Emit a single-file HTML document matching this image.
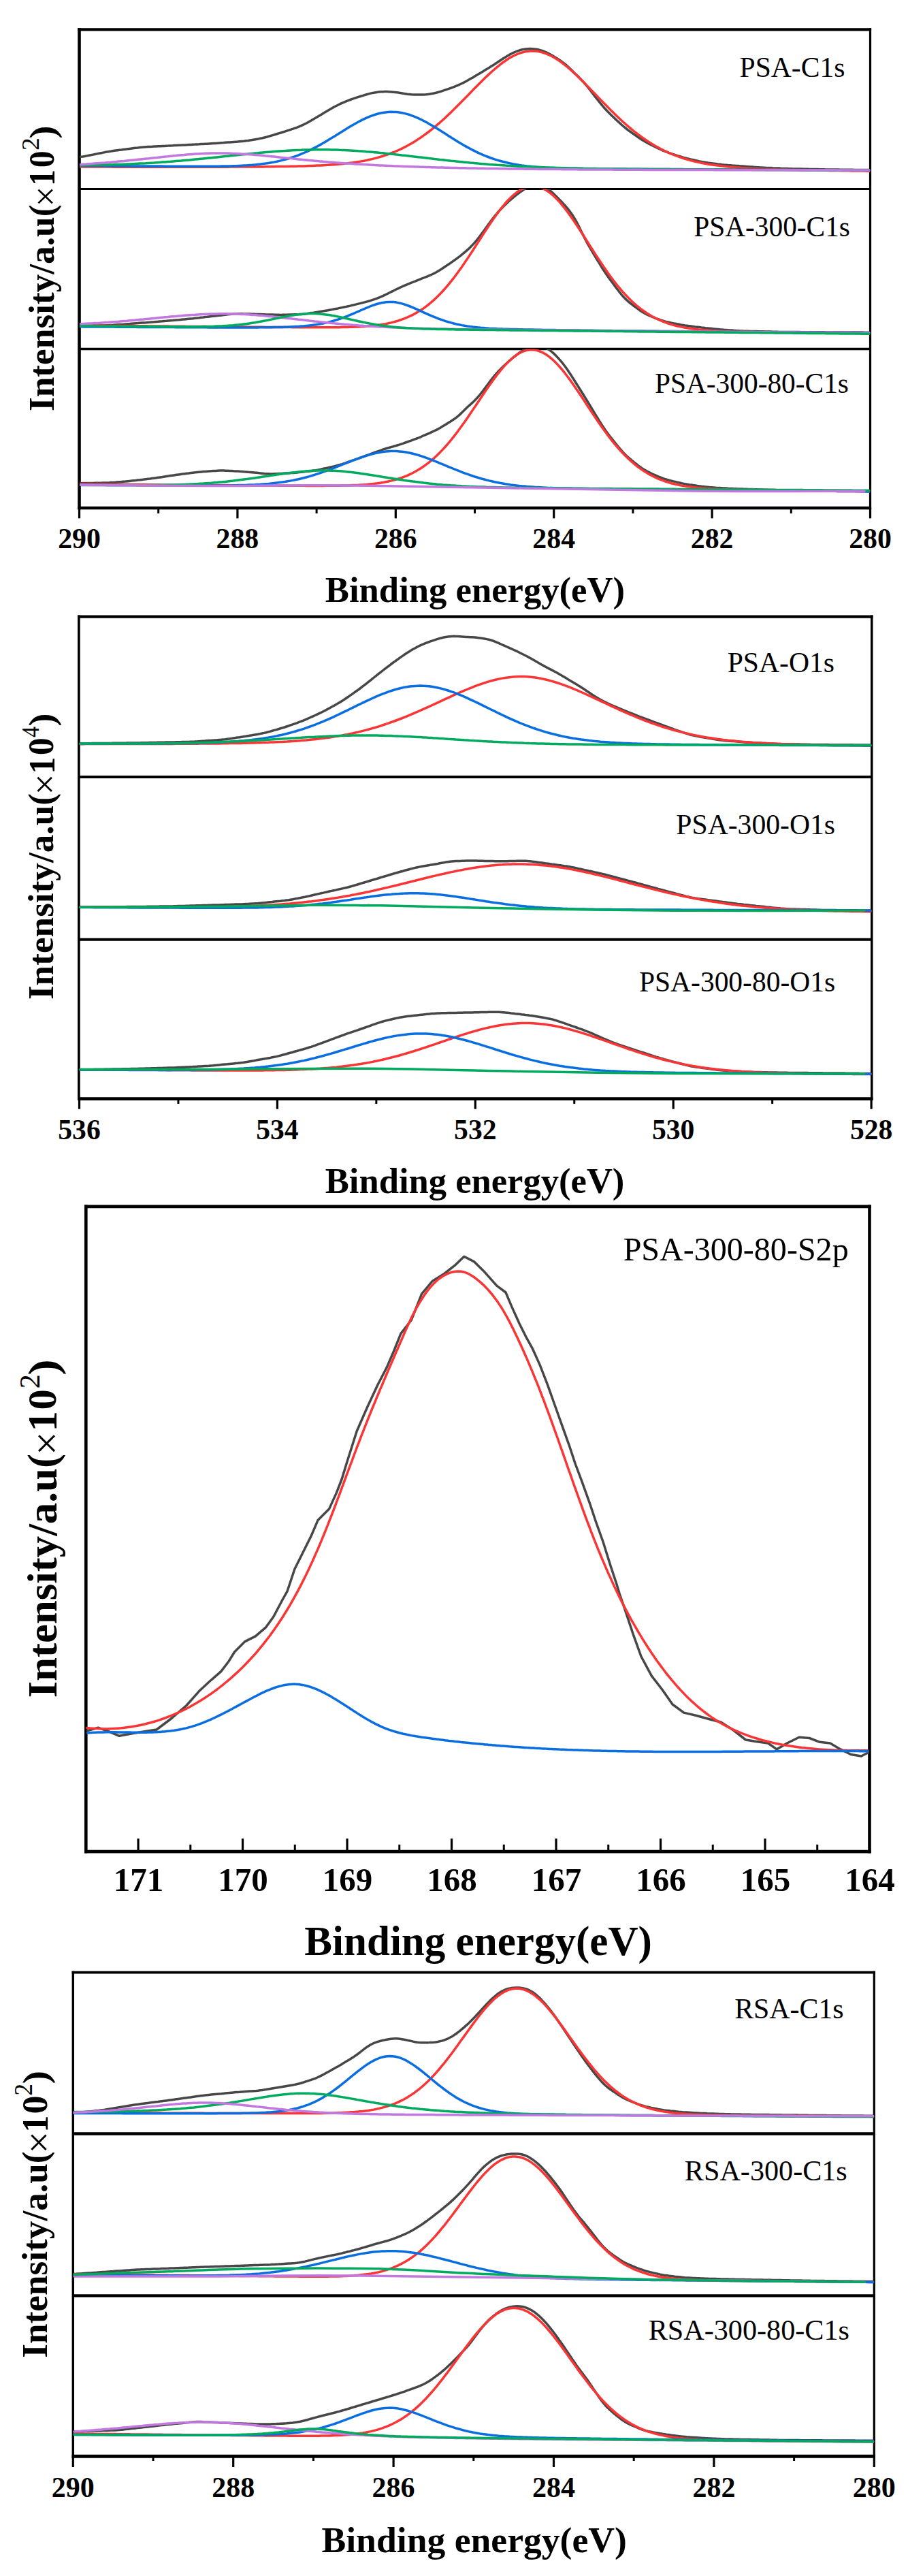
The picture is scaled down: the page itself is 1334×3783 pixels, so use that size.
<!DOCTYPE html><html><head><meta charset="utf-8"><style>html,body{margin:0;padding:0;background:#fff}svg{display:block}</style></head><body><svg width="1334" height="3783" viewBox="0 0 1334 3783"><defs><clipPath id="c1"><rect x="116.50" y="43.35" width="1162.00" height="234.25"/></clipPath><clipPath id="c2"><rect x="116.50" y="277.60" width="1162.00" height="234.85"/></clipPath><clipPath id="c3"><rect x="116.50" y="512.45" width="1162.00" height="233.55"/></clipPath><clipPath id="c4"><rect x="115.85" y="905.55" width="1164.90" height="235.50"/></clipPath><clipPath id="c5"><rect x="115.85" y="1141.05" width="1164.90" height="238.60"/></clipPath><clipPath id="c6"><rect x="115.85" y="1379.65" width="1164.90" height="234.05"/></clipPath><clipPath id="c7"><rect x="126.30" y="1771.90" width="1151.20" height="947.15"/></clipPath><clipPath id="c8"><rect x="107.30" y="2896.60" width="1177.00" height="236.90"/></clipPath><clipPath id="c9"><rect x="107.30" y="3133.50" width="1177.00" height="237.95"/></clipPath><clipPath id="c10"><rect x="107.30" y="3371.45" width="1177.00" height="235.80"/></clipPath></defs><rect width="100%" height="100%" fill="#fff"/><line x1="116.50" y1="277.60" x2="1278.50" y2="277.60" stroke="#000" stroke-width="3.00"/>
<line x1="116.50" y1="512.45" x2="1278.50" y2="512.45" stroke="#000" stroke-width="3.40"/>
<line x1="114.20" y1="43.35" x2="1280.10" y2="43.35" stroke="#000" stroke-width="4.10"/>
<line x1="114.20" y1="746.00" x2="1280.10" y2="746.00" stroke="#000" stroke-width="4.40"/>
<line x1="116.50" y1="41.30" x2="116.50" y2="748.20" stroke="#000" stroke-width="4.60"/>
<line x1="1278.50" y1="41.30" x2="1278.50" y2="748.20" stroke="#000" stroke-width="3.20"/>
<line x1="1278.50" y1="746.00" x2="1278.50" y2="761.30" stroke="#000" stroke-width="3.20"/>
<line x1="1162.30" y1="746.00" x2="1162.30" y2="754.00" stroke="#000" stroke-width="3.00"/>
<line x1="1046.10" y1="746.00" x2="1046.10" y2="761.30" stroke="#000" stroke-width="3.20"/>
<line x1="929.90" y1="746.00" x2="929.90" y2="754.00" stroke="#000" stroke-width="3.00"/>
<line x1="813.70" y1="746.00" x2="813.70" y2="761.30" stroke="#000" stroke-width="3.20"/>
<line x1="697.50" y1="746.00" x2="697.50" y2="754.00" stroke="#000" stroke-width="3.00"/>
<line x1="581.30" y1="746.00" x2="581.30" y2="761.30" stroke="#000" stroke-width="3.20"/>
<line x1="465.10" y1="746.00" x2="465.10" y2="754.00" stroke="#000" stroke-width="3.00"/>
<line x1="348.90" y1="746.00" x2="348.90" y2="761.30" stroke="#000" stroke-width="3.20"/>
<line x1="232.70" y1="746.00" x2="232.70" y2="754.00" stroke="#000" stroke-width="3.00"/>
<line x1="116.50" y1="746.00" x2="116.50" y2="761.30" stroke="#000" stroke-width="3.20"/>
<text x="1278.50" y="805.00" font-family="Liberation Serif" font-weight="bold" font-size="41.80" text-anchor="middle">280</text>
<text x="1046.10" y="805.00" font-family="Liberation Serif" font-weight="bold" font-size="41.80" text-anchor="middle">282</text>
<text x="813.70" y="805.00" font-family="Liberation Serif" font-weight="bold" font-size="41.80" text-anchor="middle">284</text>
<text x="581.30" y="805.00" font-family="Liberation Serif" font-weight="bold" font-size="41.80" text-anchor="middle">286</text>
<text x="348.90" y="805.00" font-family="Liberation Serif" font-weight="bold" font-size="41.80" text-anchor="middle">288</text>
<text x="116.50" y="805.00" font-family="Liberation Serif" font-weight="bold" font-size="41.80" text-anchor="middle">290</text>
<text x="477.87" y="884.20" font-family="Liberation Serif" font-weight="bold" font-size="52.65">Binding energy(eV)</text>
<text transform="translate(79.08 604.00) rotate(-90) scale(1.0286 1)" x="0" y="0" font-family="Liberation Serif" font-weight="bold" font-size="51.82">Intensity/a.u(</text>
<text transform="translate(85.23 303.55) rotate(-90) scale(0.9561 1)" x="0" y="0" font-family="Liberation Serif" font-size="55.61">×</text>
<text transform="translate(80.00 272.95) rotate(-90) scale(0.8894 1)" x="0" y="0" font-family="Liberation Serif" font-weight="bold" font-size="54.09">1</text>
<text transform="translate(78.95 246.29) rotate(-90) scale(0.9437 1)" x="0" y="0" font-family="Liberation Serif" font-weight="bold" font-size="52.50">0</text>
<text transform="translate(57.35 221.10) rotate(-90) scale(1.0801 1)" x="0" y="0" font-family="Liberation Serif" font-size="34.78">2</text>
<text transform="translate(80.03 203.42) rotate(-90) scale(1.1068 1)" x="0" y="0" font-family="Liberation Serif" font-weight="bold" font-size="51.78">)</text>
<text x="1086.57" y="112.70" font-family="Liberation Serif" font-size="41.58">PSA-C1s</text>
<text x="1019.27" y="346.50" font-family="Liberation Serif" font-size="41.33">PSA-300-C1s</text>
<text x="961.97" y="576.50" font-family="Liberation Serif" font-size="41.37">PSA-300-80-C1s</text>
<line x1="115.85" y1="1141.05" x2="1280.75" y2="1141.05" stroke="#000" stroke-width="4.00"/>
<line x1="115.85" y1="1379.65" x2="1280.75" y2="1379.65" stroke="#000" stroke-width="4.00"/>
<line x1="114.00" y1="905.55" x2="1282.50" y2="905.55" stroke="#000" stroke-width="4.30"/>
<line x1="114.00" y1="1613.70" x2="1282.50" y2="1613.70" stroke="#000" stroke-width="4.80"/>
<line x1="115.85" y1="903.40" x2="115.85" y2="1616.10" stroke="#000" stroke-width="3.70"/>
<line x1="1280.75" y1="903.40" x2="1280.75" y2="1616.10" stroke="#000" stroke-width="3.50"/>
<line x1="1280.10" y1="1613.70" x2="1280.10" y2="1628.70" stroke="#000" stroke-width="3.20"/>
<line x1="1134.65" y1="1613.70" x2="1134.65" y2="1621.00" stroke="#000" stroke-width="3.00"/>
<line x1="989.20" y1="1613.70" x2="989.20" y2="1628.70" stroke="#000" stroke-width="3.20"/>
<line x1="843.75" y1="1613.70" x2="843.75" y2="1621.00" stroke="#000" stroke-width="3.00"/>
<line x1="698.30" y1="1613.70" x2="698.30" y2="1628.70" stroke="#000" stroke-width="3.20"/>
<line x1="552.85" y1="1613.70" x2="552.85" y2="1621.00" stroke="#000" stroke-width="3.00"/>
<line x1="407.40" y1="1613.70" x2="407.40" y2="1628.70" stroke="#000" stroke-width="3.20"/>
<line x1="261.95" y1="1613.70" x2="261.95" y2="1621.00" stroke="#000" stroke-width="3.00"/>
<line x1="116.50" y1="1613.70" x2="116.50" y2="1628.70" stroke="#000" stroke-width="3.20"/>
<text x="1280.10" y="1672.80" font-family="Liberation Serif" font-weight="bold" font-size="41.60" text-anchor="middle">528</text>
<text x="989.20" y="1672.80" font-family="Liberation Serif" font-weight="bold" font-size="41.60" text-anchor="middle">530</text>
<text x="698.30" y="1672.80" font-family="Liberation Serif" font-weight="bold" font-size="41.60" text-anchor="middle">532</text>
<text x="407.40" y="1672.80" font-family="Liberation Serif" font-weight="bold" font-size="41.60" text-anchor="middle">534</text>
<text x="116.50" y="1672.80" font-family="Liberation Serif" font-weight="bold" font-size="41.60" text-anchor="middle">536</text>
<text x="477.77" y="1752.40" font-family="Liberation Serif" font-weight="bold" font-size="52.59">Binding energy(eV)</text>
<text transform="translate(78.47 1468.10) rotate(-90) scale(1.0124 1)" x="0" y="0" font-family="Liberation Serif" font-weight="bold" font-size="52.58">Intensity/a.u(</text>
<text transform="translate(84.23 1167.15) rotate(-90) scale(0.9781 1)" x="0" y="0" font-family="Liberation Serif" font-size="55.61">×</text>
<text transform="translate(79.50 1136.58) rotate(-90) scale(0.9194 1)" x="0" y="0" font-family="Liberation Serif" font-weight="bold" font-size="54.09">1</text>
<text transform="translate(78.45 1109.35) rotate(-90) scale(0.9870 1)" x="0" y="0" font-family="Liberation Serif" font-weight="bold" font-size="52.50">0</text>
<text transform="translate(56.84 1082.63) rotate(-90) scale(0.8732 1)" x="0" y="0" font-family="Liberation Serif" font-size="36.06">4</text>
<text transform="translate(79.41 1066.42) rotate(-90) scale(1.0951 1)" x="0" y="0" font-family="Liberation Serif" font-weight="bold" font-size="52.33">)</text>
<text x="1068.67" y="987.30" font-family="Liberation Serif" font-size="41.64">PSA-O1s</text>
<text x="993.37" y="1225.30" font-family="Liberation Serif" font-size="41.64">PSA-300-O1s</text>
<text x="938.97" y="1455.70" font-family="Liberation Serif" font-size="41.49">PSA-300-80-O1s</text>
<line x1="124.00" y1="1771.90" x2="1279.80" y2="1771.90" stroke="#000" stroke-width="4.60"/>
<line x1="124.00" y1="2719.05" x2="1279.80" y2="2719.05" stroke="#000" stroke-width="4.70"/>
<line x1="126.30" y1="1769.60" x2="126.30" y2="2721.40" stroke="#000" stroke-width="4.60"/>
<line x1="1277.50" y1="1769.60" x2="1277.50" y2="2721.40" stroke="#000" stroke-width="4.60"/>
<line x1="203.05" y1="2719.05" x2="203.05" y2="2700.00" stroke="#000" stroke-width="3.20"/>
<line x1="279.79" y1="2719.05" x2="279.79" y2="2708.80" stroke="#000" stroke-width="3.00"/>
<line x1="356.54" y1="2719.05" x2="356.54" y2="2700.00" stroke="#000" stroke-width="3.20"/>
<line x1="433.28" y1="2719.05" x2="433.28" y2="2708.80" stroke="#000" stroke-width="3.00"/>
<line x1="510.03" y1="2719.05" x2="510.03" y2="2700.00" stroke="#000" stroke-width="3.20"/>
<line x1="586.77" y1="2719.05" x2="586.77" y2="2708.80" stroke="#000" stroke-width="3.00"/>
<line x1="663.51" y1="2719.05" x2="663.51" y2="2700.00" stroke="#000" stroke-width="3.20"/>
<line x1="740.26" y1="2719.05" x2="740.26" y2="2708.80" stroke="#000" stroke-width="3.00"/>
<line x1="817.00" y1="2719.05" x2="817.00" y2="2700.00" stroke="#000" stroke-width="3.20"/>
<line x1="893.75" y1="2719.05" x2="893.75" y2="2708.80" stroke="#000" stroke-width="3.00"/>
<line x1="970.50" y1="2719.05" x2="970.50" y2="2700.00" stroke="#000" stroke-width="3.20"/>
<line x1="1047.24" y1="2719.05" x2="1047.24" y2="2708.80" stroke="#000" stroke-width="3.00"/>
<line x1="1123.99" y1="2719.05" x2="1123.99" y2="2700.00" stroke="#000" stroke-width="3.20"/>
<line x1="1200.73" y1="2719.05" x2="1200.73" y2="2708.80" stroke="#000" stroke-width="3.00"/>
<text x="1277.98" y="2776.90" font-family="Liberation Serif" font-weight="bold" font-size="49.00" text-anchor="middle">164</text>
<text x="1124.49" y="2776.90" font-family="Liberation Serif" font-weight="bold" font-size="49.00" text-anchor="middle">165</text>
<text x="971.00" y="2776.90" font-family="Liberation Serif" font-weight="bold" font-size="49.00" text-anchor="middle">166</text>
<text x="817.50" y="2776.90" font-family="Liberation Serif" font-weight="bold" font-size="49.00" text-anchor="middle">167</text>
<text x="664.01" y="2776.90" font-family="Liberation Serif" font-weight="bold" font-size="49.00" text-anchor="middle">168</text>
<text x="510.53" y="2776.90" font-family="Liberation Serif" font-weight="bold" font-size="49.00" text-anchor="middle">169</text>
<text x="357.04" y="2776.90" font-family="Liberation Serif" font-weight="bold" font-size="49.00" text-anchor="middle">170</text>
<text x="203.55" y="2776.90" font-family="Liberation Serif" font-weight="bold" font-size="49.00" text-anchor="middle">171</text>
<text x="447.29" y="2871.20" font-family="Liberation Serif" font-weight="bold" font-size="61.07">Binding energy(eV)</text>
<text transform="translate(83.38 2493.59) rotate(-90) scale(1.0235 1)" x="0" y="0" font-family="Liberation Serif" font-weight="bold" font-size="61.52">Intensity/a.u(</text>
<text transform="translate(89.02 2137.02) rotate(-90) scale(0.9960 1)" x="0" y="0" font-family="Liberation Serif" font-size="61.71">×</text>
<text transform="translate(83.40 2102.22) rotate(-90) scale(0.9798 1)" x="0" y="0" font-family="Liberation Serif" font-weight="bold" font-size="61.52">1</text>
<text transform="translate(82.22 2070.53) rotate(-90) scale(1.0329 1)" x="0" y="0" font-family="Liberation Serif" font-weight="bold" font-size="58.97">0</text>
<text transform="translate(58.29 2039.20) rotate(-90) scale(1.0228 1)" x="0" y="0" font-family="Liberation Serif" font-size="41.49">2</text>
<text transform="translate(84.08 2019.82) rotate(-90) scale(1.1687 1)" x="0" y="0" font-family="Liberation Serif" font-weight="bold" font-size="60.56">)</text>
<text x="915.64" y="1850.80" font-family="Liberation Serif" font-size="48.05">PSA-300-80-S2p</text>
<line x1="107.30" y1="3133.50" x2="1284.30" y2="3133.50" stroke="#000" stroke-width="4.40"/>
<line x1="107.30" y1="3371.45" x2="1284.30" y2="3371.45" stroke="#000" stroke-width="4.20"/>
<line x1="105.60" y1="2896.60" x2="1285.90" y2="2896.60" stroke="#000" stroke-width="3.60"/>
<line x1="105.60" y1="3607.25" x2="1285.90" y2="3607.25" stroke="#000" stroke-width="4.80"/>
<line x1="107.30" y1="2894.80" x2="107.30" y2="3609.65" stroke="#000" stroke-width="3.40"/>
<line x1="1284.30" y1="2894.80" x2="1284.30" y2="3609.65" stroke="#000" stroke-width="3.20"/>
<line x1="1284.30" y1="3607.25" x2="1284.30" y2="3623.00" stroke="#000" stroke-width="3.20"/>
<line x1="1166.60" y1="3607.25" x2="1166.60" y2="3614.00" stroke="#000" stroke-width="3.00"/>
<line x1="1048.90" y1="3607.25" x2="1048.90" y2="3623.00" stroke="#000" stroke-width="3.20"/>
<line x1="931.20" y1="3607.25" x2="931.20" y2="3614.00" stroke="#000" stroke-width="3.00"/>
<line x1="813.50" y1="3607.25" x2="813.50" y2="3623.00" stroke="#000" stroke-width="3.20"/>
<line x1="695.80" y1="3607.25" x2="695.80" y2="3614.00" stroke="#000" stroke-width="3.00"/>
<line x1="578.10" y1="3607.25" x2="578.10" y2="3623.00" stroke="#000" stroke-width="3.20"/>
<line x1="460.40" y1="3607.25" x2="460.40" y2="3614.00" stroke="#000" stroke-width="3.00"/>
<line x1="342.70" y1="3607.25" x2="342.70" y2="3623.00" stroke="#000" stroke-width="3.20"/>
<line x1="225.00" y1="3607.25" x2="225.00" y2="3614.00" stroke="#000" stroke-width="3.00"/>
<line x1="107.30" y1="3607.25" x2="107.30" y2="3623.00" stroke="#000" stroke-width="3.20"/>
<text x="1284.30" y="3667.20" font-family="Liberation Serif" font-weight="bold" font-size="42.00" text-anchor="middle">280</text>
<text x="1048.90" y="3667.20" font-family="Liberation Serif" font-weight="bold" font-size="42.00" text-anchor="middle">282</text>
<text x="813.50" y="3667.20" font-family="Liberation Serif" font-weight="bold" font-size="42.00" text-anchor="middle">284</text>
<text x="578.10" y="3667.20" font-family="Liberation Serif" font-weight="bold" font-size="42.00" text-anchor="middle">286</text>
<text x="342.70" y="3667.20" font-family="Liberation Serif" font-weight="bold" font-size="42.00" text-anchor="middle">288</text>
<text x="107.30" y="3667.20" font-family="Liberation Serif" font-weight="bold" font-size="42.00" text-anchor="middle">290</text>
<text x="472.46" y="3748.20" font-family="Liberation Serif" font-weight="bold" font-size="53.63">Binding energy(eV)</text>
<text transform="translate(69.07 3462.70) rotate(-90) scale(1.0127 1)" x="0" y="0" font-family="Liberation Serif" font-weight="bold" font-size="52.58">Intensity/a.u(</text>
<text transform="translate(75.55 3162.42) rotate(-90) scale(0.9958 1)" x="0" y="0" font-family="Liberation Serif" font-size="58.05">×</text>
<text transform="translate(70.00 3131.56) rotate(-90) scale(0.9017 1)" x="0" y="0" font-family="Liberation Serif" font-weight="bold" font-size="54.85">1</text>
<text transform="translate(68.94 3104.42) rotate(-90) scale(1.0118 1)" x="0" y="0" font-family="Liberation Serif" font-weight="bold" font-size="53.24">0</text>
<text transform="translate(46.83 3077.50) rotate(-90) scale(0.9489 1)" x="0" y="0" font-family="Liberation Serif" font-size="37.01">2</text>
<text transform="translate(69.79 3060.47) rotate(-90) scale(1.1126 1)" x="0" y="0" font-family="Liberation Serif" font-weight="bold" font-size="52.89">)</text>
<text x="1079.16" y="2964.00" font-family="Liberation Serif" font-size="41.85">RSA-C1s</text>
<text x="1005.86" y="3201.90" font-family="Liberation Serif" font-size="42.16">RSA-300-C1s</text>
<text x="952.76" y="3436.00" font-family="Liberation Serif" font-size="42.16">RSA-300-80-C1s</text>
<g clip-path="url(#c1)">
<path d="M118.5 230.3 L121.5 230.0 L124.5 229.5 L127.5 228.9 L130.5 228.3 L133.5 227.7 L136.5 227.1 L139.5 226.5 L142.5 225.9 L145.5 225.3 L148.5 224.7 L151.5 224.1 L154.5 223.5 L157.5 222.9 L160.5 222.4 L163.5 222.0 L166.5 221.5 L169.5 221.1 L172.5 220.7 L175.5 220.3 L178.5 220.0 L181.5 219.6 L184.5 219.2 L187.5 218.8 L190.5 218.4 L193.5 218.0 L196.5 217.6 L199.5 217.2 L202.5 216.9 L205.5 216.5 L208.5 216.2 L211.5 216.0 L214.5 215.8 L217.5 215.6 L220.5 215.4 L223.5 215.3 L226.5 215.1 L229.5 215.0 L232.5 214.8 L235.5 214.7 L238.5 214.5 L241.5 214.4 L244.5 214.2 L247.5 214.1 L250.5 213.9 L253.5 213.8 L256.5 213.6 L259.5 213.5 L262.5 213.3 L265.5 213.2 L268.5 213.0 L271.5 212.9 L274.5 212.7 L277.5 212.5 L280.5 212.4 L283.5 212.2 L286.5 212.1 L289.5 211.9 L292.5 211.8 L295.5 211.6 L298.5 211.5 L301.5 211.3 L304.5 211.2 L307.5 211.0 L310.5 210.8 L313.5 210.6 L316.5 210.4 L319.5 210.2 L322.5 210.0 L325.5 209.8 L328.5 209.6 L331.5 209.3 L334.5 209.1 L337.5 208.9 L340.5 208.7 L343.5 208.5 L346.5 208.3 L349.5 208.1 L352.5 207.8 L355.5 207.5 L358.5 207.2 L361.5 206.8 L364.5 206.4 L367.5 205.9 L370.5 205.4 L373.5 204.9 L376.5 204.4 L379.5 203.9 L382.5 203.3 L385.5 202.7 L388.5 202.0 L391.5 201.3 L394.5 200.4 L397.5 199.5 L400.5 198.6 L403.5 197.7 L406.5 196.8 L409.5 195.9 L412.5 195.0 L415.5 194.0 L418.5 193.1 L421.5 192.1 L424.5 191.1 L427.5 190.2 L430.5 189.2 L433.5 188.1 L436.5 187.1 L439.5 185.9 L442.5 184.6 L445.5 183.2 L448.5 181.7 L451.5 180.2 L454.5 178.5 L457.5 176.8 L460.5 175.0 L463.5 173.3 L466.5 171.5 L469.5 169.7 L472.5 167.9 L475.5 166.1 L478.5 164.3 L481.5 162.5 L484.5 160.8 L487.5 159.0 L490.5 157.3 L493.5 155.7 L496.5 154.2 L499.5 152.7 L502.5 151.4 L505.5 150.1 L508.5 148.8 L511.5 147.6 L514.5 146.5 L517.5 145.4 L520.5 144.4 L523.5 143.4 L526.5 142.4 L529.5 141.5 L532.5 140.6 L535.5 139.6 L538.5 138.7 L541.5 137.9 L544.5 137.1 L547.5 136.4 L550.5 135.9 L553.5 135.4 L556.5 135.1 L559.5 134.8 L562.5 134.7 L565.5 134.6 L568.5 134.6 L571.5 134.7 L574.5 134.9 L577.5 135.2 L580.5 135.5 L583.5 135.8 L586.5 136.3 L589.5 136.8 L592.5 137.3 L595.5 137.7 L598.5 138.2 L601.5 138.5 L604.5 138.8 L607.5 138.9 L610.5 139.1 L613.5 139.1 L616.5 139.1 L619.5 139.0 L622.5 138.9 L625.5 138.7 L628.5 138.4 L631.5 138.0 L634.5 137.5 L637.5 137.0 L640.5 136.3 L643.5 135.5 L646.5 134.6 L649.5 133.7 L652.5 132.7 L655.5 131.7 L658.5 130.7 L661.5 129.6 L664.5 128.5 L667.5 127.3 L670.5 126.1 L673.5 124.9 L676.5 123.5 L679.5 122.1 L682.5 120.6 L685.5 119.0 L688.5 117.3 L691.5 115.6 L694.5 113.9 L697.5 112.1 L700.5 110.3 L703.5 108.5 L706.5 106.7 L709.5 104.9 L712.5 103.1 L715.5 101.3 L718.5 99.5 L721.5 97.6 L724.5 95.7 L727.5 93.8 L730.5 91.8 L733.5 89.8 L736.5 87.8 L739.5 85.8 L742.5 83.9 L745.5 82.1 L748.5 80.4 L751.5 78.8 L754.5 77.3 L757.5 76.0 L760.5 74.8 L763.5 73.8 L766.5 73.0 L769.5 72.4 L772.5 72.0 L775.5 71.7 L778.5 71.6 L781.5 71.7 L784.5 71.9 L787.5 72.3 L790.5 72.8 L793.5 73.6 L796.5 74.5 L799.5 75.6 L802.5 76.9 L805.5 78.3 L808.5 79.9 L811.5 81.6 L814.5 83.4 L817.5 85.2 L820.5 87.2 L823.5 89.3 L826.5 91.4 L829.5 93.7 L832.5 96.2 L835.5 98.9 L838.5 101.8 L841.5 104.7 L844.5 107.7 L847.5 110.6 L850.5 113.6 L853.5 116.7 L856.5 119.8 L859.5 123.2 L862.5 126.7 L865.5 130.4 L868.5 134.3 L871.5 138.2 L874.5 142.1 L877.5 145.9 L880.5 149.7 L883.5 153.4 L886.5 157.0 L889.5 160.3 L892.5 163.5 L895.5 166.5 L898.5 169.4 L901.5 172.3 L904.5 175.2 L907.5 178.0 L910.5 180.8 L913.5 183.5 L916.5 186.0 L919.5 188.5 L922.5 190.8 L925.5 193.0 L928.5 195.2 L931.5 197.3 L934.5 199.4 L937.5 201.5 L940.5 203.5 L943.5 205.4 L946.5 207.3 L949.5 209.0 L952.5 210.6 L955.5 212.2 L958.5 213.7 L961.5 215.2 L964.5 216.7 L967.5 218.1 L970.5 219.5 L973.5 220.9 L976.5 222.1 L979.5 223.2 L982.5 224.3 L985.5 225.3 L988.5 226.3 L991.5 227.3 L994.5 228.3 L997.5 229.3 L1000.5 230.2 L1003.5 231.1 L1006.5 231.9 L1009.5 232.7 L1012.5 233.4 L1015.5 234.1 L1018.5 234.8 L1021.5 235.5 L1024.5 236.2 L1027.5 236.9 L1030.5 237.5 L1033.5 238.1 L1036.5 238.5 L1039.5 239.0 L1042.5 239.4 L1045.5 239.8 L1048.5 240.2 L1051.5 240.6 L1054.5 241.0 L1057.5 241.3 L1060.5 241.7 L1063.5 242.0 L1066.5 242.2 L1069.5 242.5 L1072.5 242.7 L1075.5 243.0 L1078.5 243.2 L1081.5 243.4 L1084.5 243.6 L1087.5 243.9 L1090.5 244.1 L1093.5 244.3 L1096.5 244.5 L1099.5 244.7 L1102.5 244.9 L1105.5 245.1 L1108.5 245.4 L1111.5 245.6 L1114.5 245.7 L1117.5 245.9 L1120.5 246.1 L1123.5 246.2 L1126.5 246.4 L1129.5 246.5 L1132.5 246.6 L1135.5 246.8 L1138.5 246.9 L1141.5 247.0 L1144.5 247.1 L1147.5 247.3 L1150.5 247.4 L1153.5 247.5 L1156.5 247.6 L1159.5 247.7 L1162.5 247.8 L1165.5 247.9 L1168.5 248.0 L1171.5 248.0 L1174.5 248.1 L1177.5 248.1 L1180.5 248.2 L1183.5 248.3 L1186.5 248.3 L1189.5 248.4 L1192.5 248.5 L1195.5 248.5 L1198.5 248.6 L1201.5 248.6 L1204.5 248.7 L1207.5 248.7 L1210.5 248.8 L1213.5 248.9 L1216.5 248.9 L1219.5 249.0 L1222.5 249.0 L1225.5 249.1 L1228.5 249.1 L1231.5 249.1 L1234.5 249.2 L1237.5 249.2 L1240.5 249.2 L1243.5 249.2 L1246.5 249.3 L1249.5 249.3 L1252.5 249.3 L1255.5 249.4 L1258.5 249.4 L1261.5 249.4 L1264.5 249.5 L1267.5 249.5 L1270.5 249.5 L1273.5 249.6 L1276.5 249.6 L1277.0 249.6" fill="none" stroke="#474747" stroke-width="3.50" stroke-linejoin="round" stroke-linecap="round"/>
<path d="M118.5 245.0 L122.5 245.0 L126.5 245.0 L130.5 245.1 L134.5 245.1 L138.5 245.1 L142.5 245.1 L146.5 245.1 L150.5 245.1 L154.5 245.1 L158.5 245.1 L162.5 245.1 L166.5 245.2 L170.5 245.2 L174.5 245.2 L178.5 245.2 L182.5 245.2 L186.5 245.2 L190.5 245.2 L194.5 245.2 L198.5 245.2 L202.5 245.2 L206.5 245.2 L210.5 245.2 L214.5 245.2 L218.5 245.2 L222.5 245.2 L226.5 245.3 L230.5 245.3 L234.5 245.3 L238.5 245.3 L242.5 245.3 L246.5 245.3 L250.5 245.3 L254.5 245.3 L258.5 245.3 L262.5 245.3 L266.5 245.3 L270.5 245.3 L274.5 245.3 L278.5 245.3 L282.5 245.3 L286.5 245.3 L290.5 245.3 L294.5 245.2 L298.5 245.2 L302.5 245.2 L306.5 245.2 L310.5 245.2 L314.5 245.2 L318.5 245.2 L322.5 245.2 L326.5 245.2 L330.5 245.2 L334.5 245.2 L338.5 245.1 L342.5 245.1 L346.5 245.1 L350.5 245.1 L354.5 245.1 L358.5 245.1 L362.5 245.0 L366.5 245.0 L370.5 245.0 L374.5 245.0 L378.5 244.9 L382.5 244.9 L386.5 244.9 L390.5 244.8 L394.5 244.8 L398.5 244.7 L402.5 244.7 L406.5 244.6 L410.5 244.6 L414.5 244.5 L418.5 244.5 L422.5 244.4 L426.5 244.3 L430.5 244.3 L434.5 244.2 L438.5 244.1 L442.5 244.0 L446.5 243.9 L450.5 243.7 L454.5 243.6 L458.5 243.5 L462.5 243.3 L466.5 243.1 L470.5 243.0 L474.5 242.7 L478.5 242.5 L482.5 242.3 L486.5 242.0 L490.5 241.7 L494.5 241.4 L498.5 241.0 L502.5 240.7 L506.5 240.3 L510.5 239.8 L514.5 239.3 L518.5 238.8 L522.5 238.2 L526.5 237.6 L530.5 236.9 L534.5 236.2 L538.5 235.4 L542.5 234.5 L546.5 233.6 L550.5 232.6 L554.5 231.6 L558.5 230.4 L562.5 229.2 L566.5 227.9 L570.5 226.5 L574.5 225.0 L578.5 223.5 L582.5 221.8 L586.5 220.0 L590.5 218.1 L594.5 216.1 L598.5 214.0 L602.5 211.8 L606.5 209.4 L610.5 207.0 L614.5 204.4 L618.5 201.7 L622.5 198.9 L626.5 196.0 L630.5 193.0 L634.5 189.9 L638.5 186.6 L642.5 183.2 L646.5 179.8 L650.5 176.2 L654.5 172.6 L658.5 168.8 L662.5 165.0 L666.5 161.1 L670.5 157.1 L674.5 153.1 L678.5 149.1 L682.5 145.0 L686.5 140.9 L690.5 136.8 L694.5 132.6 L698.5 128.6 L702.5 124.5 L706.5 120.5 L710.5 116.5 L714.5 112.6 L718.5 108.9 L722.5 105.2 L726.5 101.7 L730.5 98.3 L734.5 95.1 L738.5 92.0 L742.5 89.2 L746.5 86.5 L750.5 84.1 L754.5 82.0 L758.5 80.1 L762.5 78.5 L766.5 77.2 L770.5 76.1 L774.5 75.4 L778.5 75.0 L782.5 74.9 L786.5 75.1 L790.5 75.6 L794.5 76.4 L798.5 77.5 L802.5 78.9 L806.5 80.6 L810.5 82.5 L814.5 84.8 L818.5 87.2 L822.5 89.9 L826.5 92.8 L830.5 96.0 L834.5 99.2 L838.5 102.7 L842.5 106.3 L846.5 110.0 L850.5 113.9 L854.5 117.8 L858.5 121.8 L862.5 125.9 L866.5 130.0 L870.5 134.1 L874.5 138.3 L878.5 142.5 L882.5 146.6 L886.5 150.8 L890.5 154.8 L894.5 158.9 L898.5 162.9 L902.5 166.8 L906.5 170.7 L910.5 174.5 L914.5 178.2 L918.5 181.8 L922.5 185.3 L926.5 188.7 L930.5 192.0 L934.5 195.2 L938.5 198.2 L942.5 201.2 L946.5 204.0 L950.5 206.7 L954.5 209.3 L958.5 211.8 L962.5 214.2 L966.5 216.4 L970.5 218.6 L974.5 220.6 L978.5 222.5 L982.5 224.4 L986.5 226.1 L990.5 227.7 L994.5 229.2 L998.5 230.7 L1002.5 232.0 L1006.5 233.3 L1010.5 234.4 L1014.5 235.5 L1018.5 236.6 L1022.5 237.5 L1026.5 238.4 L1030.5 239.3 L1034.5 240.0 L1038.5 240.8 L1042.5 241.4 L1046.5 242.0 L1050.5 242.6 L1054.5 243.1 L1058.5 243.6 L1062.5 244.1 L1066.5 244.5 L1070.5 244.9 L1074.5 245.3 L1078.5 245.6 L1082.5 245.9 L1086.5 246.2 L1090.5 246.5 L1094.5 246.7 L1098.5 247.0 L1102.5 247.2 L1106.5 247.4 L1110.5 247.6 L1114.5 247.8 L1118.5 247.9 L1122.5 248.1 L1126.5 248.2 L1130.5 248.4 L1134.5 248.5 L1138.5 248.6 L1142.5 248.8 L1146.5 248.9 L1150.5 249.0 L1154.5 249.1 L1158.5 249.2 L1162.5 249.3 L1166.5 249.4 L1170.5 249.5 L1174.5 249.6 L1178.5 249.7 L1182.5 249.7 L1186.5 249.8 L1190.5 249.9 L1194.5 250.0 L1198.5 250.0 L1202.5 250.1 L1206.5 250.2 L1210.5 250.3 L1214.5 250.3 L1218.5 250.4 L1222.5 250.4 L1226.5 250.5 L1230.5 250.6 L1234.5 250.6 L1238.5 250.7 L1242.5 250.8 L1246.5 250.8 L1250.5 250.9 L1254.5 250.9 L1258.5 251.0 L1262.5 251.0 L1266.5 251.1 L1270.5 251.1 L1274.5 251.2 L1277.0 251.2" fill="none" stroke="#fa3535" stroke-width="3.50" stroke-linejoin="round" stroke-linecap="round"/>
<path d="M118.5 243.4 L122.5 243.5 L126.5 243.5 L130.5 243.5 L134.5 243.5 L138.5 243.6 L142.5 243.6 L146.5 243.6 L150.5 243.6 L154.5 243.7 L158.5 243.7 L162.5 243.7 L166.5 243.7 L170.5 243.7 L174.5 243.8 L178.5 243.8 L182.5 243.8 L186.5 243.8 L190.5 243.9 L194.5 243.9 L198.5 243.9 L202.5 243.9 L206.5 244.0 L210.5 244.0 L214.5 244.0 L218.5 244.0 L222.5 244.1 L226.5 244.1 L230.5 244.1 L234.5 244.1 L238.5 244.1 L242.5 244.2 L246.5 244.2 L250.5 244.2 L254.5 244.2 L258.5 244.2 L262.5 244.3 L266.5 244.3 L270.5 244.3 L274.5 244.3 L278.5 244.3 L282.5 244.3 L286.5 244.3 L290.5 244.3 L294.5 244.3 L298.5 244.3 L302.5 244.3 L306.5 244.3 L310.5 244.3 L314.5 244.3 L318.5 244.2 L322.5 244.2 L326.5 244.1 L330.5 244.1 L334.5 244.0 L338.5 243.9 L342.5 243.8 L346.5 243.7 L350.5 243.5 L354.5 243.3 L358.5 243.1 L362.5 242.9 L366.5 242.6 L370.5 242.3 L374.5 241.9 L378.5 241.5 L382.5 241.1 L386.5 240.6 L390.5 240.1 L394.5 239.5 L398.5 238.8 L402.5 238.1 L406.5 237.3 L410.5 236.4 L414.5 235.4 L418.5 234.4 L422.5 233.2 L426.5 232.0 L430.5 230.7 L434.5 229.3 L438.5 227.8 L442.5 226.2 L446.5 224.5 L450.5 222.8 L454.5 220.9 L458.5 218.9 L462.5 216.9 L466.5 214.8 L470.5 212.6 L474.5 210.3 L478.5 208.0 L482.5 205.6 L486.5 203.1 L490.5 200.7 L494.5 198.2 L498.5 195.7 L502.5 193.2 L506.5 190.7 L510.5 188.2 L514.5 185.8 L518.5 183.5 L522.5 181.2 L526.5 179.0 L530.5 176.9 L534.5 174.9 L538.5 173.1 L542.5 171.4 L546.5 169.9 L550.5 168.5 L554.5 167.3 L558.5 166.3 L562.5 165.5 L566.5 164.9 L570.5 164.5 L574.5 164.3 L578.5 164.4 L582.5 164.6 L586.5 165.0 L590.5 165.7 L594.5 166.6 L598.5 167.6 L602.5 168.8 L606.5 170.3 L610.5 171.8 L614.5 173.6 L618.5 175.5 L622.5 177.5 L626.5 179.6 L630.5 181.9 L634.5 184.2 L638.5 186.6 L642.5 189.1 L646.5 191.6 L650.5 194.1 L654.5 196.6 L658.5 199.2 L662.5 201.7 L666.5 204.2 L670.5 206.7 L674.5 209.2 L678.5 211.5 L682.5 213.9 L686.5 216.1 L690.5 218.3 L694.5 220.4 L698.5 222.4 L702.5 224.3 L706.5 226.1 L710.5 227.8 L714.5 229.5 L718.5 231.0 L722.5 232.5 L726.5 233.8 L730.5 235.1 L734.5 236.2 L738.5 237.3 L742.5 238.3 L746.5 239.3 L750.5 240.1 L754.5 240.9 L758.5 241.6 L762.5 242.3 L766.5 242.9 L770.5 243.4 L774.5 243.9 L778.5 244.3 L782.5 244.7 L786.5 245.1 L790.5 245.4 L794.5 245.7 L798.5 245.9 L802.5 246.2 L806.5 246.4 L810.5 246.5 L814.5 246.7 L818.5 246.8 L822.5 247.0 L826.5 247.1 L830.5 247.2 L834.5 247.3 L838.5 247.4 L842.5 247.4 L846.5 247.5 L850.5 247.6 L854.5 247.6 L858.5 247.7 L862.5 247.7 L866.5 247.8 L870.5 247.8 L874.5 247.8 L878.5 247.9 L882.5 247.9 L886.5 247.9 L890.5 248.0 L894.5 248.0 L898.5 248.0 L902.5 248.0 L906.5 248.1 L910.5 248.1 L914.5 248.1 L918.5 248.1 L922.5 248.2 L926.5 248.2 L930.5 248.2 L934.5 248.2 L938.5 248.3 L942.5 248.3 L946.5 248.3 L950.5 248.3 L954.5 248.4 L958.5 248.4 L962.5 248.4 L966.5 248.4 L970.5 248.5 L974.5 248.5 L978.5 248.5 L982.5 248.5 L986.5 248.5 L990.5 248.6 L994.5 248.6 L998.5 248.6 L1002.5 248.6 L1006.5 248.7 L1010.5 248.7 L1014.5 248.7 L1018.5 248.7 L1022.5 248.8 L1026.5 248.8 L1030.5 248.8 L1034.5 248.8 L1038.5 248.9 L1042.5 248.9 L1046.5 248.9 L1050.5 248.9 L1054.5 248.9 L1058.5 249.0 L1062.5 249.0 L1066.5 249.0 L1070.5 249.0 L1074.5 249.1 L1078.5 249.1 L1082.5 249.1 L1086.5 249.1 L1090.5 249.2 L1094.5 249.2 L1098.5 249.2 L1102.5 249.2 L1106.5 249.3 L1110.5 249.3 L1114.5 249.3 L1118.5 249.3 L1122.5 249.3 L1126.5 249.4 L1130.5 249.4 L1134.5 249.4 L1138.5 249.4 L1142.5 249.5 L1146.5 249.5 L1150.5 249.5 L1154.5 249.5 L1158.5 249.6 L1162.5 249.6 L1166.5 249.6 L1170.5 249.6 L1174.5 249.7 L1178.5 249.7 L1182.5 249.7 L1186.5 249.7 L1190.5 249.7 L1194.5 249.8 L1198.5 249.8 L1202.5 249.8 L1206.5 249.8 L1210.5 249.9 L1214.5 249.9 L1218.5 249.9 L1222.5 249.9 L1226.5 250.0 L1230.5 250.0 L1234.5 250.0 L1238.5 250.0 L1242.5 250.1 L1246.5 250.1 L1250.5 250.1 L1254.5 250.1 L1258.5 250.2 L1262.5 250.2 L1266.5 250.2 L1270.5 250.2 L1274.5 250.2 L1277.0 250.3" fill="none" stroke="#0a6ee0" stroke-width="3.50" stroke-linejoin="round" stroke-linecap="round"/>
<path d="M118.5 242.8 L122.5 242.8 L126.5 242.7 L130.5 242.6 L134.5 242.6 L138.5 242.5 L142.5 242.4 L146.5 242.3 L150.5 242.2 L154.5 242.1 L158.5 242.0 L162.5 241.9 L166.5 241.8 L170.5 241.6 L174.5 241.5 L178.5 241.4 L182.5 241.2 L186.5 241.0 L190.5 240.9 L194.5 240.7 L198.5 240.5 L202.5 240.3 L206.5 240.1 L210.5 239.9 L214.5 239.7 L218.5 239.4 L222.5 239.2 L226.5 239.0 L230.5 238.7 L234.5 238.4 L238.5 238.1 L242.5 237.9 L246.5 237.6 L250.5 237.3 L254.5 236.9 L258.5 236.6 L262.5 236.3 L266.5 236.0 L270.5 235.6 L274.5 235.2 L278.5 234.9 L282.5 234.5 L286.5 234.1 L290.5 233.7 L294.5 233.3 L298.5 232.9 L302.5 232.5 L306.5 232.1 L310.5 231.7 L314.5 231.3 L318.5 230.9 L322.5 230.5 L326.5 230.0 L330.5 229.6 L334.5 229.2 L338.5 228.8 L342.5 228.3 L346.5 227.9 L350.5 227.5 L354.5 227.1 L358.5 226.7 L362.5 226.2 L366.5 225.8 L370.5 225.4 L374.5 225.0 L378.5 224.7 L382.5 224.3 L386.5 223.9 L390.5 223.6 L394.5 223.2 L398.5 222.9 L402.5 222.6 L406.5 222.3 L410.5 222.0 L414.5 221.7 L418.5 221.5 L422.5 221.2 L426.5 221.0 L430.5 220.8 L434.5 220.6 L438.5 220.4 L442.5 220.3 L446.5 220.1 L450.5 220.0 L454.5 219.9 L458.5 219.9 L462.5 219.8 L466.5 219.8 L470.5 219.8 L474.5 219.8 L478.5 219.8 L482.5 219.8 L486.5 219.9 L490.5 220.0 L494.5 220.1 L498.5 220.3 L502.5 220.4 L506.5 220.6 L510.5 220.8 L514.5 221.0 L518.5 221.2 L522.5 221.5 L526.5 221.8 L530.5 222.0 L534.5 222.3 L538.5 222.7 L542.5 223.0 L546.5 223.3 L550.5 223.7 L554.5 224.1 L558.5 224.5 L562.5 224.8 L566.5 225.3 L570.5 225.7 L574.5 226.1 L578.5 226.5 L582.5 227.0 L586.5 227.4 L590.5 227.9 L594.5 228.3 L598.5 228.8 L602.5 229.3 L606.5 229.7 L610.5 230.2 L614.5 230.7 L618.5 231.1 L622.5 231.6 L626.5 232.1 L630.5 232.6 L634.5 233.0 L638.5 233.5 L642.5 233.9 L646.5 234.4 L650.5 234.8 L654.5 235.3 L658.5 235.7 L662.5 236.2 L666.5 236.6 L670.5 237.0 L674.5 237.4 L678.5 237.8 L682.5 238.2 L686.5 238.6 L690.5 239.0 L694.5 239.3 L698.5 239.7 L702.5 240.1 L706.5 240.4 L710.5 240.7 L714.5 241.0 L718.5 241.4 L722.5 241.7 L726.5 242.0 L730.5 242.3 L734.5 242.5 L738.5 242.8 L742.5 243.1 L746.5 243.3 L750.5 243.5 L754.5 243.8 L758.5 244.0 L762.5 244.2 L766.5 244.4 L770.5 244.6 L774.5 244.8 L778.5 245.0 L782.5 245.2 L786.5 245.3 L790.5 245.5 L794.5 245.6 L798.5 245.8 L802.5 245.9 L806.5 246.1 L810.5 246.2 L814.5 246.3 L818.5 246.4 L822.5 246.5 L826.5 246.7 L830.5 246.8 L834.5 246.9 L838.5 246.9 L842.5 247.0 L846.5 247.1 L850.5 247.2 L854.5 247.3 L858.5 247.4 L862.5 247.4 L866.5 247.5 L870.5 247.6 L874.5 247.6 L878.5 247.7 L882.5 247.7 L886.5 247.8 L890.5 247.8 L894.5 247.9 L898.5 247.9 L902.5 248.0 L906.5 248.0 L910.5 248.1 L914.5 248.1 L918.5 248.1 L922.5 248.2 L926.5 248.2 L930.5 248.3 L934.5 248.3 L938.5 248.3 L942.5 248.4 L946.5 248.4 L950.5 248.4 L954.5 248.4 L958.5 248.5 L962.5 248.5 L966.5 248.5 L970.5 248.6 L974.5 248.6 L978.5 248.6 L982.5 248.6 L986.5 248.7 L990.5 248.7 L994.5 248.7 L998.5 248.7 L1002.5 248.8 L1006.5 248.8 L1010.5 248.8 L1014.5 248.8 L1018.5 248.9 L1022.5 248.9 L1026.5 248.9 L1030.5 248.9 L1034.5 249.0 L1038.5 249.0 L1042.5 249.0 L1046.5 249.0 L1050.5 249.1 L1054.5 249.1 L1058.5 249.1 L1062.5 249.1 L1066.5 249.1 L1070.5 249.2 L1074.5 249.2 L1078.5 249.2 L1082.5 249.2 L1086.5 249.3 L1090.5 249.3 L1094.5 249.3 L1098.5 249.3 L1102.5 249.3 L1106.5 249.4 L1110.5 249.4 L1114.5 249.4 L1118.5 249.4 L1122.5 249.5 L1126.5 249.5 L1130.5 249.5 L1134.5 249.5 L1138.5 249.6 L1142.5 249.6 L1146.5 249.6 L1150.5 249.6 L1154.5 249.6 L1158.5 249.7 L1162.5 249.7 L1166.5 249.7 L1170.5 249.7 L1174.5 249.8 L1178.5 249.8 L1182.5 249.8 L1186.5 249.8 L1190.5 249.8 L1194.5 249.9 L1198.5 249.9 L1202.5 249.9 L1206.5 249.9 L1210.5 250.0 L1214.5 250.0 L1218.5 250.0 L1222.5 250.0 L1226.5 250.0 L1230.5 250.1 L1234.5 250.1 L1238.5 250.1 L1242.5 250.1 L1246.5 250.2 L1250.5 250.2 L1254.5 250.2 L1258.5 250.2 L1262.5 250.2 L1266.5 250.3 L1270.5 250.3 L1274.5 250.3 L1277.0 250.3" fill="none" stroke="#00aa5e" stroke-width="3.50" stroke-linejoin="round" stroke-linecap="round"/>
<path d="M118.5 241.5 L122.5 241.2 L126.5 241.0 L130.5 240.7 L134.5 240.4 L138.5 240.1 L142.5 239.8 L146.5 239.5 L150.5 239.2 L154.5 238.9 L158.5 238.5 L162.5 238.2 L166.5 237.8 L170.5 237.5 L174.5 237.1 L178.5 236.7 L182.5 236.4 L186.5 236.0 L190.5 235.6 L194.5 235.2 L198.5 234.8 L202.5 234.3 L206.5 233.9 L210.5 233.5 L214.5 233.1 L218.5 232.7 L222.5 232.2 L226.5 231.8 L230.5 231.4 L234.5 230.9 L238.5 230.5 L242.5 230.1 L246.5 229.7 L250.5 229.2 L254.5 228.8 L258.5 228.5 L262.5 228.1 L266.5 227.7 L270.5 227.4 L274.5 227.0 L278.5 226.7 L282.5 226.4 L286.5 226.1 L290.5 225.9 L294.5 225.7 L298.5 225.5 L302.5 225.3 L306.5 225.2 L310.5 225.1 L314.5 225.0 L318.5 225.0 L322.5 224.9 L326.5 225.0 L330.5 225.0 L334.5 225.1 L338.5 225.2 L342.5 225.4 L346.5 225.5 L350.5 225.7 L354.5 226.0 L358.5 226.2 L362.5 226.5 L366.5 226.8 L370.5 227.1 L374.5 227.4 L378.5 227.8 L382.5 228.1 L386.5 228.5 L390.5 228.9 L394.5 229.3 L398.5 229.7 L402.5 230.1 L406.5 230.5 L410.5 231.0 L414.5 231.4 L418.5 231.8 L422.5 232.2 L426.5 232.6 L430.5 233.1 L434.5 233.5 L438.5 233.9 L442.5 234.3 L446.5 234.7 L450.5 235.1 L454.5 235.5 L458.5 235.8 L462.5 236.2 L466.5 236.6 L470.5 236.9 L474.5 237.3 L478.5 237.6 L482.5 238.0 L486.5 238.3 L490.5 238.6 L494.5 238.9 L498.5 239.2 L502.5 239.5 L506.5 239.8 L510.5 240.1 L514.5 240.3 L518.5 240.6 L522.5 240.9 L526.5 241.1 L530.5 241.3 L534.5 241.6 L538.5 241.8 L542.5 242.0 L546.5 242.2 L550.5 242.5 L554.5 242.7 L558.5 242.9 L562.5 243.1 L566.5 243.2 L570.5 243.4 L574.5 243.6 L578.5 243.8 L582.5 243.9 L586.5 244.1 L590.5 244.2 L594.5 244.4 L598.5 244.5 L602.5 244.7 L606.5 244.8 L610.5 245.0 L614.5 245.1 L618.5 245.2 L622.5 245.3 L626.5 245.5 L630.5 245.6 L634.5 245.7 L638.5 245.8 L642.5 245.9 L646.5 246.0 L650.5 246.1 L654.5 246.2 L658.5 246.3 L662.5 246.4 L666.5 246.5 L670.5 246.6 L674.5 246.7 L678.5 246.7 L682.5 246.8 L686.5 246.9 L690.5 247.0 L694.5 247.1 L698.5 247.1 L702.5 247.2 L706.5 247.3 L710.5 247.3 L714.5 247.4 L718.5 247.5 L722.5 247.5 L726.5 247.6 L730.5 247.6 L734.5 247.7 L738.5 247.8 L742.5 247.8 L746.5 247.9 L750.5 247.9 L754.5 248.0 L758.5 248.0 L762.5 248.1 L766.5 248.1 L770.5 248.2 L774.5 248.2 L778.5 248.2 L782.5 248.3 L786.5 248.3 L790.5 248.4 L794.5 248.4 L798.5 248.4 L802.5 248.5 L806.5 248.5 L810.5 248.5 L814.5 248.6 L818.5 248.6 L822.5 248.6 L826.5 248.7 L830.5 248.7 L834.5 248.7 L838.5 248.8 L842.5 248.8 L846.5 248.8 L850.5 248.9 L854.5 248.9 L858.5 248.9 L862.5 248.9 L866.5 249.0 L870.5 249.0 L874.5 249.0 L878.5 249.0 L882.5 249.1 L886.5 249.1 L890.5 249.1 L894.5 249.1 L898.5 249.1 L902.5 249.2 L906.5 249.2 L910.5 249.2 L914.5 249.2 L918.5 249.2 L922.5 249.3 L926.5 249.3 L930.5 249.3 L934.5 249.3 L938.5 249.3 L942.5 249.3 L946.5 249.4 L950.5 249.4 L954.5 249.4 L958.5 249.4 L962.5 249.4 L966.5 249.4 L970.5 249.4 L974.5 249.5 L978.5 249.5 L982.5 249.5 L986.5 249.5 L990.5 249.5 L994.5 249.5 L998.5 249.5 L1002.5 249.5 L1006.5 249.5 L1010.5 249.6 L1014.5 249.6 L1018.5 249.6 L1022.5 249.6 L1026.5 249.6 L1030.5 249.6 L1034.5 249.6 L1038.5 249.6 L1042.5 249.6 L1046.5 249.6 L1050.5 249.7 L1054.5 249.7 L1058.5 249.7 L1062.5 249.7 L1066.5 249.7 L1070.5 249.7 L1074.5 249.7 L1078.5 249.7 L1082.5 249.7 L1086.5 249.7 L1090.5 249.7 L1094.5 249.7 L1098.5 249.7 L1102.5 249.7 L1106.5 249.7 L1110.5 249.8 L1114.5 249.8 L1118.5 249.8 L1122.5 249.8 L1126.5 249.8 L1130.5 249.8 L1134.5 249.8 L1138.5 249.8 L1142.5 249.8 L1146.5 249.8 L1150.5 249.8 L1154.5 249.8 L1158.5 249.8 L1162.5 249.8 L1166.5 249.8 L1170.5 249.8 L1174.5 249.8 L1178.5 249.8 L1182.5 249.8 L1186.5 249.8 L1190.5 249.8 L1194.5 249.8 L1198.5 249.8 L1202.5 249.8 L1206.5 249.8 L1210.5 249.8 L1214.5 249.8 L1218.5 249.8 L1222.5 249.8 L1226.5 249.8 L1230.5 249.9 L1234.5 249.9 L1238.5 249.9 L1242.5 249.9 L1246.5 249.9 L1250.5 249.9 L1254.5 249.9 L1258.5 249.9 L1262.5 249.9 L1266.5 249.9 L1270.5 249.9 L1274.5 249.9 L1277.0 249.9" fill="none" stroke="#c278e0" stroke-width="3.50" stroke-linejoin="round" stroke-linecap="round"/>
</g>
<g clip-path="url(#c2)">
<path d="M118.5 478.2 L121.5 478.2 L124.5 478.1 L127.5 478.1 L130.5 478.1 L133.5 478.1 L136.5 478.0 L139.5 478.0 L142.5 478.0 L145.5 477.9 L148.5 477.9 L151.5 477.9 L154.5 477.8 L157.5 477.7 L160.5 477.6 L163.5 477.4 L166.5 477.3 L169.5 477.0 L172.5 476.8 L175.5 476.6 L178.5 476.4 L181.5 476.2 L184.5 475.9 L187.5 475.7 L190.5 475.5 L193.5 475.2 L196.5 475.0 L199.5 474.8 L202.5 474.6 L205.5 474.3 L208.5 474.1 L211.5 473.9 L214.5 473.7 L217.5 473.4 L220.5 473.2 L223.5 473.0 L226.5 472.8 L229.5 472.5 L232.5 472.3 L235.5 472.0 L238.5 471.8 L241.5 471.5 L244.5 471.3 L247.5 471.0 L250.5 470.7 L253.5 470.5 L256.5 470.2 L259.5 469.9 L262.5 469.7 L265.5 469.4 L268.5 469.1 L271.5 468.9 L274.5 468.6 L277.5 468.3 L280.5 468.0 L283.5 467.7 L286.5 467.3 L289.5 467.0 L292.5 466.7 L295.5 466.3 L298.5 466.0 L301.5 465.6 L304.5 465.3 L307.5 464.9 L310.5 464.6 L313.5 464.2 L316.5 463.9 L319.5 463.6 L322.5 463.2 L325.5 462.9 L328.5 462.5 L331.5 462.2 L334.5 461.8 L337.5 461.5 L340.5 461.2 L343.5 461.0 L346.5 460.8 L349.5 460.8 L352.5 460.8 L355.5 460.8 L358.5 460.9 L361.5 461.0 L364.5 461.1 L367.5 461.1 L370.5 461.2 L373.5 461.3 L376.5 461.4 L379.5 461.5 L382.5 461.6 L385.5 461.7 L388.5 461.8 L391.5 461.9 L394.5 462.0 L397.5 462.1 L400.5 462.1 L403.5 462.2 L406.5 462.3 L409.5 462.3 L412.5 462.4 L415.5 462.3 L418.5 462.3 L421.5 462.2 L424.5 462.1 L427.5 462.0 L430.5 461.9 L433.5 461.8 L436.5 461.7 L439.5 461.6 L442.5 461.4 L445.5 461.2 L448.5 460.9 L451.5 460.5 L454.5 460.1 L457.5 459.6 L460.5 459.2 L463.5 458.7 L466.5 458.3 L469.5 457.8 L472.5 457.3 L475.5 456.8 L478.5 456.3 L481.5 455.8 L484.5 455.2 L487.5 454.6 L490.5 454.0 L493.5 453.4 L496.5 452.9 L499.5 452.3 L502.5 451.6 L505.5 451.0 L508.5 450.4 L511.5 449.7 L514.5 449.1 L517.5 448.3 L520.5 447.6 L523.5 446.9 L526.5 446.1 L529.5 445.4 L532.5 444.6 L535.5 443.9 L538.5 443.1 L541.5 442.3 L544.5 441.4 L547.5 440.4 L550.5 439.4 L553.5 438.3 L556.5 437.1 L559.5 435.9 L562.5 434.6 L565.5 433.2 L568.5 431.7 L571.5 430.2 L574.5 428.7 L577.5 427.3 L580.5 425.8 L583.5 424.3 L586.5 422.9 L589.5 421.5 L592.5 420.2 L595.5 418.9 L598.5 417.6 L601.5 416.4 L604.5 415.2 L607.5 414.0 L610.5 412.8 L613.5 411.6 L616.5 410.4 L619.5 409.2 L622.5 408.0 L625.5 406.8 L628.5 405.6 L631.5 404.3 L634.5 403.0 L637.5 401.6 L640.5 400.0 L643.5 398.2 L646.5 396.4 L649.5 394.5 L652.5 392.5 L655.5 390.5 L658.5 388.5 L661.5 386.5 L664.5 384.4 L667.5 382.3 L670.5 380.1 L673.5 377.9 L676.5 375.6 L679.5 373.2 L682.5 370.7 L685.5 368.1 L688.5 365.4 L691.5 362.5 L694.5 359.4 L697.5 356.2 L700.5 352.6 L703.5 348.9 L706.5 344.9 L709.5 340.8 L712.5 336.7 L715.5 332.5 L718.5 328.3 L721.5 324.3 L724.5 320.3 L727.5 316.6 L730.5 313.0 L733.5 309.6 L736.5 306.4 L739.5 303.3 L742.5 300.4 L745.5 297.5 L748.5 294.8 L751.5 292.2 L754.5 289.7 L757.5 287.2 L760.5 284.9 L763.5 282.6 L766.5 280.5 L769.5 278.4 L772.5 276.5 L775.5 274.6 L778.5 273.0 L781.5 271.6 L784.5 270.7 L787.5 270.4 L790.5 270.7 L793.5 271.5 L796.5 272.7 L799.5 274.1 L802.5 275.7 L805.5 277.8 L808.5 280.2 L811.5 282.8 L814.5 285.7 L817.5 288.7 L820.5 291.7 L823.5 294.8 L826.5 297.9 L829.5 301.1 L832.5 304.6 L835.5 308.2 L838.5 312.2 L841.5 316.6 L844.5 321.4 L847.5 326.8 L850.5 332.6 L853.5 338.7 L856.5 344.8 L859.5 350.7 L862.5 356.3 L865.5 361.7 L868.5 366.8 L871.5 371.9 L874.5 376.9 L877.5 381.8 L880.5 386.7 L883.5 391.6 L886.5 396.3 L889.5 400.8 L892.5 405.2 L895.5 409.4 L898.5 413.5 L901.5 417.5 L904.5 421.6 L907.5 425.5 L910.5 429.4 L913.5 433.1 L916.5 436.5 L919.5 439.6 L922.5 442.3 L925.5 444.8 L928.5 447.2 L931.5 449.5 L934.5 451.7 L937.5 453.9 L940.5 456.0 L943.5 458.0 L946.5 459.8 L949.5 461.4 L952.5 462.8 L955.5 464.1 L958.5 465.4 L961.5 466.6 L964.5 467.8 L967.5 468.9 L970.5 470.0 L973.5 471.0 L976.5 471.9 L979.5 472.7 L982.5 473.3 L985.5 474.0 L988.5 474.6 L991.5 475.2 L994.5 475.8 L997.5 476.3 L1000.5 476.9 L1003.5 477.4 L1006.5 477.9 L1009.5 478.3 L1012.5 478.7 L1015.5 479.1 L1018.5 479.5 L1021.5 479.9 L1024.5 480.2 L1027.5 480.6 L1030.5 481.0 L1033.5 481.3 L1036.5 481.7 L1039.5 482.0 L1042.5 482.3 L1045.5 482.6 L1048.5 482.9 L1051.5 483.2 L1054.5 483.5 L1057.5 483.8 L1060.5 484.0 L1063.5 484.3 L1066.5 484.5 L1069.5 484.7 L1072.5 484.9 L1075.5 485.1 L1078.5 485.4 L1081.5 485.6 L1084.5 485.7 L1087.5 485.9 L1090.5 486.0 L1093.5 486.2 L1096.5 486.3 L1099.5 486.3 L1102.5 486.4 L1105.5 486.5 L1108.5 486.5 L1111.5 486.6 L1114.5 486.7 L1117.5 486.8 L1120.5 486.8 L1123.5 486.9 L1126.5 487.0 L1129.5 487.0 L1132.5 487.1 L1135.5 487.2 L1138.5 487.2 L1141.5 487.3 L1144.5 487.4 L1147.5 487.4 L1150.5 487.5 L1153.5 487.5 L1156.5 487.5 L1159.5 487.5 L1162.5 487.6 L1165.5 487.6 L1168.5 487.6 L1171.5 487.6 L1174.5 487.6 L1177.5 487.7 L1180.5 487.7 L1183.5 487.7 L1186.5 487.7 L1189.5 487.7 L1192.5 487.7 L1195.5 487.8 L1198.5 487.8 L1201.5 487.8 L1204.5 487.8 L1207.5 487.8 L1210.5 487.8 L1213.5 487.9 L1216.5 487.9 L1219.5 487.9 L1222.5 487.9 L1225.5 487.9 L1228.5 487.9 L1231.5 487.9 L1234.5 488.0 L1237.5 488.0 L1240.5 488.0 L1243.5 488.0 L1246.5 488.0 L1249.5 488.0 L1252.5 488.1 L1255.5 488.1 L1258.5 488.1 L1261.5 488.1 L1264.5 488.1 L1267.5 488.1 L1270.5 488.2 L1273.5 488.2 L1276.5 488.2 L1277.0 488.2" fill="none" stroke="#474747" stroke-width="3.50" stroke-linejoin="round" stroke-linecap="round"/>
<path d="M118.5 477.9 L122.5 477.9 L126.5 478.0 L130.5 478.0 L134.5 478.1 L138.5 478.1 L142.5 478.1 L146.5 478.2 L150.5 478.2 L154.5 478.2 L158.5 478.3 L162.5 478.3 L166.5 478.4 L170.5 478.4 L174.5 478.4 L178.5 478.5 L182.5 478.5 L186.5 478.5 L190.5 478.6 L194.5 478.6 L198.5 478.7 L202.5 478.7 L206.5 478.7 L210.5 478.8 L214.5 478.8 L218.5 478.9 L222.5 478.9 L226.5 478.9 L230.5 479.0 L234.5 479.0 L238.5 479.0 L242.5 479.1 L246.5 479.1 L250.5 479.2 L254.5 479.2 L258.5 479.2 L262.5 479.3 L266.5 479.3 L270.5 479.3 L274.5 479.4 L278.5 479.4 L282.5 479.4 L286.5 479.5 L290.5 479.5 L294.5 479.6 L298.5 479.6 L302.5 479.6 L306.5 479.7 L310.5 479.7 L314.5 479.7 L318.5 479.8 L322.5 479.8 L326.5 479.8 L330.5 479.9 L334.5 479.9 L338.5 479.9 L342.5 480.0 L346.5 480.0 L350.5 480.0 L354.5 480.1 L358.5 480.1 L362.5 480.1 L366.5 480.2 L370.5 480.2 L374.5 480.2 L378.5 480.3 L382.5 480.3 L386.5 480.3 L390.5 480.4 L394.5 480.4 L398.5 480.4 L402.5 480.5 L406.5 480.5 L410.5 480.5 L414.5 480.6 L418.5 480.6 L422.5 480.6 L426.5 480.6 L430.5 480.7 L434.5 480.7 L438.5 480.7 L442.5 480.7 L446.5 480.8 L450.5 480.8 L454.5 480.8 L458.5 480.8 L462.5 480.8 L466.5 480.8 L470.5 480.8 L474.5 480.8 L478.5 480.8 L482.5 480.8 L486.5 480.8 L490.5 480.8 L494.5 480.7 L498.5 480.7 L502.5 480.6 L506.5 480.5 L510.5 480.4 L514.5 480.3 L518.5 480.2 L522.5 480.0 L526.5 479.9 L530.5 479.6 L534.5 479.4 L538.5 479.1 L542.5 478.8 L546.5 478.4 L550.5 478.0 L554.5 477.5 L558.5 476.9 L562.5 476.3 L566.5 475.6 L570.5 474.8 L574.5 473.9 L578.5 472.9 L582.5 471.8 L586.5 470.5 L590.5 469.2 L594.5 467.7 L598.5 466.0 L602.5 464.2 L606.5 462.3 L610.5 460.1 L614.5 457.8 L618.5 455.3 L622.5 452.6 L626.5 449.6 L630.5 446.5 L634.5 443.1 L638.5 439.6 L642.5 435.8 L646.5 431.7 L650.5 427.5 L654.5 423.0 L658.5 418.3 L662.5 413.4 L666.5 408.3 L670.5 403.0 L674.5 397.5 L678.5 391.9 L682.5 386.1 L686.5 380.1 L690.5 374.1 L694.5 368.0 L698.5 361.8 L702.5 355.6 L706.5 349.3 L710.5 343.1 L714.5 337.0 L718.5 330.9 L722.5 325.0 L726.5 319.2 L730.5 313.7 L734.5 308.3 L738.5 303.3 L742.5 298.5 L746.5 294.0 L750.5 290.0 L754.5 286.3 L758.5 283.0 L762.5 280.2 L766.5 277.8 L770.5 275.9 L774.5 274.6 L778.5 273.7 L782.5 273.4 L786.5 273.5 L790.5 274.2 L794.5 275.5 L798.5 277.2 L802.5 279.4 L806.5 282.1 L810.5 285.2 L814.5 288.8 L818.5 292.8 L822.5 297.1 L826.5 301.9 L830.5 306.9 L834.5 312.2 L838.5 317.7 L842.5 323.5 L846.5 329.4 L850.5 335.5 L854.5 341.7 L858.5 347.9 L862.5 354.2 L866.5 360.6 L870.5 366.8 L874.5 373.1 L878.5 379.3 L882.5 385.3 L886.5 391.3 L890.5 397.1 L894.5 402.7 L898.5 408.2 L902.5 413.5 L906.5 418.6 L910.5 423.4 L914.5 428.1 L918.5 432.5 L922.5 436.7 L926.5 440.7 L930.5 444.5 L934.5 448.0 L938.5 451.3 L942.5 454.5 L946.5 457.3 L950.5 460.0 L954.5 462.5 L958.5 464.9 L962.5 467.0 L966.5 468.9 L970.5 470.7 L974.5 472.4 L978.5 473.9 L982.5 475.3 L986.5 476.5 L990.5 477.6 L994.5 478.7 L998.5 479.6 L1002.5 480.4 L1006.5 481.2 L1010.5 481.8 L1014.5 482.4 L1018.5 483.0 L1022.5 483.5 L1026.5 483.9 L1030.5 484.3 L1034.5 484.6 L1038.5 485.0 L1042.5 485.2 L1046.5 485.5 L1050.5 485.7 L1054.5 485.9 L1058.5 486.1 L1062.5 486.3 L1066.5 486.4 L1070.5 486.5 L1074.5 486.7 L1078.5 486.8 L1082.5 486.9 L1086.5 487.0 L1090.5 487.1 L1094.5 487.2 L1098.5 487.2 L1102.5 487.3 L1106.5 487.4 L1110.5 487.5 L1114.5 487.5 L1118.5 487.6 L1122.5 487.6 L1126.5 487.7 L1130.5 487.8 L1134.5 487.8 L1138.5 487.9 L1142.5 487.9 L1146.5 488.0 L1150.5 488.0 L1154.5 488.1 L1158.5 488.1 L1162.5 488.2 L1166.5 488.2 L1170.5 488.3 L1174.5 488.4 L1178.5 488.4 L1182.5 488.5 L1186.5 488.5 L1190.5 488.5 L1194.5 488.6 L1198.5 488.6 L1202.5 488.7 L1206.5 488.7 L1210.5 488.8 L1214.5 488.8 L1218.5 488.9 L1222.5 488.9 L1226.5 489.0 L1230.5 489.0 L1234.5 489.1 L1238.5 489.1 L1242.5 489.2 L1246.5 489.2 L1250.5 489.3 L1254.5 489.3 L1258.5 489.4 L1262.5 489.4 L1266.5 489.4 L1270.5 489.5 L1274.5 489.5 L1277.0 489.6" fill="none" stroke="#fa3535" stroke-width="3.50" stroke-linejoin="round" stroke-linecap="round"/>
<path d="M118.5 479.8 L122.5 479.9 L126.5 479.9 L130.5 479.9 L134.5 479.9 L138.5 480.0 L142.5 480.0 L146.5 480.0 L150.5 480.0 L154.5 480.1 L158.5 480.1 L162.5 480.1 L166.5 480.1 L170.5 480.2 L174.5 480.2 L178.5 480.2 L182.5 480.2 L186.5 480.3 L190.5 480.3 L194.5 480.3 L198.5 480.3 L202.5 480.4 L206.5 480.4 L210.5 480.4 L214.5 480.4 L218.5 480.5 L222.5 480.5 L226.5 480.5 L230.5 480.5 L234.5 480.5 L238.5 480.6 L242.5 480.6 L246.5 480.6 L250.5 480.6 L254.5 480.6 L258.5 480.7 L262.5 480.7 L266.5 480.7 L270.5 480.7 L274.5 480.7 L278.5 480.8 L282.5 480.8 L286.5 480.8 L290.5 480.8 L294.5 480.8 L298.5 480.8 L302.5 480.8 L306.5 480.9 L310.5 480.9 L314.5 480.9 L318.5 480.9 L322.5 480.9 L326.5 480.9 L330.5 480.9 L334.5 480.9 L338.5 480.9 L342.5 480.9 L346.5 480.9 L350.5 480.9 L354.5 480.9 L358.5 480.9 L362.5 480.9 L366.5 480.9 L370.5 480.9 L374.5 480.9 L378.5 480.9 L382.5 480.8 L386.5 480.8 L390.5 480.8 L394.5 480.7 L398.5 480.7 L402.5 480.6 L406.5 480.6 L410.5 480.5 L414.5 480.4 L418.5 480.3 L422.5 480.2 L426.5 480.0 L430.5 479.8 L434.5 479.6 L438.5 479.4 L442.5 479.1 L446.5 478.8 L450.5 478.4 L454.5 478.0 L458.5 477.6 L462.5 477.0 L466.5 476.4 L470.5 475.7 L474.5 475.0 L478.5 474.1 L482.5 473.2 L486.5 472.1 L490.5 471.0 L494.5 469.8 L498.5 468.5 L502.5 467.1 L506.5 465.6 L510.5 464.1 L514.5 462.4 L518.5 460.8 L522.5 459.0 L526.5 457.3 L530.5 455.5 L534.5 453.8 L538.5 452.1 L542.5 450.5 L546.5 448.9 L550.5 447.5 L554.5 446.3 L558.5 445.2 L562.5 444.4 L566.5 443.8 L570.5 443.5 L574.5 443.4 L578.5 443.6 L582.5 444.1 L586.5 444.9 L590.5 445.9 L594.5 447.1 L598.5 448.5 L602.5 450.0 L606.5 451.6 L610.5 453.4 L614.5 455.1 L618.5 457.0 L622.5 458.8 L626.5 460.6 L630.5 462.3 L634.5 464.1 L638.5 465.7 L642.5 467.3 L646.5 468.8 L650.5 470.2 L654.5 471.6 L658.5 472.8 L662.5 473.9 L666.5 475.0 L670.5 476.0 L674.5 476.8 L678.5 477.6 L682.5 478.3 L686.5 479.0 L690.5 479.6 L694.5 480.1 L698.5 480.5 L702.5 480.9 L706.5 481.3 L710.5 481.6 L714.5 481.9 L718.5 482.2 L722.5 482.4 L726.5 482.6 L730.5 482.8 L734.5 482.9 L738.5 483.1 L742.5 483.2 L746.5 483.3 L750.5 483.4 L754.5 483.5 L758.5 483.6 L762.5 483.7 L766.5 483.8 L770.5 483.9 L774.5 484.0 L778.5 484.1 L782.5 484.1 L786.5 484.2 L790.5 484.3 L794.5 484.3 L798.5 484.4 L802.5 484.5 L806.5 484.5 L810.5 484.6 L814.5 484.6 L818.5 484.7 L822.5 484.8 L826.5 484.8 L830.5 484.9 L834.5 484.9 L838.5 485.0 L842.5 485.0 L846.5 485.1 L850.5 485.1 L854.5 485.2 L858.5 485.2 L862.5 485.3 L866.5 485.3 L870.5 485.3 L874.5 485.4 L878.5 485.4 L882.5 485.5 L886.5 485.5 L890.5 485.6 L894.5 485.6 L898.5 485.6 L902.5 485.7 L906.5 485.7 L910.5 485.8 L914.5 485.8 L918.5 485.9 L922.5 485.9 L926.5 485.9 L930.5 486.0 L934.5 486.0 L938.5 486.1 L942.5 486.1 L946.5 486.1 L950.5 486.2 L954.5 486.2 L958.5 486.2 L962.5 486.3 L966.5 486.3 L970.5 486.4 L974.5 486.4 L978.5 486.4 L982.5 486.5 L986.5 486.5 L990.5 486.5 L994.5 486.6 L998.5 486.6 L1002.5 486.6 L1006.5 486.7 L1010.5 486.7 L1014.5 486.8 L1018.5 486.8 L1022.5 486.8 L1026.5 486.9 L1030.5 486.9 L1034.5 486.9 L1038.5 487.0 L1042.5 487.0 L1046.5 487.0 L1050.5 487.1 L1054.5 487.1 L1058.5 487.1 L1062.5 487.2 L1066.5 487.2 L1070.5 487.2 L1074.5 487.3 L1078.5 487.3 L1082.5 487.3 L1086.5 487.4 L1090.5 487.4 L1094.5 487.4 L1098.5 487.5 L1102.5 487.5 L1106.5 487.5 L1110.5 487.6 L1114.5 487.6 L1118.5 487.6 L1122.5 487.7 L1126.5 487.7 L1130.5 487.7 L1134.5 487.8 L1138.5 487.8 L1142.5 487.8 L1146.5 487.9 L1150.5 487.9 L1154.5 487.9 L1158.5 488.0 L1162.5 488.0 L1166.5 488.0 L1170.5 488.1 L1174.5 488.1 L1178.5 488.1 L1182.5 488.2 L1186.5 488.2 L1190.5 488.2 L1194.5 488.3 L1198.5 488.3 L1202.5 488.3 L1206.5 488.4 L1210.5 488.4 L1214.5 488.4 L1218.5 488.5 L1222.5 488.5 L1226.5 488.5 L1230.5 488.6 L1234.5 488.6 L1238.5 488.6 L1242.5 488.7 L1246.5 488.7 L1250.5 488.7 L1254.5 488.8 L1258.5 488.8 L1262.5 488.8 L1266.5 488.9 L1270.5 488.9 L1274.5 488.9 L1277.0 488.9" fill="none" stroke="#0a6ee0" stroke-width="3.50" stroke-linejoin="round" stroke-linecap="round"/>
<path d="M118.5 475.7 L122.5 475.5 L126.5 475.3 L130.5 475.1 L134.5 474.9 L138.5 474.6 L142.5 474.4 L146.5 474.2 L150.5 473.9 L154.5 473.6 L158.5 473.4 L162.5 473.1 L166.5 472.8 L170.5 472.5 L174.5 472.2 L178.5 471.8 L182.5 471.5 L186.5 471.2 L190.5 470.8 L194.5 470.4 L198.5 470.1 L202.5 469.7 L206.5 469.3 L210.5 469.0 L214.5 468.6 L218.5 468.2 L222.5 467.8 L226.5 467.4 L230.5 467.0 L234.5 466.6 L238.5 466.2 L242.5 465.8 L246.5 465.5 L250.5 465.1 L254.5 464.7 L258.5 464.4 L262.5 464.0 L266.5 463.7 L270.5 463.3 L274.5 463.0 L278.5 462.7 L282.5 462.4 L286.5 462.2 L290.5 461.9 L294.5 461.7 L298.5 461.5 L302.5 461.3 L306.5 461.2 L310.5 461.0 L314.5 460.9 L318.5 460.9 L322.5 460.8 L326.5 460.8 L330.5 460.8 L334.5 460.8 L338.5 460.9 L342.5 461.0 L346.5 461.1 L350.5 461.2 L354.5 461.4 L358.5 461.6 L362.5 461.8 L366.5 462.1 L370.5 462.4 L374.5 462.6 L378.5 463.0 L382.5 463.3 L386.5 463.6 L390.5 464.0 L394.5 464.4 L398.5 464.8 L402.5 465.2 L406.5 465.6 L410.5 466.0 L414.5 466.5 L418.5 466.9 L422.5 467.4 L426.5 467.8 L430.5 468.3 L434.5 468.7 L438.5 469.2 L442.5 469.6 L446.5 470.1 L450.5 470.5 L454.5 471.0 L458.5 471.4 L462.5 471.9 L466.5 472.3 L470.5 472.8 L474.5 473.2 L478.5 473.6 L482.5 474.0 L486.5 474.4 L490.5 474.8 L494.5 475.2 L498.5 475.6 L502.5 475.9 L506.5 476.3 L510.5 476.6 L514.5 476.9 L518.5 477.3 L522.5 477.6 L526.5 477.9 L530.5 478.2 L534.5 478.5 L538.5 478.7 L542.5 479.0 L546.5 479.2 L550.5 479.5 L554.5 479.7 L558.5 479.9 L562.5 480.1 L566.5 480.3 L570.5 480.5 L574.5 480.7 L578.5 480.9 L582.5 481.1 L586.5 481.2 L590.5 481.4 L594.5 481.5 L598.5 481.7 L602.5 481.8 L606.5 481.9 L610.5 482.1 L614.5 482.2 L618.5 482.3 L622.5 482.4 L626.5 482.5 L630.5 482.6 L634.5 482.7 L638.5 482.8 L642.5 482.9 L646.5 482.9 L650.5 483.0 L654.5 483.1 L658.5 483.2 L662.5 483.2 L666.5 483.3 L670.5 483.4 L674.5 483.4 L678.5 483.5 L682.5 483.6 L686.5 483.6 L690.5 483.7 L694.5 483.7 L698.5 483.8 L702.5 483.8 L706.5 483.9 L710.5 483.9 L714.5 484.0 L718.5 484.0 L722.5 484.1 L726.5 484.1 L730.5 484.2 L734.5 484.2 L738.5 484.2 L742.5 484.3 L746.5 484.3 L750.5 484.4 L754.5 484.4 L758.5 484.5 L762.5 484.5 L766.5 484.5 L770.5 484.6 L774.5 484.6 L778.5 484.7 L782.5 484.7 L786.5 484.7 L790.5 484.8 L794.5 484.8 L798.5 484.9 L802.5 484.9 L806.5 484.9 L810.5 485.0 L814.5 485.0 L818.5 485.1 L822.5 485.1 L826.5 485.1 L830.5 485.2 L834.5 485.2 L838.5 485.2 L842.5 485.3 L846.5 485.3 L850.5 485.4 L854.5 485.4 L858.5 485.4 L862.5 485.5 L866.5 485.5 L870.5 485.5 L874.5 485.6 L878.5 485.6 L882.5 485.7 L886.5 485.7 L890.5 485.7 L894.5 485.8 L898.5 485.8 L902.5 485.8 L906.5 485.9 L910.5 485.9 L914.5 485.9 L918.5 486.0 L922.5 486.0 L926.5 486.0 L930.5 486.1 L934.5 486.1 L938.5 486.2 L942.5 486.2 L946.5 486.2 L950.5 486.3 L954.5 486.3 L958.5 486.3 L962.5 486.4 L966.5 486.4 L970.5 486.4 L974.5 486.5 L978.5 486.5 L982.5 486.5 L986.5 486.6 L990.5 486.6 L994.5 486.7 L998.5 486.7 L1002.5 486.7 L1006.5 486.8 L1010.5 486.8 L1014.5 486.8 L1018.5 486.9 L1022.5 486.9 L1026.5 486.9 L1030.5 487.0 L1034.5 487.0 L1038.5 487.0 L1042.5 487.1 L1046.5 487.1 L1050.5 487.1 L1054.5 487.2 L1058.5 487.2 L1062.5 487.3 L1066.5 487.3 L1070.5 487.3 L1074.5 487.4 L1078.5 487.4 L1082.5 487.4 L1086.5 487.5 L1090.5 487.5 L1094.5 487.5 L1098.5 487.6 L1102.5 487.6 L1106.5 487.6 L1110.5 487.7 L1114.5 487.7 L1118.5 487.7 L1122.5 487.8 L1126.5 487.8 L1130.5 487.8 L1134.5 487.9 L1138.5 487.9 L1142.5 487.9 L1146.5 488.0 L1150.5 488.0 L1154.5 488.0 L1158.5 488.1 L1162.5 488.1 L1166.5 488.1 L1170.5 488.2 L1174.5 488.2 L1178.5 488.3 L1182.5 488.3 L1186.5 488.3 L1190.5 488.4 L1194.5 488.4 L1198.5 488.4 L1202.5 488.5 L1206.5 488.5 L1210.5 488.5 L1214.5 488.6 L1218.5 488.6 L1222.5 488.6 L1226.5 488.7 L1230.5 488.7 L1234.5 488.7 L1238.5 488.8 L1242.5 488.8 L1246.5 488.8 L1250.5 488.9 L1254.5 488.9 L1258.5 488.9 L1262.5 489.0 L1266.5 489.0 L1270.5 489.0 L1274.5 489.1 L1277.0 489.1" fill="none" stroke="#c278e0" stroke-width="3.50" stroke-linejoin="round" stroke-linecap="round"/>
<path d="M118.5 478.7 L122.5 478.7 L126.5 478.7 L130.5 478.8 L134.5 478.8 L138.5 478.8 L142.5 478.9 L146.5 478.9 L150.5 479.0 L154.5 479.0 L158.5 479.0 L162.5 479.1 L166.5 479.1 L170.5 479.1 L174.5 479.2 L178.5 479.2 L182.5 479.2 L186.5 479.3 L190.5 479.3 L194.5 479.3 L198.5 479.4 L202.5 479.4 L206.5 479.4 L210.5 479.5 L214.5 479.5 L218.5 479.5 L222.5 479.5 L226.5 479.6 L230.5 479.6 L234.5 479.6 L238.5 479.7 L242.5 479.7 L246.5 479.7 L250.5 479.7 L254.5 479.7 L258.5 479.8 L262.5 479.8 L266.5 479.8 L270.5 479.8 L274.5 479.8 L278.5 479.8 L282.5 479.8 L286.5 479.7 L290.5 479.7 L294.5 479.7 L298.5 479.6 L302.5 479.6 L306.5 479.5 L310.5 479.4 L314.5 479.3 L318.5 479.1 L322.5 478.9 L326.5 478.8 L330.5 478.5 L334.5 478.3 L338.5 478.0 L342.5 477.7 L346.5 477.3 L350.5 476.9 L354.5 476.5 L358.5 476.0 L362.5 475.5 L366.5 474.9 L370.5 474.3 L374.5 473.7 L378.5 473.0 L382.5 472.3 L386.5 471.5 L390.5 470.8 L394.5 470.0 L398.5 469.1 L402.5 468.3 L406.5 467.5 L410.5 466.7 L414.5 465.8 L418.5 465.1 L422.5 464.3 L426.5 463.6 L430.5 462.9 L434.5 462.3 L438.5 461.8 L442.5 461.4 L446.5 461.0 L450.5 460.7 L454.5 460.6 L458.5 460.5 L462.5 460.6 L466.5 460.8 L470.5 461.1 L474.5 461.4 L478.5 461.9 L482.5 462.5 L486.5 463.1 L490.5 463.8 L494.5 464.6 L498.5 465.4 L502.5 466.3 L506.5 467.2 L510.5 468.0 L514.5 469.0 L518.5 469.9 L522.5 470.8 L526.5 471.7 L530.5 472.5 L534.5 473.4 L538.5 474.2 L542.5 475.0 L546.5 475.7 L550.5 476.4 L554.5 477.1 L558.5 477.7 L562.5 478.3 L566.5 478.8 L570.5 479.3 L574.5 479.8 L578.5 480.2 L582.5 480.6 L586.5 480.9 L590.5 481.2 L594.5 481.5 L598.5 481.8 L602.5 482.0 L606.5 482.2 L610.5 482.4 L614.5 482.6 L618.5 482.7 L622.5 482.9 L626.5 483.0 L630.5 483.1 L634.5 483.2 L638.5 483.3 L642.5 483.4 L646.5 483.5 L650.5 483.6 L654.5 483.6 L658.5 483.7 L662.5 483.8 L666.5 483.8 L670.5 483.9 L674.5 484.0 L678.5 484.0 L682.5 484.1 L686.5 484.1 L690.5 484.2 L694.5 484.2 L698.5 484.3 L702.5 484.3 L706.5 484.4 L710.5 484.4 L714.5 484.5 L718.5 484.5 L722.5 484.6 L726.5 484.6 L730.5 484.7 L734.5 484.7 L738.5 484.7 L742.5 484.8 L746.5 484.8 L750.5 484.9 L754.5 484.9 L758.5 485.0 L762.5 485.0 L766.5 485.1 L770.5 485.1 L774.5 485.1 L778.5 485.2 L782.5 485.2 L786.5 485.3 L790.5 485.3 L794.5 485.4 L798.5 485.4 L802.5 485.5 L806.5 485.5 L810.5 485.5 L814.5 485.6 L818.5 485.6 L822.5 485.7 L826.5 485.7 L830.5 485.7 L834.5 485.8 L838.5 485.8 L842.5 485.9 L846.5 485.9 L850.5 486.0 L854.5 486.0 L858.5 486.0 L862.5 486.1 L866.5 486.1 L870.5 486.2 L874.5 486.2 L878.5 486.3 L882.5 486.3 L886.5 486.3 L890.5 486.4 L894.5 486.4 L898.5 486.5 L902.5 486.5 L906.5 486.5 L910.5 486.6 L914.5 486.6 L918.5 486.7 L922.5 486.7 L926.5 486.7 L930.5 486.8 L934.5 486.8 L938.5 486.9 L942.5 486.9 L946.5 487.0 L950.5 487.0 L954.5 487.0 L958.5 487.1 L962.5 487.1 L966.5 487.2 L970.5 487.2 L974.5 487.2 L978.5 487.3 L982.5 487.3 L986.5 487.4 L990.5 487.4 L994.5 487.4 L998.5 487.5 L1002.5 487.5 L1006.5 487.6 L1010.5 487.6 L1014.5 487.6 L1018.5 487.7 L1022.5 487.7 L1026.5 487.8 L1030.5 487.8 L1034.5 487.8 L1038.5 487.9 L1042.5 487.9 L1046.5 488.0 L1050.5 488.0 L1054.5 488.0 L1058.5 488.1 L1062.5 488.1 L1066.5 488.2 L1070.5 488.2 L1074.5 488.2 L1078.5 488.3 L1082.5 488.3 L1086.5 488.4 L1090.5 488.4 L1094.5 488.4 L1098.5 488.5 L1102.5 488.5 L1106.5 488.6 L1110.5 488.6 L1114.5 488.6 L1118.5 488.7 L1122.5 488.7 L1126.5 488.8 L1130.5 488.8 L1134.5 488.8 L1138.5 488.9 L1142.5 488.9 L1146.5 489.0 L1150.5 489.0 L1154.5 489.1 L1158.5 489.1 L1162.5 489.1 L1166.5 489.2 L1170.5 489.2 L1174.5 489.3 L1178.5 489.3 L1182.5 489.3 L1186.5 489.4 L1190.5 489.4 L1194.5 489.5 L1198.5 489.5 L1202.5 489.5 L1206.5 489.6 L1210.5 489.6 L1214.5 489.7 L1218.5 489.7 L1222.5 489.7 L1226.5 489.8 L1230.5 489.8 L1234.5 489.9 L1238.5 489.9 L1242.5 489.9 L1246.5 490.0 L1250.5 490.0 L1254.5 490.1 L1258.5 490.1 L1262.5 490.1 L1266.5 490.2 L1270.5 490.2 L1274.5 490.3 L1277.0 490.3" fill="none" stroke="#00aa5e" stroke-width="3.50" stroke-linejoin="round" stroke-linecap="round"/>
</g>
<g clip-path="url(#c3)">
<path d="M118.5 709.7 L121.5 709.6 L124.5 709.6 L127.5 709.5 L130.5 709.5 L133.5 709.4 L136.5 709.4 L139.5 709.3 L142.5 709.3 L145.5 709.2 L148.5 709.2 L151.5 709.1 L154.5 709.0 L157.5 708.9 L160.5 708.8 L163.5 708.6 L166.5 708.4 L169.5 708.2 L172.5 707.9 L175.5 707.7 L178.5 707.5 L181.5 707.2 L184.5 707.0 L187.5 706.7 L190.5 706.4 L193.5 706.1 L196.5 705.8 L199.5 705.5 L202.5 705.1 L205.5 704.8 L208.5 704.4 L211.5 704.1 L214.5 703.7 L217.5 703.3 L220.5 703.0 L223.5 702.6 L226.5 702.2 L229.5 701.8 L232.5 701.3 L235.5 700.9 L238.5 700.5 L241.5 700.0 L244.5 699.5 L247.5 699.1 L250.5 698.6 L253.5 698.2 L256.5 697.8 L259.5 697.3 L262.5 696.9 L265.5 696.5 L268.5 696.1 L271.5 695.7 L274.5 695.3 L277.5 695.0 L280.5 694.6 L283.5 694.2 L286.5 693.8 L289.5 693.5 L292.5 693.2 L295.5 692.9 L298.5 692.6 L301.5 692.4 L304.5 692.2 L307.5 692.0 L310.5 691.8 L313.5 691.6 L316.5 691.4 L319.5 691.2 L322.5 691.1 L325.5 691.1 L328.5 691.1 L331.5 691.2 L334.5 691.3 L337.5 691.5 L340.5 691.6 L343.5 691.8 L346.5 691.9 L349.5 692.1 L352.5 692.3 L355.5 692.4 L358.5 692.7 L361.5 692.9 L364.5 693.2 L367.5 693.4 L370.5 693.7 L373.5 694.0 L376.5 694.3 L379.5 694.6 L382.5 694.9 L385.5 695.2 L388.5 695.5 L391.5 695.7 L394.5 695.8 L397.5 695.9 L400.5 695.9 L403.5 695.8 L406.5 695.7 L409.5 695.6 L412.5 695.5 L415.5 695.3 L418.5 695.1 L421.5 695.0 L424.5 694.8 L427.5 694.6 L430.5 694.4 L433.5 694.2 L436.5 693.9 L439.5 693.6 L442.5 693.3 L445.5 692.9 L448.5 692.6 L451.5 692.2 L454.5 691.9 L457.5 691.5 L460.5 691.1 L463.5 690.7 L466.5 690.2 L469.5 689.6 L472.5 689.0 L475.5 688.3 L478.5 687.6 L481.5 687.0 L484.5 686.3 L487.5 685.6 L490.5 684.9 L493.5 684.1 L496.5 683.3 L499.5 682.5 L502.5 681.6 L505.5 680.6 L508.5 679.6 L511.5 678.5 L514.5 677.5 L517.5 676.4 L520.5 675.4 L523.5 674.3 L526.5 673.3 L529.5 672.2 L532.5 671.1 L535.5 670.0 L538.5 668.9 L541.5 667.8 L544.5 666.7 L547.5 665.6 L550.5 664.5 L553.5 663.4 L556.5 662.3 L559.5 661.3 L562.5 660.2 L565.5 659.2 L568.5 658.3 L571.5 657.5 L574.5 656.6 L577.5 655.8 L580.5 654.9 L583.5 654.0 L586.5 653.1 L589.5 652.1 L592.5 651.1 L595.5 650.0 L598.5 649.0 L601.5 647.9 L604.5 646.8 L607.5 645.7 L610.5 644.6 L613.5 643.5 L616.5 642.3 L619.5 641.0 L622.5 639.7 L625.5 638.4 L628.5 637.1 L631.5 635.8 L634.5 634.4 L637.5 633.0 L640.5 631.6 L643.5 630.1 L646.5 628.4 L649.5 626.6 L652.5 624.8 L655.5 622.9 L658.5 621.0 L661.5 619.2 L664.5 617.2 L667.5 615.3 L670.5 613.1 L673.5 610.7 L676.5 607.9 L679.5 605.0 L682.5 602.0 L685.5 599.1 L688.5 596.3 L691.5 593.6 L694.5 590.9 L697.5 588.0 L700.5 584.9 L703.5 581.5 L706.5 577.9 L709.5 574.1 L712.5 570.1 L715.5 566.1 L718.5 562.0 L721.5 558.0 L724.5 554.2 L727.5 550.6 L730.5 547.2 L733.5 544.0 L736.5 541.0 L739.5 538.1 L742.5 535.2 L745.5 532.5 L748.5 529.8 L751.5 527.2 L754.5 524.7 L757.5 522.3 L760.5 519.9 L763.5 517.8 L766.5 515.7 L769.5 513.9 L772.5 512.2 L775.5 510.6 L778.5 509.2 L781.5 508.0 L784.5 507.2 L787.5 506.9 L790.5 507.1 L793.5 507.7 L796.5 508.5 L799.5 509.6 L802.5 511.0 L805.5 512.8 L808.5 514.9 L811.5 517.3 L814.5 520.1 L817.5 523.1 L820.5 526.3 L823.5 529.7 L826.5 533.3 L829.5 537.2 L832.5 541.3 L835.5 545.7 L838.5 550.3 L841.5 554.9 L844.5 559.7 L847.5 564.5 L850.5 569.2 L853.5 574.0 L856.5 578.8 L859.5 583.7 L862.5 588.5 L865.5 593.4 L868.5 598.4 L871.5 603.3 L874.5 608.3 L877.5 613.2 L880.5 618.1 L883.5 622.9 L886.5 627.5 L889.5 631.9 L892.5 636.1 L895.5 640.1 L898.5 643.9 L901.5 647.7 L904.5 651.4 L907.5 655.1 L910.5 658.7 L913.5 662.2 L916.5 665.5 L919.5 668.5 L922.5 671.3 L925.5 673.9 L928.5 676.3 L931.5 678.8 L934.5 681.1 L937.5 683.5 L940.5 685.8 L943.5 687.9 L946.5 689.8 L949.5 691.6 L952.5 693.1 L955.5 694.6 L958.5 696.0 L961.5 697.3 L964.5 698.7 L967.5 700.0 L970.5 701.2 L973.5 702.4 L976.5 703.4 L979.5 704.3 L982.5 705.1 L985.5 705.9 L988.5 706.7 L991.5 707.4 L994.5 708.1 L997.5 708.8 L1000.5 709.5 L1003.5 710.1 L1006.5 710.7 L1009.5 711.2 L1012.5 711.7 L1015.5 712.1 L1018.5 712.6 L1021.5 713.0 L1024.5 713.5 L1027.5 713.9 L1030.5 714.3 L1033.5 714.6 L1036.5 714.9 L1039.5 715.2 L1042.5 715.5 L1045.5 715.7 L1048.5 715.9 L1051.5 716.2 L1054.5 716.4 L1057.5 716.6 L1060.5 716.8 L1063.5 717.0 L1066.5 717.1 L1069.5 717.3 L1072.5 717.4 L1075.5 717.5 L1078.5 717.7 L1081.5 717.8 L1084.5 717.9 L1087.5 718.0 L1090.5 718.1 L1093.5 718.2 L1096.5 718.3 L1099.5 718.4 L1102.5 718.5 L1105.5 718.6 L1108.5 718.7 L1111.5 718.8 L1114.5 718.9 L1117.5 719.0 L1120.5 719.1 L1123.5 719.2 L1126.5 719.3 L1129.5 719.4 L1132.5 719.5 L1135.5 719.5 L1138.5 719.6 L1141.5 719.7 L1144.5 719.8 L1147.5 719.9 L1150.5 720.0 L1153.5 720.0 L1156.5 720.0 L1159.5 720.1 L1162.5 720.1 L1165.5 720.1 L1168.5 720.1 L1171.5 720.2 L1174.5 720.2 L1177.5 720.2 L1180.5 720.2 L1183.5 720.3 L1186.5 720.3 L1189.5 720.3 L1192.5 720.3 L1195.5 720.4 L1198.5 720.4 L1201.5 720.4 L1204.5 720.4 L1207.5 720.5 L1210.5 720.5 L1213.5 720.5 L1216.5 720.5 L1219.5 720.5 L1222.5 720.6 L1225.5 720.6 L1228.5 720.6 L1231.5 720.6 L1234.5 720.7 L1237.5 720.7 L1240.5 720.7 L1243.5 720.7 L1246.5 720.8 L1249.5 720.8 L1252.5 720.8 L1255.5 720.8 L1258.5 720.9 L1261.5 720.9 L1264.5 720.9 L1267.5 720.9 L1270.5 720.9 L1273.5 721.0 L1276.5 721.0 L1277.0 721.0" fill="none" stroke="#474747" stroke-width="3.50" stroke-linejoin="round" stroke-linecap="round"/>
<path d="M118.5 710.8 L122.5 710.8 L126.5 710.9 L130.5 710.9 L134.5 710.9 L138.5 711.0 L142.5 711.0 L146.5 711.0 L150.5 711.1 L154.5 711.1 L158.5 711.2 L162.5 711.2 L166.5 711.2 L170.5 711.3 L174.5 711.3 L178.5 711.3 L182.5 711.4 L186.5 711.4 L190.5 711.4 L194.5 711.5 L198.5 711.5 L202.5 711.5 L206.5 711.6 L210.5 711.6 L214.5 711.6 L218.5 711.7 L222.5 711.7 L226.5 711.8 L230.5 711.8 L234.5 711.8 L238.5 711.9 L242.5 711.9 L246.5 711.9 L250.5 712.0 L254.5 712.0 L258.5 712.0 L262.5 712.1 L266.5 712.1 L270.5 712.1 L274.5 712.2 L278.5 712.2 L282.5 712.2 L286.5 712.3 L290.5 712.3 L294.5 712.3 L298.5 712.4 L302.5 712.4 L306.5 712.4 L310.5 712.5 L314.5 712.5 L318.5 712.5 L322.5 712.5 L326.5 712.6 L330.5 712.6 L334.5 712.6 L338.5 712.7 L342.5 712.7 L346.5 712.7 L350.5 712.8 L354.5 712.8 L358.5 712.8 L362.5 712.8 L366.5 712.9 L370.5 712.9 L374.5 712.9 L378.5 713.0 L382.5 713.0 L386.5 713.0 L390.5 713.0 L394.5 713.1 L398.5 713.1 L402.5 713.1 L406.5 713.1 L410.5 713.2 L414.5 713.2 L418.5 713.2 L422.5 713.2 L426.5 713.3 L430.5 713.3 L434.5 713.3 L438.5 713.3 L442.5 713.3 L446.5 713.3 L450.5 713.4 L454.5 713.4 L458.5 713.4 L462.5 713.4 L466.5 713.4 L470.5 713.4 L474.5 713.4 L478.5 713.3 L482.5 713.3 L486.5 713.3 L490.5 713.3 L494.5 713.2 L498.5 713.2 L502.5 713.1 L506.5 713.0 L510.5 712.9 L514.5 712.8 L518.5 712.6 L522.5 712.5 L526.5 712.3 L530.5 712.0 L534.5 711.8 L538.5 711.5 L542.5 711.1 L546.5 710.7 L550.5 710.3 L554.5 709.8 L558.5 709.2 L562.5 708.6 L566.5 707.8 L570.5 707.0 L574.5 706.1 L578.5 705.1 L582.5 704.0 L586.5 702.8 L590.5 701.4 L594.5 699.9 L598.5 698.3 L602.5 696.4 L606.5 694.5 L610.5 692.3 L614.5 690.0 L618.5 687.5 L622.5 684.8 L626.5 681.9 L630.5 678.8 L634.5 675.5 L638.5 672.0 L642.5 668.2 L646.5 664.3 L650.5 660.1 L654.5 655.7 L658.5 651.1 L662.5 646.3 L666.5 641.3 L670.5 636.2 L674.5 630.8 L678.5 625.3 L682.5 619.7 L686.5 613.9 L690.5 608.1 L694.5 602.1 L698.5 596.2 L702.5 590.2 L706.5 584.2 L710.5 578.2 L714.5 572.3 L718.5 566.5 L722.5 560.9 L726.5 555.4 L730.5 550.1 L734.5 545.1 L738.5 540.3 L742.5 535.8 L746.5 531.7 L750.5 527.9 L754.5 524.5 L758.5 521.6 L762.5 519.0 L766.5 517.0 L770.5 515.4 L774.5 514.3 L778.5 513.7 L782.5 513.7 L786.5 514.1 L790.5 515.0 L794.5 516.5 L798.5 518.4 L802.5 520.8 L806.5 523.6 L810.5 526.9 L814.5 530.5 L818.5 534.6 L822.5 539.0 L826.5 543.7 L830.5 548.7 L834.5 554.0 L838.5 559.4 L842.5 565.1 L846.5 570.9 L850.5 576.8 L854.5 582.8 L858.5 588.9 L862.5 595.0 L866.5 601.0 L870.5 607.1 L874.5 613.0 L878.5 618.9 L882.5 624.7 L886.5 630.3 L890.5 635.8 L894.5 641.2 L898.5 646.3 L902.5 651.3 L906.5 656.0 L910.5 660.6 L914.5 665.0 L918.5 669.1 L922.5 673.0 L926.5 676.7 L930.5 680.2 L934.5 683.5 L938.5 686.6 L942.5 689.4 L946.5 692.1 L950.5 694.6 L954.5 696.9 L958.5 699.0 L962.5 701.0 L966.5 702.8 L970.5 704.4 L974.5 705.9 L978.5 707.3 L982.5 708.5 L986.5 709.7 L990.5 710.7 L994.5 711.6 L998.5 712.5 L1002.5 713.2 L1006.5 713.9 L1010.5 714.5 L1014.5 715.1 L1018.5 715.6 L1022.5 716.0 L1026.5 716.4 L1030.5 716.8 L1034.5 717.1 L1038.5 717.4 L1042.5 717.6 L1046.5 717.9 L1050.5 718.1 L1054.5 718.3 L1058.5 718.4 L1062.5 718.6 L1066.5 718.7 L1070.5 718.9 L1074.5 719.0 L1078.5 719.1 L1082.5 719.2 L1086.5 719.3 L1090.5 719.4 L1094.5 719.5 L1098.5 719.5 L1102.5 719.6 L1106.5 719.7 L1110.5 719.8 L1114.5 719.8 L1118.5 719.9 L1122.5 720.0 L1126.5 720.0 L1130.5 720.1 L1134.5 720.1 L1138.5 720.2 L1142.5 720.2 L1146.5 720.3 L1150.5 720.4 L1154.5 720.4 L1158.5 720.5 L1162.5 720.5 L1166.5 720.6 L1170.5 720.6 L1174.5 720.7 L1178.5 720.7 L1182.5 720.8 L1186.5 720.8 L1190.5 720.9 L1194.5 720.9 L1198.5 721.0 L1202.5 721.0 L1206.5 721.1 L1210.5 721.1 L1214.5 721.2 L1218.5 721.2 L1222.5 721.3 L1226.5 721.3 L1230.5 721.4 L1234.5 721.4 L1238.5 721.4 L1242.5 721.5 L1246.5 721.5 L1250.5 721.6 L1254.5 721.6 L1258.5 721.7 L1262.5 721.7 L1266.5 721.8 L1270.5 721.8 L1274.5 721.9 L1277.0 721.9" fill="none" stroke="#fa3535" stroke-width="3.50" stroke-linejoin="round" stroke-linecap="round"/>
<path d="M118.5 712.1 L122.5 712.1 L126.5 712.2 L130.5 712.2 L134.5 712.2 L138.5 712.2 L142.5 712.3 L146.5 712.3 L150.5 712.3 L154.5 712.3 L158.5 712.4 L162.5 712.4 L166.5 712.4 L170.5 712.5 L174.5 712.5 L178.5 712.5 L182.5 712.5 L186.5 712.6 L190.5 712.6 L194.5 712.6 L198.5 712.6 L202.5 712.7 L206.5 712.7 L210.5 712.7 L214.5 712.7 L218.5 712.7 L222.5 712.8 L226.5 712.8 L230.5 712.8 L234.5 712.8 L238.5 712.9 L242.5 712.9 L246.5 712.9 L250.5 712.9 L254.5 712.9 L258.5 713.0 L262.5 713.0 L266.5 713.0 L270.5 713.0 L274.5 713.0 L278.5 713.0 L282.5 713.0 L286.5 713.1 L290.5 713.1 L294.5 713.1 L298.5 713.1 L302.5 713.1 L306.5 713.1 L310.5 713.1 L314.5 713.1 L318.5 713.0 L322.5 713.0 L326.5 713.0 L330.5 712.9 L334.5 712.9 L338.5 712.9 L342.5 712.8 L346.5 712.7 L350.5 712.6 L354.5 712.5 L358.5 712.4 L362.5 712.3 L366.5 712.1 L370.5 712.0 L374.5 711.8 L378.5 711.5 L382.5 711.3 L386.5 711.0 L390.5 710.7 L394.5 710.4 L398.5 710.0 L402.5 709.6 L406.5 709.1 L410.5 708.6 L414.5 708.1 L418.5 707.5 L422.5 706.8 L426.5 706.1 L430.5 705.4 L434.5 704.5 L438.5 703.7 L442.5 702.7 L446.5 701.7 L450.5 700.7 L454.5 699.6 L458.5 698.4 L462.5 697.2 L466.5 695.9 L470.5 694.6 L474.5 693.2 L478.5 691.8 L482.5 690.3 L486.5 688.8 L490.5 687.3 L494.5 685.7 L498.5 684.1 L502.5 682.5 L506.5 680.9 L510.5 679.3 L514.5 677.8 L518.5 676.2 L522.5 674.7 L526.5 673.2 L530.5 671.8 L534.5 670.4 L538.5 669.1 L542.5 668.0 L546.5 666.9 L550.5 665.9 L554.5 665.0 L558.5 664.2 L562.5 663.6 L566.5 663.1 L570.5 662.8 L574.5 662.6 L578.5 662.5 L582.5 662.6 L586.5 662.9 L590.5 663.3 L594.5 663.8 L598.5 664.5 L602.5 665.3 L606.5 666.2 L610.5 667.3 L614.5 668.4 L618.5 669.7 L622.5 671.0 L626.5 672.4 L630.5 673.9 L634.5 675.5 L638.5 677.0 L642.5 678.7 L646.5 680.3 L650.5 681.9 L654.5 683.6 L658.5 685.3 L662.5 686.9 L666.5 688.5 L670.5 690.2 L674.5 691.7 L678.5 693.3 L682.5 694.8 L686.5 696.2 L690.5 697.6 L694.5 699.0 L698.5 700.3 L702.5 701.5 L706.5 702.7 L710.5 703.8 L714.5 704.9 L718.5 705.9 L722.5 706.8 L726.5 707.7 L730.5 708.5 L734.5 709.3 L738.5 710.0 L742.5 710.7 L746.5 711.3 L750.5 711.9 L754.5 712.4 L758.5 712.9 L762.5 713.4 L766.5 713.8 L770.5 714.1 L774.5 714.5 L778.5 714.8 L782.5 715.1 L786.5 715.4 L790.5 715.6 L794.5 715.8 L798.5 716.0 L802.5 716.2 L806.5 716.4 L810.5 716.5 L814.5 716.7 L818.5 716.8 L822.5 716.9 L826.5 717.0 L830.5 717.1 L834.5 717.2 L838.5 717.3 L842.5 717.4 L846.5 717.5 L850.5 717.5 L854.5 717.6 L858.5 717.7 L862.5 717.7 L866.5 717.8 L870.5 717.8 L874.5 717.9 L878.5 718.0 L882.5 718.0 L886.5 718.1 L890.5 718.1 L894.5 718.2 L898.5 718.2 L902.5 718.3 L906.5 718.3 L910.5 718.3 L914.5 718.4 L918.5 718.4 L922.5 718.5 L926.5 718.5 L930.5 718.6 L934.5 718.6 L938.5 718.7 L942.5 718.7 L946.5 718.7 L950.5 718.8 L954.5 718.8 L958.5 718.9 L962.5 718.9 L966.5 718.9 L970.5 719.0 L974.5 719.0 L978.5 719.1 L982.5 719.1 L986.5 719.1 L990.5 719.2 L994.5 719.2 L998.5 719.3 L1002.5 719.3 L1006.5 719.3 L1010.5 719.4 L1014.5 719.4 L1018.5 719.5 L1022.5 719.5 L1026.5 719.5 L1030.5 719.6 L1034.5 719.6 L1038.5 719.6 L1042.5 719.7 L1046.5 719.7 L1050.5 719.8 L1054.5 719.8 L1058.5 719.8 L1062.5 719.9 L1066.5 719.9 L1070.5 719.9 L1074.5 720.0 L1078.5 720.0 L1082.5 720.0 L1086.5 720.1 L1090.5 720.1 L1094.5 720.2 L1098.5 720.2 L1102.5 720.2 L1106.5 720.3 L1110.5 720.3 L1114.5 720.3 L1118.5 720.4 L1122.5 720.4 L1126.5 720.4 L1130.5 720.5 L1134.5 720.5 L1138.5 720.6 L1142.5 720.6 L1146.5 720.6 L1150.5 720.7 L1154.5 720.7 L1158.5 720.7 L1162.5 720.8 L1166.5 720.8 L1170.5 720.8 L1174.5 720.9 L1178.5 720.9 L1182.5 720.9 L1186.5 721.0 L1190.5 721.0 L1194.5 721.0 L1198.5 721.1 L1202.5 721.1 L1206.5 721.1 L1210.5 721.2 L1214.5 721.2 L1218.5 721.3 L1222.5 721.3 L1226.5 721.3 L1230.5 721.4 L1234.5 721.4 L1238.5 721.4 L1242.5 721.5 L1246.5 721.5 L1250.5 721.5 L1254.5 721.6 L1258.5 721.6 L1262.5 721.6 L1266.5 721.7 L1270.5 721.7 L1274.5 721.7 L1277.0 721.8" fill="none" stroke="#0a6ee0" stroke-width="3.50" stroke-linejoin="round" stroke-linecap="round"/>
<path d="M118.5 712.5 L122.5 712.5 L126.5 712.5 L130.5 712.5 L134.5 712.5 L138.5 712.5 L142.5 712.6 L146.5 712.6 L150.5 712.6 L154.5 712.6 L158.5 712.6 L162.5 712.6 L166.5 712.6 L170.5 712.6 L174.5 712.6 L178.5 712.6 L182.5 712.6 L186.5 712.6 L190.5 712.6 L194.5 712.6 L198.5 712.6 L202.5 712.6 L206.5 712.6 L210.5 712.5 L214.5 712.5 L218.5 712.5 L222.5 712.4 L226.5 712.4 L230.5 712.3 L234.5 712.3 L238.5 712.2 L242.5 712.2 L246.5 712.1 L250.5 712.0 L254.5 711.9 L258.5 711.8 L262.5 711.7 L266.5 711.5 L270.5 711.4 L274.5 711.2 L278.5 711.1 L282.5 710.9 L286.5 710.7 L290.5 710.5 L294.5 710.2 L298.5 710.0 L302.5 709.7 L306.5 709.4 L310.5 709.2 L314.5 708.8 L318.5 708.5 L322.5 708.1 L326.5 707.8 L330.5 707.4 L334.5 707.0 L338.5 706.5 L342.5 706.1 L346.5 705.6 L350.5 705.1 L354.5 704.6 L358.5 704.1 L362.5 703.6 L366.5 703.0 L370.5 702.5 L374.5 701.9 L378.5 701.3 L382.5 700.7 L386.5 700.1 L390.5 699.5 L394.5 698.9 L398.5 698.3 L402.5 697.7 L406.5 697.1 L410.5 696.6 L414.5 696.0 L418.5 695.4 L422.5 694.9 L426.5 694.4 L430.5 693.9 L434.5 693.4 L438.5 693.0 L442.5 692.6 L446.5 692.2 L450.5 691.9 L454.5 691.6 L458.5 691.4 L462.5 691.2 L466.5 691.1 L470.5 691.0 L474.5 691.0 L478.5 691.0 L482.5 691.0 L486.5 691.2 L490.5 691.3 L494.5 691.5 L498.5 691.8 L502.5 692.1 L506.5 692.5 L510.5 692.9 L514.5 693.3 L518.5 693.8 L522.5 694.3 L526.5 694.8 L530.5 695.4 L534.5 696.0 L538.5 696.6 L542.5 697.2 L546.5 697.8 L550.5 698.4 L554.5 699.1 L558.5 699.7 L562.5 700.4 L566.5 701.0 L570.5 701.7 L574.5 702.3 L578.5 703.0 L582.5 703.6 L586.5 704.2 L590.5 704.8 L594.5 705.4 L598.5 706.0 L602.5 706.5 L606.5 707.1 L610.5 707.6 L614.5 708.1 L618.5 708.6 L622.5 709.1 L626.5 709.5 L630.5 710.0 L634.5 710.4 L638.5 710.8 L642.5 711.2 L646.5 711.5 L650.5 711.9 L654.5 712.2 L658.5 712.5 L662.5 712.8 L666.5 713.0 L670.5 713.3 L674.5 713.5 L678.5 713.8 L682.5 714.0 L686.5 714.2 L690.5 714.4 L694.5 714.5 L698.5 714.7 L702.5 714.9 L706.5 715.0 L710.5 715.1 L714.5 715.3 L718.5 715.4 L722.5 715.5 L726.5 715.6 L730.5 715.7 L734.5 715.8 L738.5 715.9 L742.5 715.9 L746.5 716.0 L750.5 716.1 L754.5 716.2 L758.5 716.2 L762.5 716.3 L766.5 716.3 L770.5 716.4 L774.5 716.5 L778.5 716.5 L782.5 716.6 L786.5 716.6 L790.5 716.7 L794.5 716.7 L798.5 716.7 L802.5 716.8 L806.5 716.8 L810.5 716.9 L814.5 716.9 L818.5 716.9 L822.5 717.0 L826.5 717.0 L830.5 717.1 L834.5 717.1 L838.5 717.1 L842.5 717.2 L846.5 717.2 L850.5 717.2 L854.5 717.3 L858.5 717.3 L862.5 717.3 L866.5 717.4 L870.5 717.4 L874.5 717.4 L878.5 717.5 L882.5 717.5 L886.5 717.5 L890.5 717.6 L894.5 717.6 L898.5 717.6 L902.5 717.7 L906.5 717.7 L910.5 717.7 L914.5 717.8 L918.5 717.8 L922.5 717.8 L926.5 717.8 L930.5 717.9 L934.5 717.9 L938.5 717.9 L942.5 718.0 L946.5 718.0 L950.5 718.0 L954.5 718.1 L958.5 718.1 L962.5 718.1 L966.5 718.1 L970.5 718.2 L974.5 718.2 L978.5 718.2 L982.5 718.3 L986.5 718.3 L990.5 718.3 L994.5 718.4 L998.5 718.4 L1002.5 718.4 L1006.5 718.4 L1010.5 718.5 L1014.5 718.5 L1018.5 718.5 L1022.5 718.6 L1026.5 718.6 L1030.5 718.6 L1034.5 718.6 L1038.5 718.7 L1042.5 718.7 L1046.5 718.7 L1050.5 718.8 L1054.5 718.8 L1058.5 718.8 L1062.5 718.8 L1066.5 718.9 L1070.5 718.9 L1074.5 718.9 L1078.5 719.0 L1082.5 719.0 L1086.5 719.0 L1090.5 719.0 L1094.5 719.1 L1098.5 719.1 L1102.5 719.1 L1106.5 719.1 L1110.5 719.2 L1114.5 719.2 L1118.5 719.2 L1122.5 719.3 L1126.5 719.3 L1130.5 719.3 L1134.5 719.3 L1138.5 719.4 L1142.5 719.4 L1146.5 719.4 L1150.5 719.4 L1154.5 719.5 L1158.5 719.5 L1162.5 719.5 L1166.5 719.6 L1170.5 719.6 L1174.5 719.6 L1178.5 719.6 L1182.5 719.7 L1186.5 719.7 L1190.5 719.7 L1194.5 719.7 L1198.5 719.8 L1202.5 719.8 L1206.5 719.8 L1210.5 719.9 L1214.5 719.9 L1218.5 719.9 L1222.5 719.9 L1226.5 720.0 L1230.5 720.0 L1234.5 720.0 L1238.5 720.0 L1242.5 720.1 L1246.5 720.1 L1250.5 720.1 L1254.5 720.2 L1258.5 720.2 L1262.5 720.2 L1266.5 720.2 L1270.5 720.3 L1274.5 720.3 L1277.0 720.3" fill="none" stroke="#00aa5e" stroke-width="3.50" stroke-linejoin="round" stroke-linecap="round"/>
<path d="M118.5 712.2 C148.8 712.4 229.8 713.3 300.0 713.5 C370.2 713.7 425.7 712.0 540.0 713.2 C654.3 714.4 864.3 719.2 986.0 720.6 C1107.7 722.0 1222.7 721.2 1270.0 721.3" fill="none" stroke="#c278e0" stroke-width="3.50" stroke-linejoin="round" stroke-linecap="round"/>
</g>
<g clip-path="url(#c4)">
<path d="M118.0 1091.8 L121.0 1091.8 L124.0 1091.7 L127.0 1091.7 L130.0 1091.7 L133.0 1091.7 L136.0 1091.6 L139.0 1091.6 L142.0 1091.6 L145.0 1091.5 L148.0 1091.5 L151.0 1091.5 L154.0 1091.4 L157.0 1091.4 L160.0 1091.4 L163.0 1091.4 L166.0 1091.3 L169.0 1091.3 L172.0 1091.3 L175.0 1091.2 L178.0 1091.2 L181.0 1091.2 L184.0 1091.2 L187.0 1091.1 L190.0 1091.1 L193.0 1091.1 L196.0 1091.0 L199.0 1091.0 L202.0 1090.9 L205.0 1090.9 L208.0 1090.8 L211.0 1090.8 L214.0 1090.7 L217.0 1090.7 L220.0 1090.6 L223.0 1090.5 L226.0 1090.5 L229.0 1090.4 L232.0 1090.3 L235.0 1090.3 L238.0 1090.2 L241.0 1090.2 L244.0 1090.1 L247.0 1090.0 L250.0 1090.0 L253.0 1089.9 L256.0 1089.9 L259.0 1089.8 L262.0 1089.7 L265.0 1089.7 L268.0 1089.6 L271.0 1089.6 L274.0 1089.5 L277.0 1089.4 L280.0 1089.3 L283.0 1089.2 L286.0 1089.1 L289.0 1088.9 L292.0 1088.7 L295.0 1088.5 L298.0 1088.3 L301.0 1088.1 L304.0 1087.8 L307.0 1087.6 L310.0 1087.4 L313.0 1087.2 L316.0 1087.0 L319.0 1086.8 L322.0 1086.5 L325.0 1086.3 L328.0 1086.0 L331.0 1085.7 L334.0 1085.3 L337.0 1084.9 L340.0 1084.5 L343.0 1084.0 L346.0 1083.6 L349.0 1083.1 L352.0 1082.7 L355.0 1082.2 L358.0 1081.7 L361.0 1081.3 L364.0 1080.8 L367.0 1080.3 L370.0 1079.8 L373.0 1079.2 L376.0 1078.7 L379.0 1078.2 L382.0 1077.6 L385.0 1077.0 L388.0 1076.4 L391.0 1075.7 L394.0 1074.9 L397.0 1074.1 L400.0 1073.2 L403.0 1072.4 L406.0 1071.6 L409.0 1070.7 L412.0 1069.8 L415.0 1068.9 L418.0 1068.0 L421.0 1067.0 L424.0 1066.0 L427.0 1064.9 L430.0 1063.9 L433.0 1062.8 L436.0 1061.8 L439.0 1060.7 L442.0 1059.5 L445.0 1058.4 L448.0 1057.1 L451.0 1055.8 L454.0 1054.5 L457.0 1053.2 L460.0 1051.8 L463.0 1050.5 L466.0 1049.1 L469.0 1047.7 L472.0 1046.3 L475.0 1044.8 L478.0 1043.2 L481.0 1041.6 L484.0 1040.0 L487.0 1038.3 L490.0 1036.7 L493.0 1035.0 L496.0 1033.3 L499.0 1031.6 L502.0 1029.7 L505.0 1027.8 L508.0 1025.8 L511.0 1023.7 L514.0 1021.6 L517.0 1019.6 L520.0 1017.4 L523.0 1015.3 L526.0 1013.2 L529.0 1011.0 L532.0 1008.7 L535.0 1006.4 L538.0 1004.1 L541.0 1001.7 L544.0 999.3 L547.0 996.9 L550.0 994.5 L553.0 992.1 L556.0 989.7 L559.0 987.4 L562.0 985.0 L565.0 982.7 L568.0 980.4 L571.0 978.1 L574.0 975.8 L577.0 973.5 L580.0 971.3 L583.0 969.2 L586.0 967.1 L589.0 964.9 L592.0 962.9 L595.0 960.8 L598.0 958.8 L601.0 956.9 L604.0 955.1 L607.0 953.3 L610.0 951.7 L613.0 950.0 L616.0 948.5 L619.0 947.1 L622.0 945.8 L625.0 944.6 L628.0 943.5 L631.0 942.4 L634.0 941.4 L637.0 940.4 L640.0 939.4 L643.0 938.4 L646.0 937.5 L649.0 936.7 L652.0 936.0 L655.0 935.5 L658.0 935.0 L661.0 934.7 L664.0 934.4 L667.0 934.3 L670.0 934.4 L673.0 934.6 L676.0 934.8 L679.0 935.0 L682.0 935.2 L685.0 935.4 L688.0 935.5 L691.0 935.7 L694.0 935.8 L697.0 936.0 L700.0 936.3 L703.0 936.7 L706.0 937.1 L709.0 937.5 L712.0 938.0 L715.0 938.6 L718.0 939.2 L721.0 940.0 L724.0 941.0 L727.0 942.1 L730.0 943.4 L733.0 944.7 L736.0 946.0 L739.0 947.3 L742.0 948.7 L745.0 950.0 L748.0 951.3 L751.0 952.6 L754.0 954.0 L757.0 955.3 L760.0 956.7 L763.0 958.2 L766.0 959.7 L769.0 961.2 L772.0 962.7 L775.0 964.3 L778.0 965.9 L781.0 967.6 L784.0 969.3 L787.0 971.1 L790.0 972.8 L793.0 974.6 L796.0 976.3 L799.0 977.9 L802.0 979.5 L805.0 981.1 L808.0 982.6 L811.0 984.1 L814.0 985.7 L817.0 987.3 L820.0 989.0 L823.0 990.7 L826.0 992.5 L829.0 994.3 L832.0 996.1 L835.0 997.9 L838.0 999.7 L841.0 1001.5 L844.0 1003.3 L847.0 1005.1 L850.0 1006.9 L853.0 1008.8 L856.0 1010.7 L859.0 1012.6 L862.0 1014.7 L865.0 1016.7 L868.0 1018.8 L871.0 1020.8 L874.0 1022.7 L877.0 1024.6 L880.0 1026.3 L883.0 1028.0 L886.0 1029.5 L889.0 1031.0 L892.0 1032.5 L895.0 1033.9 L898.0 1035.3 L901.0 1036.6 L904.0 1037.9 L907.0 1039.2 L910.0 1040.4 L913.0 1041.6 L916.0 1042.8 L919.0 1044.1 L922.0 1045.3 L925.0 1046.5 L928.0 1047.7 L931.0 1048.9 L934.0 1050.1 L937.0 1051.3 L940.0 1052.5 L943.0 1053.6 L946.0 1054.7 L949.0 1055.8 L952.0 1056.9 L955.0 1058.0 L958.0 1059.2 L961.0 1060.3 L964.0 1061.4 L967.0 1062.5 L970.0 1063.6 L973.0 1064.7 L976.0 1065.8 L979.0 1066.9 L982.0 1068.0 L985.0 1069.1 L988.0 1070.2 L991.0 1071.3 L994.0 1072.3 L997.0 1073.4 L1000.0 1074.4 L1003.0 1075.4 L1006.0 1076.4 L1009.0 1077.4 L1012.0 1078.3 L1015.0 1079.2 L1018.0 1079.9 L1021.0 1080.5 L1024.0 1081.1 L1027.0 1081.7 L1030.0 1082.2 L1033.0 1082.7 L1036.0 1083.2 L1039.0 1083.7 L1042.0 1084.2 L1045.0 1084.7 L1048.0 1085.2 L1051.0 1085.7 L1054.0 1086.2 L1057.0 1086.7 L1060.0 1087.1 L1063.0 1087.4 L1066.0 1087.7 L1069.0 1088.0 L1072.0 1088.2 L1075.0 1088.4 L1078.0 1088.6 L1081.0 1088.8 L1084.0 1089.0 L1087.0 1089.3 L1090.0 1089.5 L1093.0 1089.7 L1096.0 1089.9 L1099.0 1090.1 L1102.0 1090.3 L1105.0 1090.5 L1108.0 1090.7 L1111.0 1090.8 L1114.0 1091.0 L1117.0 1091.1 L1120.0 1091.3 L1123.0 1091.4 L1126.0 1091.6 L1129.0 1091.7 L1132.0 1091.9 L1135.0 1092.0 L1138.0 1092.2 L1141.0 1092.3 L1144.0 1092.4 L1147.0 1092.6 L1150.0 1092.7 L1153.0 1092.8 L1156.0 1092.8 L1159.0 1092.9 L1162.0 1092.9 L1165.0 1093.0 L1168.0 1093.0 L1171.0 1093.1 L1174.0 1093.1 L1177.0 1093.2 L1180.0 1093.2 L1183.0 1093.2 L1186.0 1093.3 L1189.0 1093.3 L1192.0 1093.4 L1195.0 1093.4 L1198.0 1093.4 L1201.0 1093.5 L1204.0 1093.5 L1207.0 1093.6 L1210.0 1093.6 L1213.0 1093.6 L1216.0 1093.6 L1219.0 1093.7 L1222.0 1093.7 L1225.0 1093.7 L1228.0 1093.7 L1231.0 1093.7 L1234.0 1093.7 L1237.0 1093.8 L1240.0 1093.8 L1243.0 1093.8 L1246.0 1093.8 L1249.0 1093.8 L1252.0 1093.8 L1255.0 1093.9 L1258.0 1093.9 L1261.0 1093.9 L1264.0 1093.9 L1267.0 1093.9 L1270.0 1093.9 L1273.0 1094.0 L1276.0 1094.0 L1279.0 1094.0" fill="none" stroke="#474747" stroke-width="3.50" stroke-linejoin="round" stroke-linecap="round"/>
<path d="M118.0 1092.7 L122.0 1092.7 L126.0 1092.6 L130.0 1092.6 L134.0 1092.6 L138.0 1092.6 L142.0 1092.6 L146.0 1092.6 L150.0 1092.6 L154.0 1092.6 L158.0 1092.6 L162.0 1092.6 L166.0 1092.6 L170.0 1092.6 L174.0 1092.6 L178.0 1092.6 L182.0 1092.6 L186.0 1092.6 L190.0 1092.6 L194.0 1092.5 L198.0 1092.5 L202.0 1092.5 L206.0 1092.5 L210.0 1092.5 L214.0 1092.5 L218.0 1092.5 L222.0 1092.5 L226.0 1092.5 L230.0 1092.5 L234.0 1092.4 L238.0 1092.4 L242.0 1092.4 L246.0 1092.4 L250.0 1092.4 L254.0 1092.4 L258.0 1092.3 L262.0 1092.3 L266.0 1092.3 L270.0 1092.3 L274.0 1092.3 L278.0 1092.2 L282.0 1092.2 L286.0 1092.2 L290.0 1092.2 L294.0 1092.1 L298.0 1092.1 L302.0 1092.1 L306.0 1092.0 L310.0 1092.0 L314.0 1091.9 L318.0 1091.9 L322.0 1091.9 L326.0 1091.8 L330.0 1091.8 L334.0 1091.7 L338.0 1091.6 L342.0 1091.6 L346.0 1091.5 L350.0 1091.5 L354.0 1091.4 L358.0 1091.3 L362.0 1091.2 L366.0 1091.1 L370.0 1091.0 L374.0 1090.9 L378.0 1090.8 L382.0 1090.7 L386.0 1090.6 L390.0 1090.4 L394.0 1090.3 L398.0 1090.1 L402.0 1090.0 L406.0 1089.8 L410.0 1089.6 L414.0 1089.4 L418.0 1089.2 L422.0 1089.0 L426.0 1088.7 L430.0 1088.5 L434.0 1088.2 L438.0 1087.9 L442.0 1087.6 L446.0 1087.2 L450.0 1086.9 L454.0 1086.5 L458.0 1086.1 L462.0 1085.7 L466.0 1085.3 L470.0 1084.8 L474.0 1084.3 L478.0 1083.8 L482.0 1083.3 L486.0 1082.7 L490.0 1082.1 L494.0 1081.4 L498.0 1080.8 L502.0 1080.1 L506.0 1079.3 L510.0 1078.6 L514.0 1077.7 L518.0 1076.9 L522.0 1076.0 L526.0 1075.1 L530.0 1074.1 L534.0 1073.1 L538.0 1072.1 L542.0 1071.0 L546.0 1069.9 L550.0 1068.8 L554.0 1067.6 L558.0 1066.3 L562.0 1065.0 L566.0 1063.7 L570.0 1062.4 L574.0 1060.9 L578.0 1059.5 L582.0 1058.0 L586.0 1056.5 L590.0 1055.0 L594.0 1053.4 L598.0 1051.8 L602.0 1050.1 L606.0 1048.4 L610.0 1046.7 L614.0 1045.0 L618.0 1043.2 L622.0 1041.4 L626.0 1039.6 L630.0 1037.8 L634.0 1036.0 L638.0 1034.1 L642.0 1032.3 L646.0 1030.4 L650.0 1028.6 L654.0 1026.7 L658.0 1024.9 L662.0 1023.1 L666.0 1021.2 L670.0 1019.4 L674.0 1017.7 L678.0 1015.9 L682.0 1014.2 L686.0 1012.5 L690.0 1010.9 L694.0 1009.3 L698.0 1007.7 L702.0 1006.2 L706.0 1004.8 L710.0 1003.4 L714.0 1002.2 L718.0 1000.9 L722.0 999.8 L726.0 998.7 L730.0 997.8 L734.0 996.9 L738.0 996.1 L742.0 995.4 L746.0 994.9 L750.0 994.4 L754.0 994.0 L758.0 993.8 L762.0 993.6 L766.0 993.6 L770.0 993.6 L774.0 993.8 L778.0 994.1 L782.0 994.5 L786.0 995.0 L790.0 995.6 L794.0 996.3 L798.0 997.1 L802.0 998.0 L806.0 999.0 L810.0 1000.1 L814.0 1001.3 L818.0 1002.5 L822.0 1003.8 L826.0 1005.2 L830.0 1006.7 L834.0 1008.2 L838.0 1009.7 L842.0 1011.3 L846.0 1013.0 L850.0 1014.7 L854.0 1016.5 L858.0 1018.2 L862.0 1020.0 L866.0 1021.9 L870.0 1023.7 L874.0 1025.6 L878.0 1027.4 L882.0 1029.3 L886.0 1031.2 L890.0 1033.0 L894.0 1034.9 L898.0 1036.8 L902.0 1038.6 L906.0 1040.5 L910.0 1042.3 L914.0 1044.1 L918.0 1045.9 L922.0 1047.6 L926.0 1049.3 L930.0 1051.0 L934.0 1052.7 L938.0 1054.4 L942.0 1056.0 L946.0 1057.5 L950.0 1059.1 L954.0 1060.6 L958.0 1062.0 L962.0 1063.4 L966.0 1064.8 L970.0 1066.2 L974.0 1067.5 L978.0 1068.7 L982.0 1069.9 L986.0 1071.1 L990.0 1072.2 L994.0 1073.3 L998.0 1074.4 L1002.0 1075.4 L1006.0 1076.4 L1010.0 1077.3 L1014.0 1078.2 L1018.0 1079.1 L1022.0 1079.9 L1026.0 1080.7 L1030.0 1081.5 L1034.0 1082.2 L1038.0 1082.9 L1042.0 1083.5 L1046.0 1084.1 L1050.0 1084.7 L1054.0 1085.3 L1058.0 1085.8 L1062.0 1086.4 L1066.0 1086.8 L1070.0 1087.3 L1074.0 1087.7 L1078.0 1088.1 L1082.0 1088.5 L1086.0 1088.9 L1090.0 1089.3 L1094.0 1089.6 L1098.0 1089.9 L1102.0 1090.2 L1106.0 1090.5 L1110.0 1090.7 L1114.0 1091.0 L1118.0 1091.2 L1122.0 1091.4 L1126.0 1091.6 L1130.0 1091.8 L1134.0 1092.0 L1138.0 1092.2 L1142.0 1092.4 L1146.0 1092.5 L1150.0 1092.7 L1154.0 1092.8 L1158.0 1092.9 L1162.0 1093.1 L1166.0 1093.2 L1170.0 1093.3 L1174.0 1093.4 L1178.0 1093.5 L1182.0 1093.6 L1186.0 1093.7 L1190.0 1093.8 L1194.0 1093.8 L1198.0 1093.9 L1202.0 1094.0 L1206.0 1094.1 L1210.0 1094.1 L1214.0 1094.2 L1218.0 1094.3 L1222.0 1094.3 L1226.0 1094.4 L1230.0 1094.4 L1234.0 1094.5 L1238.0 1094.5 L1242.0 1094.6 L1246.0 1094.6 L1250.0 1094.7 L1254.0 1094.7 L1258.0 1094.8 L1262.0 1094.8 L1266.0 1094.9 L1270.0 1094.9 L1274.0 1094.9 L1278.0 1095.0 L1279.0 1095.0" fill="none" stroke="#fa3535" stroke-width="3.50" stroke-linejoin="round" stroke-linecap="round"/>
<path d="M118.0 1092.2 L122.0 1092.2 L126.0 1092.2 L130.0 1092.2 L134.0 1092.2 L138.0 1092.2 L142.0 1092.2 L146.0 1092.2 L150.0 1092.1 L154.0 1092.1 L158.0 1092.1 L162.0 1092.1 L166.0 1092.1 L170.0 1092.1 L174.0 1092.1 L178.0 1092.1 L182.0 1092.1 L186.0 1092.1 L190.0 1092.0 L194.0 1092.0 L198.0 1092.0 L202.0 1092.0 L206.0 1092.0 L210.0 1092.0 L214.0 1091.9 L218.0 1091.9 L222.0 1091.9 L226.0 1091.9 L230.0 1091.9 L234.0 1091.8 L238.0 1091.8 L242.0 1091.8 L246.0 1091.7 L250.0 1091.7 L254.0 1091.7 L258.0 1091.6 L262.0 1091.6 L266.0 1091.5 L270.0 1091.5 L274.0 1091.4 L278.0 1091.3 L282.0 1091.3 L286.0 1091.2 L290.0 1091.1 L294.0 1091.0 L298.0 1090.9 L302.0 1090.8 L306.0 1090.7 L310.0 1090.5 L314.0 1090.4 L318.0 1090.2 L322.0 1090.0 L326.0 1089.9 L330.0 1089.7 L334.0 1089.4 L338.0 1089.2 L342.0 1088.9 L346.0 1088.7 L350.0 1088.4 L354.0 1088.0 L358.0 1087.7 L362.0 1087.3 L366.0 1086.9 L370.0 1086.5 L374.0 1086.0 L378.0 1085.5 L382.0 1084.9 L386.0 1084.4 L390.0 1083.8 L394.0 1083.1 L398.0 1082.4 L402.0 1081.7 L406.0 1080.9 L410.0 1080.0 L414.0 1079.2 L418.0 1078.2 L422.0 1077.3 L426.0 1076.2 L430.0 1075.1 L434.0 1074.0 L438.0 1072.8 L442.0 1071.6 L446.0 1070.3 L450.0 1068.9 L454.0 1067.5 L458.0 1066.1 L462.0 1064.6 L466.0 1063.0 L470.0 1061.4 L474.0 1059.8 L478.0 1058.1 L482.0 1056.3 L486.0 1054.6 L490.0 1052.8 L494.0 1050.9 L498.0 1049.0 L502.0 1047.1 L506.0 1045.2 L510.0 1043.3 L514.0 1041.3 L518.0 1039.4 L522.0 1037.4 L526.0 1035.4 L530.0 1033.5 L534.0 1031.6 L538.0 1029.7 L542.0 1027.8 L546.0 1026.0 L550.0 1024.2 L554.0 1022.4 L558.0 1020.7 L562.0 1019.1 L566.0 1017.6 L570.0 1016.1 L574.0 1014.7 L578.0 1013.5 L582.0 1012.3 L586.0 1011.2 L590.0 1010.3 L594.0 1009.4 L598.0 1008.7 L602.0 1008.1 L606.0 1007.7 L610.0 1007.4 L614.0 1007.2 L618.0 1007.1 L622.0 1007.2 L626.0 1007.5 L630.0 1007.8 L634.0 1008.3 L638.0 1009.0 L642.0 1009.7 L646.0 1010.6 L650.0 1011.6 L654.0 1012.8 L658.0 1014.0 L662.0 1015.3 L666.0 1016.7 L670.0 1018.2 L674.0 1019.8 L678.0 1021.4 L682.0 1023.2 L686.0 1024.9 L690.0 1026.8 L694.0 1028.6 L698.0 1030.5 L702.0 1032.4 L706.0 1034.4 L710.0 1036.4 L714.0 1038.3 L718.0 1040.3 L722.0 1042.3 L726.0 1044.2 L730.0 1046.2 L734.0 1048.1 L738.0 1050.0 L742.0 1051.9 L746.0 1053.8 L750.0 1055.6 L754.0 1057.4 L758.0 1059.1 L762.0 1060.8 L766.0 1062.5 L770.0 1064.1 L774.0 1065.6 L778.0 1067.1 L782.0 1068.6 L786.0 1070.0 L790.0 1071.4 L794.0 1072.6 L798.0 1073.9 L802.0 1075.1 L806.0 1076.2 L810.0 1077.3 L814.0 1078.3 L818.0 1079.3 L822.0 1080.2 L826.0 1081.1 L830.0 1082.0 L834.0 1082.7 L838.0 1083.5 L842.0 1084.2 L846.0 1084.8 L850.0 1085.5 L854.0 1086.1 L858.0 1086.6 L862.0 1087.1 L866.0 1087.6 L870.0 1088.0 L874.0 1088.4 L878.0 1088.8 L882.0 1089.2 L886.0 1089.5 L890.0 1089.8 L894.0 1090.1 L898.0 1090.4 L902.0 1090.6 L906.0 1090.9 L910.0 1091.1 L914.0 1091.3 L918.0 1091.5 L922.0 1091.6 L926.0 1091.8 L930.0 1092.0 L934.0 1092.1 L938.0 1092.2 L942.0 1092.3 L946.0 1092.4 L950.0 1092.5 L954.0 1092.6 L958.0 1092.7 L962.0 1092.8 L966.0 1092.9 L970.0 1093.0 L974.0 1093.0 L978.0 1093.1 L982.0 1093.1 L986.0 1093.2 L990.0 1093.3 L994.0 1093.3 L998.0 1093.3 L1002.0 1093.4 L1006.0 1093.4 L1010.0 1093.5 L1014.0 1093.5 L1018.0 1093.6 L1022.0 1093.6 L1026.0 1093.6 L1030.0 1093.7 L1034.0 1093.7 L1038.0 1093.7 L1042.0 1093.8 L1046.0 1093.8 L1050.0 1093.8 L1054.0 1093.8 L1058.0 1093.9 L1062.0 1093.9 L1066.0 1093.9 L1070.0 1093.9 L1074.0 1094.0 L1078.0 1094.0 L1082.0 1094.0 L1086.0 1094.0 L1090.0 1094.1 L1094.0 1094.1 L1098.0 1094.1 L1102.0 1094.1 L1106.0 1094.2 L1110.0 1094.2 L1114.0 1094.2 L1118.0 1094.2 L1122.0 1094.2 L1126.0 1094.3 L1130.0 1094.3 L1134.0 1094.3 L1138.0 1094.3 L1142.0 1094.3 L1146.0 1094.4 L1150.0 1094.4 L1154.0 1094.4 L1158.0 1094.4 L1162.0 1094.4 L1166.0 1094.4 L1170.0 1094.5 L1174.0 1094.5 L1178.0 1094.5 L1182.0 1094.5 L1186.0 1094.5 L1190.0 1094.6 L1194.0 1094.6 L1198.0 1094.6 L1202.0 1094.6 L1206.0 1094.6 L1210.0 1094.6 L1214.0 1094.6 L1218.0 1094.7 L1222.0 1094.7 L1226.0 1094.7 L1230.0 1094.7 L1234.0 1094.7 L1238.0 1094.7 L1242.0 1094.8 L1246.0 1094.8 L1250.0 1094.8 L1254.0 1094.8 L1258.0 1094.8 L1262.0 1094.8 L1266.0 1094.8 L1270.0 1094.9 L1274.0 1094.9 L1278.0 1094.9 L1279.0 1094.9" fill="none" stroke="#0a6ee0" stroke-width="3.50" stroke-linejoin="round" stroke-linecap="round"/>
<path d="M118.0 1092.0 L122.0 1092.0 L126.0 1092.0 L130.0 1092.0 L134.0 1092.0 L138.0 1092.0 L142.0 1092.0 L146.0 1092.0 L150.0 1092.0 L154.0 1092.0 L158.0 1092.0 L162.0 1092.0 L166.0 1092.0 L170.0 1092.0 L174.0 1092.0 L178.0 1092.0 L182.0 1092.0 L186.0 1092.0 L190.0 1092.0 L194.0 1092.0 L198.0 1092.0 L202.0 1091.9 L206.0 1091.9 L210.0 1091.9 L214.0 1091.9 L218.0 1091.9 L222.0 1091.8 L226.0 1091.8 L230.0 1091.8 L234.0 1091.7 L238.0 1091.7 L242.0 1091.6 L246.0 1091.6 L250.0 1091.5 L254.0 1091.5 L258.0 1091.4 L262.0 1091.4 L266.0 1091.3 L270.0 1091.2 L274.0 1091.1 L278.0 1091.1 L282.0 1091.0 L286.0 1090.9 L290.0 1090.8 L294.0 1090.7 L298.0 1090.6 L302.0 1090.5 L306.0 1090.3 L310.0 1090.2 L314.0 1090.1 L318.0 1089.9 L322.0 1089.8 L326.0 1089.6 L330.0 1089.5 L334.0 1089.3 L338.0 1089.2 L342.0 1089.0 L346.0 1088.8 L350.0 1088.6 L354.0 1088.4 L358.0 1088.2 L362.0 1088.0 L366.0 1087.8 L370.0 1087.6 L374.0 1087.4 L378.0 1087.1 L382.0 1086.9 L386.0 1086.7 L390.0 1086.5 L394.0 1086.2 L398.0 1086.0 L402.0 1085.7 L406.0 1085.5 L410.0 1085.2 L414.0 1085.0 L418.0 1084.7 L422.0 1084.5 L426.0 1084.2 L430.0 1084.0 L434.0 1083.8 L438.0 1083.5 L442.0 1083.3 L446.0 1083.0 L450.0 1082.8 L454.0 1082.6 L458.0 1082.4 L462.0 1082.2 L466.0 1081.9 L470.0 1081.7 L474.0 1081.6 L478.0 1081.4 L482.0 1081.2 L486.0 1081.0 L490.0 1080.9 L494.0 1080.7 L498.0 1080.6 L502.0 1080.5 L506.0 1080.4 L510.0 1080.3 L514.0 1080.2 L518.0 1080.1 L522.0 1080.1 L526.0 1080.1 L530.0 1080.0 L534.0 1080.0 L538.0 1080.0 L542.0 1080.0 L546.0 1080.0 L550.0 1080.1 L554.0 1080.1 L558.0 1080.2 L562.0 1080.3 L566.0 1080.4 L570.0 1080.5 L574.0 1080.6 L578.0 1080.8 L582.0 1080.9 L586.0 1081.1 L590.0 1081.2 L594.0 1081.4 L598.0 1081.6 L602.0 1081.8 L606.0 1082.0 L610.0 1082.2 L614.0 1082.4 L618.0 1082.6 L622.0 1082.9 L626.0 1083.1 L630.0 1083.4 L634.0 1083.6 L638.0 1083.9 L642.0 1084.1 L646.0 1084.4 L650.0 1084.6 L654.0 1084.9 L658.0 1085.2 L662.0 1085.4 L666.0 1085.7 L670.0 1086.0 L674.0 1086.2 L678.0 1086.5 L682.0 1086.8 L686.0 1087.0 L690.0 1087.3 L694.0 1087.5 L698.0 1087.8 L702.0 1088.0 L706.0 1088.2 L710.0 1088.5 L714.0 1088.7 L718.0 1088.9 L722.0 1089.1 L726.0 1089.4 L730.0 1089.6 L734.0 1089.8 L738.0 1090.0 L742.0 1090.1 L746.0 1090.3 L750.0 1090.5 L754.0 1090.7 L758.0 1090.8 L762.0 1091.0 L766.0 1091.1 L770.0 1091.3 L774.0 1091.4 L778.0 1091.6 L782.0 1091.7 L786.0 1091.8 L790.0 1091.9 L794.0 1092.0 L798.0 1092.1 L802.0 1092.2 L806.0 1092.3 L810.0 1092.4 L814.0 1092.5 L818.0 1092.6 L822.0 1092.7 L826.0 1092.7 L830.0 1092.8 L834.0 1092.9 L838.0 1092.9 L842.0 1093.0 L846.0 1093.0 L850.0 1093.1 L854.0 1093.1 L858.0 1093.2 L862.0 1093.2 L866.0 1093.3 L870.0 1093.3 L874.0 1093.4 L878.0 1093.4 L882.0 1093.4 L886.0 1093.5 L890.0 1093.5 L894.0 1093.5 L898.0 1093.5 L902.0 1093.6 L906.0 1093.6 L910.0 1093.6 L914.0 1093.6 L918.0 1093.6 L922.0 1093.7 L926.0 1093.7 L930.0 1093.7 L934.0 1093.7 L938.0 1093.7 L942.0 1093.7 L946.0 1093.8 L950.0 1093.8 L954.0 1093.8 L958.0 1093.8 L962.0 1093.8 L966.0 1093.8 L970.0 1093.8 L974.0 1093.8 L978.0 1093.9 L982.0 1093.9 L986.0 1093.9 L990.0 1093.9 L994.0 1093.9 L998.0 1093.9 L1002.0 1093.9 L1006.0 1093.9 L1010.0 1093.9 L1014.0 1093.9 L1018.0 1093.9 L1022.0 1094.0 L1026.0 1094.0 L1030.0 1094.0 L1034.0 1094.0 L1038.0 1094.0 L1042.0 1094.0 L1046.0 1094.0 L1050.0 1094.0 L1054.0 1094.0 L1058.0 1094.0 L1062.0 1094.0 L1066.0 1094.1 L1070.0 1094.1 L1074.0 1094.1 L1078.0 1094.1 L1082.0 1094.1 L1086.0 1094.1 L1090.0 1094.1 L1094.0 1094.1 L1098.0 1094.1 L1102.0 1094.1 L1106.0 1094.1 L1110.0 1094.1 L1114.0 1094.2 L1118.0 1094.2 L1122.0 1094.2 L1126.0 1094.2 L1130.0 1094.2 L1134.0 1094.2 L1138.0 1094.2 L1142.0 1094.2 L1146.0 1094.2 L1150.0 1094.2 L1154.0 1094.2 L1158.0 1094.3 L1162.0 1094.3 L1166.0 1094.3 L1170.0 1094.3 L1174.0 1094.3 L1178.0 1094.3 L1182.0 1094.3 L1186.0 1094.3 L1190.0 1094.3 L1194.0 1094.3 L1198.0 1094.3 L1202.0 1094.3 L1206.0 1094.4 L1210.0 1094.4 L1214.0 1094.4 L1218.0 1094.4 L1222.0 1094.4 L1226.0 1094.4 L1230.0 1094.4 L1234.0 1094.4 L1238.0 1094.4 L1242.0 1094.4 L1246.0 1094.4 L1250.0 1094.4 L1254.0 1094.5 L1258.0 1094.5 L1262.0 1094.5 L1266.0 1094.5 L1270.0 1094.5 L1274.0 1094.5 L1278.0 1094.5 L1279.0 1094.5" fill="none" stroke="#00aa5e" stroke-width="3.50" stroke-linejoin="round" stroke-linecap="round"/>
</g>
<g clip-path="url(#c5)">
<path d="M118.0 1332.3 L121.0 1332.3 L124.0 1332.2 L127.0 1332.2 L130.0 1332.2 L133.0 1332.2 L136.0 1332.1 L139.0 1332.1 L142.0 1332.1 L145.0 1332.0 L148.0 1332.0 L151.0 1332.0 L154.0 1331.9 L157.0 1331.9 L160.0 1331.9 L163.0 1331.9 L166.0 1331.8 L169.0 1331.8 L172.0 1331.8 L175.0 1331.7 L178.0 1331.7 L181.0 1331.7 L184.0 1331.7 L187.0 1331.6 L190.0 1331.6 L193.0 1331.6 L196.0 1331.5 L199.0 1331.5 L202.0 1331.5 L205.0 1331.4 L208.0 1331.4 L211.0 1331.4 L214.0 1331.4 L217.0 1331.3 L220.0 1331.3 L223.0 1331.3 L226.0 1331.2 L229.0 1331.2 L232.0 1331.2 L235.0 1331.1 L238.0 1331.1 L241.0 1331.1 L244.0 1331.0 L247.0 1331.0 L250.0 1331.0 L253.0 1330.9 L256.0 1330.8 L259.0 1330.7 L262.0 1330.6 L265.0 1330.6 L268.0 1330.5 L271.0 1330.4 L274.0 1330.3 L277.0 1330.2 L280.0 1330.1 L283.0 1330.0 L286.0 1329.9 L289.0 1329.8 L292.0 1329.8 L295.0 1329.7 L298.0 1329.6 L301.0 1329.5 L304.0 1329.4 L307.0 1329.3 L310.0 1329.2 L313.0 1329.1 L316.0 1329.0 L319.0 1329.0 L322.0 1328.9 L325.0 1328.8 L328.0 1328.7 L331.0 1328.6 L334.0 1328.5 L337.0 1328.4 L340.0 1328.3 L343.0 1328.2 L346.0 1328.1 L349.0 1328.1 L352.0 1328.0 L355.0 1327.9 L358.0 1327.7 L361.0 1327.6 L364.0 1327.5 L367.0 1327.3 L370.0 1327.1 L373.0 1327.0 L376.0 1326.8 L379.0 1326.6 L382.0 1326.3 L385.0 1326.0 L388.0 1325.7 L391.0 1325.4 L394.0 1325.1 L397.0 1324.8 L400.0 1324.5 L403.0 1324.1 L406.0 1323.8 L409.0 1323.5 L412.0 1323.2 L415.0 1322.8 L418.0 1322.5 L421.0 1322.1 L424.0 1321.7 L427.0 1321.2 L430.0 1320.7 L433.0 1320.1 L436.0 1319.6 L439.0 1319.0 L442.0 1318.4 L445.0 1317.8 L448.0 1317.2 L451.0 1316.5 L454.0 1315.9 L457.0 1315.2 L460.0 1314.5 L463.0 1313.8 L466.0 1313.1 L469.0 1312.4 L472.0 1311.7 L475.0 1311.1 L478.0 1310.4 L481.0 1309.7 L484.0 1309.0 L487.0 1308.4 L490.0 1307.7 L493.0 1307.1 L496.0 1306.4 L499.0 1305.8 L502.0 1305.1 L505.0 1304.4 L508.0 1303.7 L511.0 1303.0 L514.0 1302.2 L517.0 1301.4 L520.0 1300.5 L523.0 1299.6 L526.0 1298.7 L529.0 1297.8 L532.0 1296.9 L535.0 1296.0 L538.0 1295.1 L541.0 1294.2 L544.0 1293.3 L547.0 1292.4 L550.0 1291.5 L553.0 1290.6 L556.0 1289.7 L559.0 1288.8 L562.0 1287.9 L565.0 1287.0 L568.0 1286.1 L571.0 1285.2 L574.0 1284.3 L577.0 1283.4 L580.0 1282.5 L583.0 1281.7 L586.0 1280.8 L589.0 1280.0 L592.0 1279.2 L595.0 1278.3 L598.0 1277.5 L601.0 1276.7 L604.0 1275.9 L607.0 1275.1 L610.0 1274.4 L613.0 1273.7 L616.0 1273.1 L619.0 1272.5 L622.0 1272.0 L625.0 1271.5 L628.0 1271.0 L631.0 1270.5 L634.0 1269.9 L637.0 1269.4 L640.0 1268.9 L643.0 1268.4 L646.0 1267.8 L649.0 1267.2 L652.0 1266.7 L655.0 1266.1 L658.0 1265.7 L661.0 1265.3 L664.0 1265.0 L667.0 1264.8 L670.0 1264.6 L673.0 1264.5 L676.0 1264.4 L679.0 1264.3 L682.0 1264.2 L685.0 1264.1 L688.0 1264.0 L691.0 1264.0 L694.0 1264.0 L697.0 1264.1 L700.0 1264.1 L703.0 1264.2 L706.0 1264.2 L709.0 1264.3 L712.0 1264.4 L715.0 1264.4 L718.0 1264.5 L721.0 1264.6 L724.0 1264.6 L727.0 1264.7 L730.0 1264.7 L733.0 1264.8 L736.0 1264.8 L739.0 1264.8 L742.0 1264.7 L745.0 1264.7 L748.0 1264.6 L751.0 1264.5 L754.0 1264.4 L757.0 1264.4 L760.0 1264.3 L763.0 1264.2 L766.0 1264.2 L769.0 1264.2 L772.0 1264.3 L775.0 1264.4 L778.0 1264.7 L781.0 1265.1 L784.0 1265.4 L787.0 1265.8 L790.0 1266.3 L793.0 1266.7 L796.0 1267.1 L799.0 1267.5 L802.0 1267.9 L805.0 1268.3 L808.0 1268.7 L811.0 1269.2 L814.0 1269.6 L817.0 1270.0 L820.0 1270.4 L823.0 1270.8 L826.0 1271.2 L829.0 1271.7 L832.0 1272.1 L835.0 1272.6 L838.0 1273.1 L841.0 1273.7 L844.0 1274.3 L847.0 1274.9 L850.0 1275.6 L853.0 1276.2 L856.0 1276.9 L859.0 1277.6 L862.0 1278.2 L865.0 1278.9 L868.0 1279.5 L871.0 1280.2 L874.0 1280.9 L877.0 1281.5 L880.0 1282.2 L883.0 1282.9 L886.0 1283.6 L889.0 1284.3 L892.0 1285.1 L895.0 1285.9 L898.0 1286.7 L901.0 1287.5 L904.0 1288.3 L907.0 1289.1 L910.0 1289.9 L913.0 1290.7 L916.0 1291.5 L919.0 1292.3 L922.0 1293.1 L925.0 1293.9 L928.0 1294.7 L931.0 1295.5 L934.0 1296.3 L937.0 1297.2 L940.0 1298.0 L943.0 1298.8 L946.0 1299.6 L949.0 1300.4 L952.0 1301.3 L955.0 1302.1 L958.0 1302.9 L961.0 1303.7 L964.0 1304.5 L967.0 1305.4 L970.0 1306.2 L973.0 1307.0 L976.0 1307.8 L979.0 1308.6 L982.0 1309.4 L985.0 1310.2 L988.0 1311.0 L991.0 1311.8 L994.0 1312.6 L997.0 1313.4 L1000.0 1314.2 L1003.0 1315.0 L1006.0 1315.8 L1009.0 1316.6 L1012.0 1317.3 L1015.0 1318.0 L1018.0 1318.6 L1021.0 1319.1 L1024.0 1319.5 L1027.0 1319.9 L1030.0 1320.3 L1033.0 1320.7 L1036.0 1321.1 L1039.0 1321.5 L1042.0 1321.9 L1045.0 1322.3 L1048.0 1322.7 L1051.0 1323.1 L1054.0 1323.5 L1057.0 1323.9 L1060.0 1324.3 L1063.0 1324.7 L1066.0 1325.1 L1069.0 1325.5 L1072.0 1325.9 L1075.0 1326.3 L1078.0 1326.7 L1081.0 1327.1 L1084.0 1327.5 L1087.0 1327.8 L1090.0 1328.1 L1093.0 1328.5 L1096.0 1328.8 L1099.0 1329.1 L1102.0 1329.4 L1105.0 1329.7 L1108.0 1330.0 L1111.0 1330.4 L1114.0 1330.7 L1117.0 1331.0 L1120.0 1331.3 L1123.0 1331.6 L1126.0 1332.0 L1129.0 1332.3 L1132.0 1332.6 L1135.0 1332.9 L1138.0 1333.2 L1141.0 1333.5 L1144.0 1333.8 L1147.0 1334.1 L1150.0 1334.3 L1153.0 1334.5 L1156.0 1334.7 L1159.0 1334.8 L1162.0 1334.9 L1165.0 1335.0 L1168.0 1335.1 L1171.0 1335.2 L1174.0 1335.3 L1177.0 1335.4 L1180.0 1335.5 L1183.0 1335.6 L1186.0 1335.7 L1189.0 1335.8 L1192.0 1335.9 L1195.0 1336.0 L1198.0 1336.1 L1201.0 1336.2 L1204.0 1336.3 L1207.0 1336.4 L1210.0 1336.4 L1213.0 1336.5 L1216.0 1336.5 L1219.0 1336.6 L1222.0 1336.6 L1225.0 1336.6 L1228.0 1336.6 L1231.0 1336.7 L1234.0 1336.7 L1237.0 1336.7 L1240.0 1336.7 L1243.0 1336.7 L1246.0 1336.8 L1249.0 1336.8 L1252.0 1336.8 L1255.0 1336.8 L1258.0 1336.8 L1261.0 1336.9 L1264.0 1336.9 L1267.0 1336.9 L1270.0 1336.9 L1273.0 1337.0 L1276.0 1337.0 L1279.0 1337.0" fill="none" stroke="#474747" stroke-width="3.50" stroke-linejoin="round" stroke-linecap="round"/>
<path d="M118.0 1331.9 L122.0 1332.0 L126.0 1332.0 L130.0 1332.0 L134.0 1332.0 L138.0 1332.0 L142.0 1332.1 L146.0 1332.1 L150.0 1332.1 L154.0 1332.1 L158.0 1332.1 L162.0 1332.2 L166.0 1332.2 L170.0 1332.2 L174.0 1332.2 L178.0 1332.2 L182.0 1332.3 L186.0 1332.3 L190.0 1332.3 L194.0 1332.3 L198.0 1332.3 L202.0 1332.3 L206.0 1332.4 L210.0 1332.4 L214.0 1332.4 L218.0 1332.4 L222.0 1332.4 L226.0 1332.4 L230.0 1332.4 L234.0 1332.4 L238.0 1332.4 L242.0 1332.4 L246.0 1332.4 L250.0 1332.4 L254.0 1332.4 L258.0 1332.4 L262.0 1332.4 L266.0 1332.4 L270.0 1332.4 L274.0 1332.4 L278.0 1332.3 L282.0 1332.3 L286.0 1332.3 L290.0 1332.2 L294.0 1332.2 L298.0 1332.2 L302.0 1332.1 L306.0 1332.1 L310.0 1332.0 L314.0 1332.0 L318.0 1331.9 L322.0 1331.8 L326.0 1331.8 L330.0 1331.7 L334.0 1331.6 L338.0 1331.5 L342.0 1331.4 L346.0 1331.3 L350.0 1331.2 L354.0 1331.0 L358.0 1330.9 L362.0 1330.8 L366.0 1330.6 L370.0 1330.5 L374.0 1330.3 L378.0 1330.1 L382.0 1329.9 L386.0 1329.7 L390.0 1329.5 L394.0 1329.3 L398.0 1329.0 L402.0 1328.8 L406.0 1328.5 L410.0 1328.2 L414.0 1327.9 L418.0 1327.6 L422.0 1327.3 L426.0 1327.0 L430.0 1326.6 L434.0 1326.2 L438.0 1325.8 L442.0 1325.4 L446.0 1325.0 L450.0 1324.6 L454.0 1324.1 L458.0 1323.7 L462.0 1323.2 L466.0 1322.7 L470.0 1322.1 L474.0 1321.6 L478.0 1321.0 L482.0 1320.4 L486.0 1319.8 L490.0 1319.2 L494.0 1318.6 L498.0 1317.9 L502.0 1317.2 L506.0 1316.5 L510.0 1315.8 L514.0 1315.1 L518.0 1314.3 L522.0 1313.6 L526.0 1312.8 L530.0 1312.0 L534.0 1311.2 L538.0 1310.3 L542.0 1309.5 L546.0 1308.6 L550.0 1307.7 L554.0 1306.8 L558.0 1305.9 L562.0 1305.0 L566.0 1304.0 L570.0 1303.1 L574.0 1302.1 L578.0 1301.2 L582.0 1300.2 L586.0 1299.2 L590.0 1298.2 L594.0 1297.2 L598.0 1296.2 L602.0 1295.2 L606.0 1294.2 L610.0 1293.3 L614.0 1292.3 L618.0 1291.3 L622.0 1290.3 L626.0 1289.3 L630.0 1288.3 L634.0 1287.3 L638.0 1286.4 L642.0 1285.4 L646.0 1284.5 L650.0 1283.6 L654.0 1282.7 L658.0 1281.8 L662.0 1280.9 L666.0 1280.1 L670.0 1279.2 L674.0 1278.4 L678.0 1277.7 L682.0 1276.9 L686.0 1276.2 L690.0 1275.5 L694.0 1274.8 L698.0 1274.2 L702.0 1273.6 L706.0 1273.0 L710.0 1272.5 L714.0 1272.0 L718.0 1271.5 L722.0 1271.1 L726.0 1270.7 L730.0 1270.3 L734.0 1270.0 L738.0 1269.8 L742.0 1269.5 L746.0 1269.3 L750.0 1269.2 L754.0 1269.1 L758.0 1269.0 L762.0 1269.0 L766.0 1269.0 L770.0 1269.1 L774.0 1269.2 L778.0 1269.4 L782.0 1269.5 L786.0 1269.8 L790.0 1270.1 L794.0 1270.4 L798.0 1270.7 L802.0 1271.1 L806.0 1271.6 L810.0 1272.0 L814.0 1272.5 L818.0 1273.1 L822.0 1273.7 L826.0 1274.3 L830.0 1274.9 L834.0 1275.6 L838.0 1276.3 L842.0 1277.1 L846.0 1277.9 L850.0 1278.7 L854.0 1279.5 L858.0 1280.3 L862.0 1281.2 L866.0 1282.1 L870.0 1283.0 L874.0 1284.0 L878.0 1284.9 L882.0 1285.9 L886.0 1286.9 L890.0 1287.9 L894.0 1288.9 L898.0 1289.9 L902.0 1290.9 L906.0 1291.9 L910.0 1293.0 L914.0 1294.0 L918.0 1295.1 L922.0 1296.1 L926.0 1297.2 L930.0 1298.2 L934.0 1299.3 L938.0 1300.3 L942.0 1301.3 L946.0 1302.4 L950.0 1303.4 L954.0 1304.4 L958.0 1305.4 L962.0 1306.4 L966.0 1307.4 L970.0 1308.4 L974.0 1309.3 L978.0 1310.3 L982.0 1311.2 L986.0 1312.1 L990.0 1313.1 L994.0 1313.9 L998.0 1314.8 L1002.0 1315.7 L1006.0 1316.5 L1010.0 1317.3 L1014.0 1318.1 L1018.0 1318.9 L1022.0 1319.7 L1026.0 1320.4 L1030.0 1321.2 L1034.0 1321.9 L1038.0 1322.6 L1042.0 1323.2 L1046.0 1323.9 L1050.0 1324.5 L1054.0 1325.1 L1058.0 1325.7 L1062.0 1326.3 L1066.0 1326.9 L1070.0 1327.4 L1074.0 1327.9 L1078.0 1328.5 L1082.0 1328.9 L1086.0 1329.4 L1090.0 1329.9 L1094.0 1330.3 L1098.0 1330.7 L1102.0 1331.1 L1106.0 1331.5 L1110.0 1331.9 L1114.0 1332.3 L1118.0 1332.6 L1122.0 1332.9 L1126.0 1333.2 L1130.0 1333.6 L1134.0 1333.8 L1138.0 1334.1 L1142.0 1334.4 L1146.0 1334.6 L1150.0 1334.9 L1154.0 1335.1 L1158.0 1335.3 L1162.0 1335.6 L1166.0 1335.8 L1170.0 1336.0 L1174.0 1336.1 L1178.0 1336.3 L1182.0 1336.5 L1186.0 1336.6 L1190.0 1336.8 L1194.0 1336.9 L1198.0 1337.1 L1202.0 1337.2 L1206.0 1337.3 L1210.0 1337.5 L1214.0 1337.6 L1218.0 1337.7 L1222.0 1337.8 L1226.0 1337.9 L1230.0 1338.0 L1234.0 1338.1 L1238.0 1338.1 L1242.0 1338.2 L1246.0 1338.3 L1250.0 1338.4 L1254.0 1338.4 L1258.0 1338.5 L1262.0 1338.6 L1266.0 1338.6 L1270.0 1338.7 L1274.0 1338.8 L1278.0 1338.8 L1279.0 1338.8" fill="none" stroke="#fa3535" stroke-width="3.50" stroke-linejoin="round" stroke-linecap="round"/>
<path d="M118.0 1332.6 L122.0 1332.6 L126.0 1332.6 L130.0 1332.6 L134.0 1332.6 L138.0 1332.7 L142.0 1332.7 L146.0 1332.7 L150.0 1332.7 L154.0 1332.7 L158.0 1332.7 L162.0 1332.8 L166.0 1332.8 L170.0 1332.8 L174.0 1332.8 L178.0 1332.8 L182.0 1332.8 L186.0 1332.8 L190.0 1332.9 L194.0 1332.9 L198.0 1332.9 L202.0 1332.9 L206.0 1332.9 L210.0 1332.9 L214.0 1333.0 L218.0 1333.0 L222.0 1333.0 L226.0 1333.0 L230.0 1333.0 L234.0 1333.0 L238.0 1333.1 L242.0 1333.1 L246.0 1333.1 L250.0 1333.1 L254.0 1333.1 L258.0 1333.1 L262.0 1333.1 L266.0 1333.2 L270.0 1333.2 L274.0 1333.2 L278.0 1333.2 L282.0 1333.2 L286.0 1333.2 L290.0 1333.2 L294.0 1333.2 L298.0 1333.3 L302.0 1333.3 L306.0 1333.3 L310.0 1333.3 L314.0 1333.3 L318.0 1333.3 L322.0 1333.3 L326.0 1333.3 L330.0 1333.3 L334.0 1333.3 L338.0 1333.3 L342.0 1333.2 L346.0 1333.2 L350.0 1333.2 L354.0 1333.2 L358.0 1333.1 L362.0 1333.1 L366.0 1333.0 L370.0 1333.0 L374.0 1332.9 L378.0 1332.9 L382.0 1332.8 L386.0 1332.7 L390.0 1332.6 L394.0 1332.5 L398.0 1332.4 L402.0 1332.2 L406.0 1332.1 L410.0 1331.9 L414.0 1331.7 L418.0 1331.5 L422.0 1331.3 L426.0 1331.1 L430.0 1330.9 L434.0 1330.6 L438.0 1330.3 L442.0 1330.0 L446.0 1329.7 L450.0 1329.4 L454.0 1329.0 L458.0 1328.6 L462.0 1328.2 L466.0 1327.8 L470.0 1327.3 L474.0 1326.9 L478.0 1326.4 L482.0 1325.9 L486.0 1325.4 L490.0 1324.8 L494.0 1324.3 L498.0 1323.7 L502.0 1323.1 L506.0 1322.5 L510.0 1322.0 L514.0 1321.4 L518.0 1320.7 L522.0 1320.1 L526.0 1319.5 L530.0 1318.9 L534.0 1318.3 L538.0 1317.8 L542.0 1317.2 L546.0 1316.6 L550.0 1316.1 L554.0 1315.6 L558.0 1315.1 L562.0 1314.6 L566.0 1314.1 L570.0 1313.7 L574.0 1313.4 L578.0 1313.0 L582.0 1312.7 L586.0 1312.5 L590.0 1312.2 L594.0 1312.1 L598.0 1311.9 L602.0 1311.8 L606.0 1311.8 L610.0 1311.8 L614.0 1311.8 L618.0 1311.9 L622.0 1312.1 L626.0 1312.3 L630.0 1312.5 L634.0 1312.8 L638.0 1313.1 L642.0 1313.4 L646.0 1313.8 L650.0 1314.2 L654.0 1314.7 L658.0 1315.2 L662.0 1315.7 L666.0 1316.2 L670.0 1316.8 L674.0 1317.4 L678.0 1318.0 L682.0 1318.6 L686.0 1319.2 L690.0 1319.9 L694.0 1320.5 L698.0 1321.1 L702.0 1321.8 L706.0 1322.4 L710.0 1323.0 L714.0 1323.7 L718.0 1324.3 L722.0 1324.9 L726.0 1325.5 L730.0 1326.0 L734.0 1326.6 L738.0 1327.1 L742.0 1327.7 L746.0 1328.2 L750.0 1328.7 L754.0 1329.1 L758.0 1329.6 L762.0 1330.0 L766.0 1330.4 L770.0 1330.8 L774.0 1331.2 L778.0 1331.5 L782.0 1331.8 L786.0 1332.2 L790.0 1332.4 L794.0 1332.7 L798.0 1333.0 L802.0 1333.2 L806.0 1333.4 L810.0 1333.6 L814.0 1333.8 L818.0 1334.0 L822.0 1334.1 L826.0 1334.3 L830.0 1334.4 L834.0 1334.6 L838.0 1334.7 L842.0 1334.8 L846.0 1334.9 L850.0 1335.0 L854.0 1335.1 L858.0 1335.1 L862.0 1335.2 L866.0 1335.3 L870.0 1335.3 L874.0 1335.4 L878.0 1335.4 L882.0 1335.5 L886.0 1335.5 L890.0 1335.6 L894.0 1335.6 L898.0 1335.6 L902.0 1335.7 L906.0 1335.7 L910.0 1335.7 L914.0 1335.7 L918.0 1335.8 L922.0 1335.8 L926.0 1335.8 L930.0 1335.8 L934.0 1335.9 L938.0 1335.9 L942.0 1335.9 L946.0 1335.9 L950.0 1335.9 L954.0 1336.0 L958.0 1336.0 L962.0 1336.0 L966.0 1336.0 L970.0 1336.0 L974.0 1336.0 L978.0 1336.1 L982.0 1336.1 L986.0 1336.1 L990.0 1336.1 L994.0 1336.1 L998.0 1336.1 L1002.0 1336.2 L1006.0 1336.2 L1010.0 1336.2 L1014.0 1336.2 L1018.0 1336.2 L1022.0 1336.2 L1026.0 1336.3 L1030.0 1336.3 L1034.0 1336.3 L1038.0 1336.3 L1042.0 1336.3 L1046.0 1336.3 L1050.0 1336.4 L1054.0 1336.4 L1058.0 1336.4 L1062.0 1336.4 L1066.0 1336.4 L1070.0 1336.4 L1074.0 1336.5 L1078.0 1336.5 L1082.0 1336.5 L1086.0 1336.5 L1090.0 1336.5 L1094.0 1336.5 L1098.0 1336.6 L1102.0 1336.6 L1106.0 1336.6 L1110.0 1336.6 L1114.0 1336.6 L1118.0 1336.6 L1122.0 1336.6 L1126.0 1336.7 L1130.0 1336.7 L1134.0 1336.7 L1138.0 1336.7 L1142.0 1336.7 L1146.0 1336.7 L1150.0 1336.8 L1154.0 1336.8 L1158.0 1336.8 L1162.0 1336.8 L1166.0 1336.8 L1170.0 1336.8 L1174.0 1336.9 L1178.0 1336.9 L1182.0 1336.9 L1186.0 1336.9 L1190.0 1336.9 L1194.0 1336.9 L1198.0 1337.0 L1202.0 1337.0 L1206.0 1337.0 L1210.0 1337.0 L1214.0 1337.0 L1218.0 1337.0 L1222.0 1337.1 L1226.0 1337.1 L1230.0 1337.1 L1234.0 1337.1 L1238.0 1337.1 L1242.0 1337.1 L1246.0 1337.2 L1250.0 1337.2 L1254.0 1337.2 L1258.0 1337.2 L1262.0 1337.2 L1266.0 1337.2 L1270.0 1337.2 L1274.0 1337.3 L1278.0 1337.3 L1279.0 1337.3" fill="none" stroke="#0a6ee0" stroke-width="3.50" stroke-linejoin="round" stroke-linecap="round"/>
<path d="M118.0 1332.3 C148.3 1332.2 243.5 1332.0 300.0 1331.5 C356.5 1331.0 417.0 1329.6 457.0 1329.3 C497.0 1329.0 522.8 1329.7 540.0 1329.8 C557.2 1329.9 518.7 1329.0 560.0 1329.8 C601.3 1330.6 716.1 1333.6 787.8 1334.8 C859.5 1336.0 909.6 1336.8 990.0 1337.2 C1070.4 1337.6 1223.3 1337.3 1270.0 1337.3" fill="none" stroke="#00aa5e" stroke-width="3.50" stroke-linejoin="round" stroke-linecap="round"/>
</g>
<g clip-path="url(#c6)">
<path d="M118.0 1571.0 L121.0 1570.9 L124.0 1570.9 L127.0 1570.8 L130.0 1570.8 L133.0 1570.7 L136.0 1570.7 L139.0 1570.6 L142.0 1570.6 L145.0 1570.5 L148.0 1570.5 L151.0 1570.4 L154.0 1570.3 L157.0 1570.3 L160.0 1570.2 L163.0 1570.2 L166.0 1570.1 L169.0 1570.1 L172.0 1570.0 L175.0 1570.0 L178.0 1569.9 L181.0 1569.8 L184.0 1569.8 L187.0 1569.7 L190.0 1569.7 L193.0 1569.6 L196.0 1569.6 L199.0 1569.5 L202.0 1569.4 L205.0 1569.3 L208.0 1569.3 L211.0 1569.2 L214.0 1569.1 L217.0 1569.0 L220.0 1568.9 L223.0 1568.8 L226.0 1568.7 L229.0 1568.7 L232.0 1568.6 L235.0 1568.5 L238.0 1568.4 L241.0 1568.3 L244.0 1568.2 L247.0 1568.1 L250.0 1568.0 L253.0 1568.0 L256.0 1567.9 L259.0 1567.7 L262.0 1567.6 L265.0 1567.5 L268.0 1567.3 L271.0 1567.2 L274.0 1567.0 L277.0 1566.9 L280.0 1566.7 L283.0 1566.6 L286.0 1566.4 L289.0 1566.3 L292.0 1566.1 L295.0 1566.0 L298.0 1565.8 L301.0 1565.6 L304.0 1565.5 L307.0 1565.3 L310.0 1565.0 L313.0 1564.8 L316.0 1564.5 L319.0 1564.2 L322.0 1563.9 L325.0 1563.6 L328.0 1563.3 L331.0 1563.0 L334.0 1562.8 L337.0 1562.5 L340.0 1562.2 L343.0 1561.9 L346.0 1561.6 L349.0 1561.3 L352.0 1560.9 L355.0 1560.6 L358.0 1560.2 L361.0 1559.7 L364.0 1559.3 L367.0 1558.7 L370.0 1558.2 L373.0 1557.7 L376.0 1557.1 L379.0 1556.6 L382.0 1556.1 L385.0 1555.5 L388.0 1555.0 L391.0 1554.4 L394.0 1553.9 L397.0 1553.4 L400.0 1552.8 L403.0 1552.2 L406.0 1551.6 L409.0 1550.9 L412.0 1550.1 L415.0 1549.3 L418.0 1548.5 L421.0 1547.7 L424.0 1546.8 L427.0 1546.0 L430.0 1545.2 L433.0 1544.3 L436.0 1543.5 L439.0 1542.6 L442.0 1541.8 L445.0 1541.0 L448.0 1540.1 L451.0 1539.2 L454.0 1538.3 L457.0 1537.4 L460.0 1536.4 L463.0 1535.3 L466.0 1534.2 L469.0 1533.1 L472.0 1532.0 L475.0 1530.9 L478.0 1529.8 L481.0 1528.7 L484.0 1527.6 L487.0 1526.4 L490.0 1525.3 L493.0 1524.2 L496.0 1523.1 L499.0 1522.0 L502.0 1520.9 L505.0 1519.8 L508.0 1518.7 L511.0 1517.7 L514.0 1516.7 L517.0 1515.6 L520.0 1514.6 L523.0 1513.6 L526.0 1512.6 L529.0 1511.5 L532.0 1510.5 L535.0 1509.5 L538.0 1508.4 L541.0 1507.4 L544.0 1506.3 L547.0 1505.2 L550.0 1504.2 L553.0 1503.1 L556.0 1502.1 L559.0 1501.1 L562.0 1500.2 L565.0 1499.4 L568.0 1498.6 L571.0 1497.9 L574.0 1497.2 L577.0 1496.5 L580.0 1495.8 L583.0 1495.1 L586.0 1494.5 L589.0 1493.9 L592.0 1493.4 L595.0 1493.0 L598.0 1492.6 L601.0 1492.2 L604.0 1491.9 L607.0 1491.6 L610.0 1491.2 L613.0 1490.9 L616.0 1490.6 L619.0 1490.2 L622.0 1489.9 L625.0 1489.6 L628.0 1489.2 L631.0 1488.9 L634.0 1488.6 L637.0 1488.4 L640.0 1488.2 L643.0 1488.0 L646.0 1487.9 L649.0 1487.8 L652.0 1487.7 L655.0 1487.7 L658.0 1487.6 L661.0 1487.6 L664.0 1487.5 L667.0 1487.4 L670.0 1487.4 L673.0 1487.3 L676.0 1487.3 L679.0 1487.2 L682.0 1487.1 L685.0 1487.1 L688.0 1487.0 L691.0 1486.9 L694.0 1486.9 L697.0 1486.8 L700.0 1486.7 L703.0 1486.7 L706.0 1486.6 L709.0 1486.5 L712.0 1486.5 L715.0 1486.4 L718.0 1486.3 L721.0 1486.3 L724.0 1486.2 L727.0 1486.2 L730.0 1486.2 L733.0 1486.3 L736.0 1486.5 L739.0 1486.7 L742.0 1487.0 L745.0 1487.3 L748.0 1487.6 L751.0 1488.0 L754.0 1488.3 L757.0 1488.7 L760.0 1489.0 L763.0 1489.3 L766.0 1489.7 L769.0 1490.0 L772.0 1490.4 L775.0 1490.7 L778.0 1491.2 L781.0 1491.6 L784.0 1492.1 L787.0 1492.6 L790.0 1493.1 L793.0 1493.6 L796.0 1494.1 L799.0 1494.6 L802.0 1495.1 L805.0 1495.7 L808.0 1496.3 L811.0 1496.9 L814.0 1497.7 L817.0 1498.6 L820.0 1499.6 L823.0 1500.6 L826.0 1501.6 L829.0 1502.7 L832.0 1503.7 L835.0 1504.8 L838.0 1505.8 L841.0 1506.9 L844.0 1507.9 L847.0 1509.0 L850.0 1510.1 L853.0 1511.1 L856.0 1512.2 L859.0 1513.3 L862.0 1514.5 L865.0 1515.7 L868.0 1516.9 L871.0 1518.2 L874.0 1519.5 L877.0 1520.9 L880.0 1522.2 L883.0 1523.5 L886.0 1524.8 L889.0 1526.1 L892.0 1527.4 L895.0 1528.7 L898.0 1530.0 L901.0 1531.1 L904.0 1532.2 L907.0 1533.3 L910.0 1534.3 L913.0 1535.3 L916.0 1536.3 L919.0 1537.3 L922.0 1538.3 L925.0 1539.3 L928.0 1540.3 L931.0 1541.3 L934.0 1542.3 L937.0 1543.3 L940.0 1544.3 L943.0 1545.3 L946.0 1546.2 L949.0 1547.2 L952.0 1548.2 L955.0 1549.2 L958.0 1550.2 L961.0 1551.1 L964.0 1552.1 L967.0 1553.0 L970.0 1554.0 L973.0 1554.8 L976.0 1555.7 L979.0 1556.5 L982.0 1557.3 L985.0 1558.1 L988.0 1558.9 L991.0 1559.7 L994.0 1560.4 L997.0 1561.2 L1000.0 1562.0 L1003.0 1562.8 L1006.0 1563.6 L1009.0 1564.4 L1012.0 1565.1 L1015.0 1565.7 L1018.0 1566.3 L1021.0 1566.7 L1024.0 1567.2 L1027.0 1567.6 L1030.0 1568.0 L1033.0 1568.4 L1036.0 1568.8 L1039.0 1569.2 L1042.0 1569.6 L1045.0 1570.0 L1048.0 1570.4 L1051.0 1570.8 L1054.0 1571.2 L1057.0 1571.5 L1060.0 1571.8 L1063.0 1572.1 L1066.0 1572.3 L1069.0 1572.5 L1072.0 1572.6 L1075.0 1572.8 L1078.0 1572.9 L1081.0 1573.1 L1084.0 1573.3 L1087.0 1573.4 L1090.0 1573.6 L1093.0 1573.7 L1096.0 1573.9 L1099.0 1574.0 L1102.0 1574.2 L1105.0 1574.3 L1108.0 1574.4 L1111.0 1574.5 L1114.0 1574.6 L1117.0 1574.6 L1120.0 1574.7 L1123.0 1574.7 L1126.0 1574.8 L1129.0 1574.9 L1132.0 1574.9 L1135.0 1575.0 L1138.0 1575.0 L1141.0 1575.1 L1144.0 1575.2 L1147.0 1575.2 L1150.0 1575.3 L1153.0 1575.3 L1156.0 1575.3 L1159.0 1575.4 L1162.0 1575.4 L1165.0 1575.4 L1168.0 1575.5 L1171.0 1575.5 L1174.0 1575.5 L1177.0 1575.5 L1180.0 1575.6 L1183.0 1575.6 L1186.0 1575.6 L1189.0 1575.7 L1192.0 1575.7 L1195.0 1575.7 L1198.0 1575.7 L1201.0 1575.8 L1204.0 1575.8 L1207.0 1575.8 L1210.0 1575.9 L1213.0 1575.9 L1216.0 1575.9 L1219.0 1575.9 L1222.0 1576.0 L1225.0 1576.0 L1228.0 1576.0 L1231.0 1576.1 L1234.0 1576.1 L1237.0 1576.1 L1240.0 1576.1 L1243.0 1576.2 L1246.0 1576.2 L1249.0 1576.2 L1252.0 1576.2 L1255.0 1576.3 L1258.0 1576.3 L1261.0 1576.3 L1264.0 1576.4 L1267.0 1576.4 L1270.0 1576.4 L1273.0 1576.4 L1276.0 1576.5 L1279.0 1576.5" fill="none" stroke="#474747" stroke-width="3.50" stroke-linejoin="round" stroke-linecap="round"/>
<path d="M118.0 1571.0 L122.0 1571.0 L126.0 1571.0 L130.0 1571.0 L134.0 1571.0 L138.0 1571.1 L142.0 1571.1 L146.0 1571.1 L150.0 1571.1 L154.0 1571.2 L158.0 1571.2 L162.0 1571.2 L166.0 1571.2 L170.0 1571.2 L174.0 1571.3 L178.0 1571.3 L182.0 1571.3 L186.0 1571.3 L190.0 1571.4 L194.0 1571.4 L198.0 1571.4 L202.0 1571.4 L206.0 1571.4 L210.0 1571.5 L214.0 1571.5 L218.0 1571.5 L222.0 1571.5 L226.0 1571.6 L230.0 1571.6 L234.0 1571.6 L238.0 1571.6 L242.0 1571.6 L246.0 1571.7 L250.0 1571.7 L254.0 1571.7 L258.0 1571.7 L262.0 1571.8 L266.0 1571.8 L270.0 1571.8 L274.0 1571.8 L278.0 1571.8 L282.0 1571.9 L286.0 1571.9 L290.0 1571.9 L294.0 1571.9 L298.0 1571.9 L302.0 1571.9 L306.0 1572.0 L310.0 1572.0 L314.0 1572.0 L318.0 1572.0 L322.0 1572.0 L326.0 1572.0 L330.0 1572.0 L334.0 1572.0 L338.0 1572.0 L342.0 1572.0 L346.0 1572.0 L350.0 1572.0 L354.0 1572.0 L358.0 1572.0 L362.0 1572.0 L366.0 1572.0 L370.0 1572.0 L374.0 1572.0 L378.0 1571.9 L382.0 1571.9 L386.0 1571.9 L390.0 1571.8 L394.0 1571.8 L398.0 1571.7 L402.0 1571.7 L406.0 1571.6 L410.0 1571.6 L414.0 1571.5 L418.0 1571.4 L422.0 1571.3 L426.0 1571.2 L430.0 1571.1 L434.0 1570.9 L438.0 1570.8 L442.0 1570.6 L446.0 1570.5 L450.0 1570.3 L454.0 1570.1 L458.0 1569.9 L462.0 1569.7 L466.0 1569.4 L470.0 1569.2 L474.0 1568.9 L478.0 1568.6 L482.0 1568.3 L486.0 1567.9 L490.0 1567.5 L494.0 1567.2 L498.0 1566.7 L502.0 1566.3 L506.0 1565.8 L510.0 1565.3 L514.0 1564.8 L518.0 1564.3 L522.0 1563.7 L526.0 1563.1 L530.0 1562.5 L534.0 1561.8 L538.0 1561.1 L542.0 1560.4 L546.0 1559.6 L550.0 1558.8 L554.0 1558.0 L558.0 1557.1 L562.0 1556.2 L566.0 1555.3 L570.0 1554.3 L574.0 1553.3 L578.0 1552.3 L582.0 1551.2 L586.0 1550.2 L590.0 1549.0 L594.0 1547.9 L598.0 1546.7 L602.0 1545.5 L606.0 1544.3 L610.0 1543.0 L614.0 1541.8 L618.0 1540.5 L622.0 1539.2 L626.0 1537.8 L630.0 1536.5 L634.0 1535.1 L638.0 1533.8 L642.0 1532.4 L646.0 1531.0 L650.0 1529.6 L654.0 1528.3 L658.0 1526.9 L662.0 1525.5 L666.0 1524.2 L670.0 1522.8 L674.0 1521.5 L678.0 1520.2 L682.0 1518.9 L686.0 1517.7 L690.0 1516.4 L694.0 1515.2 L698.0 1514.1 L702.0 1513.0 L706.0 1511.9 L710.0 1510.9 L714.0 1509.9 L718.0 1509.0 L722.0 1508.1 L726.0 1507.3 L730.0 1506.5 L734.0 1505.8 L738.0 1505.2 L742.0 1504.6 L746.0 1504.1 L750.0 1503.7 L754.0 1503.3 L758.0 1503.0 L762.0 1502.8 L766.0 1502.6 L770.0 1502.6 L774.0 1502.6 L778.0 1502.6 L782.0 1502.8 L786.0 1503.0 L790.0 1503.3 L794.0 1503.7 L798.0 1504.1 L802.0 1504.6 L806.0 1505.2 L810.0 1505.8 L814.0 1506.5 L818.0 1507.3 L822.0 1508.1 L826.0 1509.0 L830.0 1509.9 L834.0 1510.9 L838.0 1512.0 L842.0 1513.1 L846.0 1514.2 L850.0 1515.4 L854.0 1516.6 L858.0 1517.8 L862.0 1519.1 L866.0 1520.4 L870.0 1521.8 L874.0 1523.1 L878.0 1524.5 L882.0 1525.9 L886.0 1527.3 L890.0 1528.7 L894.0 1530.1 L898.0 1531.6 L902.0 1533.0 L906.0 1534.4 L910.0 1535.8 L914.0 1537.2 L918.0 1538.6 L922.0 1540.0 L926.0 1541.4 L930.0 1542.7 L934.0 1544.0 L938.0 1545.4 L942.0 1546.6 L946.0 1547.9 L950.0 1549.1 L954.0 1550.4 L958.0 1551.5 L962.0 1552.7 L966.0 1553.8 L970.0 1554.9 L974.0 1556.0 L978.0 1557.0 L982.0 1558.0 L986.0 1558.9 L990.0 1559.9 L994.0 1560.8 L998.0 1561.6 L1002.0 1562.5 L1006.0 1563.3 L1010.0 1564.0 L1014.0 1564.8 L1018.0 1565.5 L1022.0 1566.1 L1026.0 1566.8 L1030.0 1567.4 L1034.0 1568.0 L1038.0 1568.5 L1042.0 1569.1 L1046.0 1569.6 L1050.0 1570.0 L1054.0 1570.5 L1058.0 1570.9 L1062.0 1571.3 L1066.0 1571.7 L1070.0 1572.1 L1074.0 1572.4 L1078.0 1572.7 L1082.0 1573.0 L1086.0 1573.3 L1090.0 1573.6 L1094.0 1573.8 L1098.0 1574.1 L1102.0 1574.3 L1106.0 1574.5 L1110.0 1574.7 L1114.0 1574.9 L1118.0 1575.0 L1122.0 1575.2 L1126.0 1575.3 L1130.0 1575.5 L1134.0 1575.6 L1138.0 1575.7 L1142.0 1575.8 L1146.0 1575.9 L1150.0 1576.0 L1154.0 1576.1 L1158.0 1576.2 L1162.0 1576.3 L1166.0 1576.4 L1170.0 1576.5 L1174.0 1576.5 L1178.0 1576.6 L1182.0 1576.7 L1186.0 1576.7 L1190.0 1576.8 L1194.0 1576.8 L1198.0 1576.9 L1202.0 1576.9 L1206.0 1577.0 L1210.0 1577.0 L1214.0 1577.0 L1218.0 1577.1 L1222.0 1577.1 L1226.0 1577.1 L1230.0 1577.2 L1234.0 1577.2 L1238.0 1577.2 L1242.0 1577.3 L1246.0 1577.3 L1250.0 1577.3 L1254.0 1577.4 L1258.0 1577.4 L1262.0 1577.4 L1266.0 1577.4 L1270.0 1577.5 L1274.0 1577.5 L1278.0 1577.5 L1279.0 1577.5" fill="none" stroke="#fa3535" stroke-width="3.50" stroke-linejoin="round" stroke-linecap="round"/>
<path d="M118.0 1571.0 L122.0 1571.0 L126.0 1571.0 L130.0 1571.0 L134.0 1571.0 L138.0 1571.0 L142.0 1571.1 L146.0 1571.1 L150.0 1571.1 L154.0 1571.1 L158.0 1571.1 L162.0 1571.1 L166.0 1571.2 L170.0 1571.2 L174.0 1571.2 L178.0 1571.2 L182.0 1571.2 L186.0 1571.2 L190.0 1571.2 L194.0 1571.3 L198.0 1571.3 L202.0 1571.3 L206.0 1571.3 L210.0 1571.3 L214.0 1571.3 L218.0 1571.3 L222.0 1571.3 L226.0 1571.3 L230.0 1571.3 L234.0 1571.4 L238.0 1571.4 L242.0 1571.4 L246.0 1571.4 L250.0 1571.4 L254.0 1571.3 L258.0 1571.3 L262.0 1571.3 L266.0 1571.3 L270.0 1571.3 L274.0 1571.3 L278.0 1571.3 L282.0 1571.2 L286.0 1571.2 L290.0 1571.1 L294.0 1571.1 L298.0 1571.1 L302.0 1571.0 L306.0 1570.9 L310.0 1570.9 L314.0 1570.8 L318.0 1570.7 L322.0 1570.6 L326.0 1570.5 L330.0 1570.3 L334.0 1570.2 L338.0 1570.1 L342.0 1569.9 L346.0 1569.7 L350.0 1569.5 L354.0 1569.3 L358.0 1569.1 L362.0 1568.8 L366.0 1568.6 L370.0 1568.3 L374.0 1568.0 L378.0 1567.6 L382.0 1567.3 L386.0 1566.9 L390.0 1566.5 L394.0 1566.1 L398.0 1565.6 L402.0 1565.1 L406.0 1564.6 L410.0 1564.0 L414.0 1563.4 L418.0 1562.8 L422.0 1562.2 L426.0 1561.5 L430.0 1560.8 L434.0 1560.0 L438.0 1559.2 L442.0 1558.4 L446.0 1557.6 L450.0 1556.7 L454.0 1555.8 L458.0 1554.8 L462.0 1553.9 L466.0 1552.8 L470.0 1551.8 L474.0 1550.7 L478.0 1549.6 L482.0 1548.5 L486.0 1547.4 L490.0 1546.2 L494.0 1545.0 L498.0 1543.8 L502.0 1542.6 L506.0 1541.4 L510.0 1540.2 L514.0 1539.0 L518.0 1537.7 L522.0 1536.5 L526.0 1535.3 L530.0 1534.1 L534.0 1532.9 L538.0 1531.7 L542.0 1530.5 L546.0 1529.4 L550.0 1528.3 L554.0 1527.2 L558.0 1526.2 L562.0 1525.2 L566.0 1524.3 L570.0 1523.4 L574.0 1522.6 L578.0 1521.8 L582.0 1521.1 L586.0 1520.4 L590.0 1519.9 L594.0 1519.4 L598.0 1518.9 L602.0 1518.6 L606.0 1518.3 L610.0 1518.1 L614.0 1517.9 L618.0 1517.9 L622.0 1517.9 L626.0 1518.0 L630.0 1518.2 L634.0 1518.5 L638.0 1518.9 L642.0 1519.3 L646.0 1519.8 L650.0 1520.4 L654.0 1521.0 L658.0 1521.7 L662.0 1522.5 L666.0 1523.3 L670.0 1524.2 L674.0 1525.2 L678.0 1526.2 L682.0 1527.2 L686.0 1528.3 L690.0 1529.4 L694.0 1530.6 L698.0 1531.7 L702.0 1532.9 L706.0 1534.2 L710.0 1535.4 L714.0 1536.7 L718.0 1537.9 L722.0 1539.2 L726.0 1540.5 L730.0 1541.8 L734.0 1543.0 L738.0 1544.3 L742.0 1545.5 L746.0 1546.8 L750.0 1548.0 L754.0 1549.2 L758.0 1550.4 L762.0 1551.5 L766.0 1552.6 L770.0 1553.7 L774.0 1554.8 L778.0 1555.9 L782.0 1556.9 L786.0 1557.9 L790.0 1558.8 L794.0 1559.7 L798.0 1560.6 L802.0 1561.5 L806.0 1562.3 L810.0 1563.0 L814.0 1563.8 L818.0 1564.5 L822.0 1565.2 L826.0 1565.8 L830.0 1566.5 L834.0 1567.0 L838.0 1567.6 L842.0 1568.1 L846.0 1568.6 L850.0 1569.1 L854.0 1569.5 L858.0 1570.0 L862.0 1570.3 L866.0 1570.7 L870.0 1571.1 L874.0 1571.4 L878.0 1571.7 L882.0 1572.0 L886.0 1572.2 L890.0 1572.5 L894.0 1572.7 L898.0 1572.9 L902.0 1573.1 L906.0 1573.3 L910.0 1573.5 L914.0 1573.7 L918.0 1573.8 L922.0 1573.9 L926.0 1574.1 L930.0 1574.2 L934.0 1574.3 L938.0 1574.4 L942.0 1574.5 L946.0 1574.6 L950.0 1574.7 L954.0 1574.8 L958.0 1574.8 L962.0 1574.9 L966.0 1575.0 L970.0 1575.0 L974.0 1575.1 L978.0 1575.2 L982.0 1575.2 L986.0 1575.3 L990.0 1575.3 L994.0 1575.4 L998.0 1575.4 L1002.0 1575.4 L1006.0 1575.5 L1010.0 1575.5 L1014.0 1575.6 L1018.0 1575.6 L1022.0 1575.6 L1026.0 1575.7 L1030.0 1575.7 L1034.0 1575.7 L1038.0 1575.8 L1042.0 1575.8 L1046.0 1575.8 L1050.0 1575.8 L1054.0 1575.9 L1058.0 1575.9 L1062.0 1575.9 L1066.0 1576.0 L1070.0 1576.0 L1074.0 1576.0 L1078.0 1576.0 L1082.0 1576.1 L1086.0 1576.1 L1090.0 1576.1 L1094.0 1576.1 L1098.0 1576.2 L1102.0 1576.2 L1106.0 1576.2 L1110.0 1576.2 L1114.0 1576.3 L1118.0 1576.3 L1122.0 1576.3 L1126.0 1576.3 L1130.0 1576.4 L1134.0 1576.4 L1138.0 1576.4 L1142.0 1576.4 L1146.0 1576.5 L1150.0 1576.5 L1154.0 1576.5 L1158.0 1576.5 L1162.0 1576.6 L1166.0 1576.6 L1170.0 1576.6 L1174.0 1576.6 L1178.0 1576.7 L1182.0 1576.7 L1186.0 1576.7 L1190.0 1576.7 L1194.0 1576.8 L1198.0 1576.8 L1202.0 1576.8 L1206.0 1576.8 L1210.0 1576.9 L1214.0 1576.9 L1218.0 1576.9 L1222.0 1576.9 L1226.0 1577.0 L1230.0 1577.0 L1234.0 1577.0 L1238.0 1577.0 L1242.0 1577.0 L1246.0 1577.1 L1250.0 1577.1 L1254.0 1577.1 L1258.0 1577.1 L1262.0 1577.2 L1266.0 1577.2 L1270.0 1577.2 L1274.0 1577.2 L1278.0 1577.3 L1279.0 1577.3" fill="none" stroke="#0a6ee0" stroke-width="3.50" stroke-linejoin="round" stroke-linecap="round"/>
<path d="M118.0 1570.6 C148.3 1570.6 229.7 1570.6 300.0 1570.4 C370.3 1570.2 458.7 1568.7 540.0 1569.3 C621.3 1569.9 712.8 1572.6 787.8 1573.8 C862.8 1575.0 909.6 1576.0 990.0 1576.5 C1070.4 1577.0 1223.3 1576.7 1270.0 1576.7" fill="none" stroke="#00aa5e" stroke-width="3.50" stroke-linejoin="round" stroke-linecap="round"/>
</g>
<g clip-path="url(#c7)">
<path d="M128.6 2541.6 L144.2 2537.2 L159.6 2542.7 L175.1 2549.3 L192.7 2546.0 L212.5 2542.7 L230.1 2540.0 L252.0 2523.5 L274.0 2504.5 L293.9 2482.2 L307.1 2470.0 L324.7 2454.6 L335.7 2440.3 L344.5 2426.0 L360.0 2410.6 L375.4 2402.9 L390.8 2389.6 L401.8 2374.2 L415.2 2349.0 L421.9 2337.2 L432.9 2304.2 L446.1 2277.8 L457.1 2255.7 L467.0 2232.6 L483.5 2216.1 L494.5 2191.9 L502.2 2172.0 L508.9 2150.0 L524.1 2102.0 L539.5 2066.7 L554.9 2033.7 L568.1 2008.4 L579.1 1983.0 L588.8 1958.6 L604.2 1938.8 L619.6 1900.2 L635.1 1881.5 L652.7 1870.5 L668.1 1858.4 L681.8 1845.2 L696.7 1852.9 L712.2 1868.3 L729.8 1888.1 L743.0 1898.0 L751.8 1918.9 L762.8 1943.2 L773.8 1965.2 L782.0 1979.8 L793.0 2004.1 L804.1 2032.7 L815.1 2063.5 L826.1 2094.4 L837.1 2125.2 L845.3 2150.0 L855.2 2176.4 L866.3 2207.3 L875.1 2233.7 L886.1 2264.5 L897.1 2299.8 L905.9 2326.2 L910.0 2340.0 L919.8 2368.6 L930.8 2401.7 L941.9 2432.5 L957.3 2461.1 L972.7 2481.0 L988.1 2503.0 L1004.6 2515.1 L1023.3 2519.5 L1043.2 2525.0 L1059.0 2529.0 L1077.7 2541.0 L1095.5 2555.0 L1110.7 2557.5 L1128.4 2560.0 L1141.1 2568.9 L1156.3 2560.0 L1174.0 2551.2 L1189.2 2552.5 L1204.4 2558.3 L1219.6 2560.0 L1234.8 2568.9 L1250.0 2576.5 L1265.2 2579.0 L1275.2 2574.0" fill="none" stroke="#474747" stroke-width="3.50" stroke-linejoin="round" stroke-linecap="round"/>
<path d="M127.3 2537.5 L132.5 2538.0 L137.6 2538.3 L142.8 2538.6 L147.9 2538.8 L152.9 2538.9 L158.0 2538.9 L163.0 2538.7 L168.0 2538.5 L173.0 2538.2 L178.0 2537.8 L182.9 2537.2 L187.8 2536.6 L192.6 2535.9 L197.5 2535.1 L202.3 2534.2 L207.1 2533.3 L211.8 2532.2 L216.5 2531.0 L221.2 2529.8 L225.8 2528.5 L230.5 2527.1 L235.1 2525.6 L239.6 2524.0 L244.1 2522.4 L248.6 2520.6 L253.1 2518.8 L257.5 2516.9 L261.9 2515.0 L266.2 2513.0 L270.5 2510.9 L274.8 2508.7 L279.1 2506.5 L283.3 2504.1 L287.4 2501.8 L291.6 2499.3 L295.7 2496.8 L299.7 2494.2 L303.8 2491.6 L307.8 2488.9 L311.7 2486.2 L315.6 2483.3 L319.5 2480.5 L323.3 2477.5 L327.1 2474.6 L330.8 2471.5 L334.6 2468.4 L338.2 2465.3 L341.8 2462.1 L345.4 2458.9 L349.0 2455.6 L352.5 2452.3 L355.9 2448.9 L359.3 2445.5 L362.7 2442.0 L366.0 2438.5 L369.3 2435.0 L372.6 2431.4 L375.8 2427.8 L378.9 2424.1 L382.0 2420.4 L385.1 2416.7 L388.1 2412.9 L391.0 2409.2 L394.0 2405.3 L396.9 2401.5 L399.7 2397.6 L402.5 2393.7 L405.2 2389.8 L408.0 2385.8 L410.6 2381.8 L413.3 2377.8 L415.9 2373.7 L418.4 2369.6 L421.0 2365.5 L423.5 2361.4 L425.9 2357.3 L428.3 2353.1 L430.7 2348.9 L433.1 2344.7 L435.4 2340.4 L437.7 2336.2 L440.0 2331.9 L442.2 2327.6 L444.4 2323.2 L446.6 2318.9 L448.8 2314.5 L450.9 2310.2 L453.0 2305.8 L455.1 2301.4 L457.1 2296.9 L459.2 2292.5 L461.2 2288.0 L463.1 2283.6 L465.1 2279.1 L467.1 2274.6 L469.0 2270.1 L470.9 2265.6 L472.8 2261.1 L474.7 2256.5 L476.5 2252.0 L478.4 2247.4 L480.2 2242.9 L482.0 2238.3 L483.8 2233.7 L485.6 2229.1 L487.4 2224.5 L489.2 2219.9 L490.9 2215.3 L492.7 2210.7 L494.4 2206.1 L496.1 2201.5 L497.9 2196.9 L499.6 2192.3 L501.3 2187.7 L503.0 2183.1 L504.7 2178.5 L506.4 2173.9 L508.1 2169.2 L509.8 2164.6 L511.5 2160.0 L513.2 2155.4 L514.9 2150.8 L516.7 2146.3 L518.4 2141.7 L520.1 2137.1 L521.8 2132.5 L523.5 2128.0 L525.2 2123.4 L527.0 2118.9 L528.7 2114.3 L530.4 2109.8 L532.2 2105.3 L534.0 2100.8 L535.7 2096.3 L537.5 2091.8 L539.3 2087.3 L541.1 2082.8 L542.9 2078.4 L544.7 2073.9 L546.5 2069.4 L548.3 2065.0 L550.2 2060.6 L552.0 2056.1 L553.8 2051.7 L555.7 2047.3 L557.5 2042.8 L559.4 2038.4 L561.3 2034.0 L563.1 2029.6 L565.0 2025.2 L566.9 2020.7 L568.8 2016.3 L570.7 2011.9 L572.6 2007.5 L574.5 2003.1 L576.4 1998.7 L578.3 1994.3 L580.2 1989.8 L582.1 1985.4 L584.1 1981.0 L586.0 1976.6 L587.9 1972.1 L589.8 1967.7 L591.8 1963.3 L593.7 1958.8 L595.7 1954.4 L597.7 1949.9 L599.7 1945.5 L601.7 1941.1 L603.8 1936.6 L605.9 1932.3 L608.2 1927.9 L610.4 1923.5 L612.8 1919.2 L615.3 1914.9 L617.8 1910.7 L620.5 1906.5 L623.2 1902.3 L626.1 1898.2 L629.1 1894.2 L632.3 1890.3 L635.7 1886.6 L639.2 1883.0 L642.9 1879.7 L646.8 1876.7 L650.9 1874.0 L655.2 1871.6 L659.7 1869.7 L664.2 1868.2 L668.7 1867.3 L673.3 1866.9 L677.8 1867.2 L682.2 1868.2 L686.5 1869.8 L690.7 1872.0 L694.8 1874.5 L698.8 1877.3 L702.6 1880.3 L706.2 1883.4 L709.8 1886.6 L713.2 1890.0 L716.5 1893.4 L719.6 1897.0 L722.7 1900.6 L725.6 1904.4 L728.5 1908.2 L731.3 1912.1 L733.9 1916.1 L736.6 1920.1 L739.1 1924.2 L741.5 1928.4 L743.9 1932.6 L746.3 1936.9 L748.6 1941.2 L750.8 1945.5 L753.0 1949.9 L755.2 1954.3 L757.3 1958.7 L759.4 1963.1 L761.5 1967.5 L763.6 1971.9 L765.6 1976.3 L767.6 1980.8 L769.6 1985.2 L771.6 1989.7 L773.6 1994.1 L775.5 1998.6 L777.4 2003.1 L779.3 2007.6 L781.2 2012.1 L783.1 2016.6 L784.9 2021.1 L786.7 2025.6 L788.6 2030.1 L790.4 2034.7 L792.2 2039.2 L793.9 2043.7 L795.7 2048.3 L797.4 2052.8 L799.2 2057.4 L800.9 2062.0 L802.6 2066.5 L804.3 2071.1 L806.0 2075.7 L807.7 2080.2 L809.4 2084.8 L811.0 2089.4 L812.7 2094.0 L814.3 2098.6 L816.0 2103.1 L817.6 2107.7 L819.3 2112.3 L820.9 2116.9 L822.5 2121.5 L824.1 2126.1 L825.8 2130.7 L827.4 2135.3 L829.0 2139.9 L830.6 2144.5 L832.2 2149.1 L833.8 2153.7 L835.4 2158.3 L837.1 2162.9 L838.7 2167.4 L840.3 2172.0 L841.9 2176.6 L843.5 2181.2 L845.2 2185.8 L846.8 2190.4 L848.4 2194.9 L850.1 2199.5 L851.7 2204.1 L853.4 2208.7 L855.0 2213.2 L856.7 2217.8 L858.4 2222.3 L860.0 2226.9 L861.7 2231.4 L863.4 2236.0 L865.2 2240.5 L866.9 2245.0 L868.6 2249.6 L870.4 2254.1 L872.1 2258.6 L873.9 2263.1 L875.7 2267.6 L877.5 2272.1 L879.3 2276.6 L881.2 2281.0 L883.0 2285.5 L884.9 2290.0 L886.8 2294.4 L888.7 2298.9 L890.6 2303.3 L892.5 2307.7 L894.5 2312.1 L896.5 2316.5 L898.5 2320.9 L900.5 2325.3 L902.5 2329.7 L904.6 2334.1 L906.7 2338.4 L908.8 2342.7 L910.9 2347.1 L913.1 2351.4 L915.3 2355.7 L917.5 2360.0 L919.7 2364.3 L922.0 2368.6 L924.3 2372.8 L926.6 2377.1 L929.0 2381.3 L931.4 2385.5 L933.8 2389.7 L936.2 2393.9 L938.7 2398.1 L941.2 2402.2 L943.7 2406.4 L946.3 2410.5 L948.9 2414.6 L951.5 2418.7 L954.2 2422.8 L956.9 2426.9 L959.7 2430.9 L962.4 2434.9 L965.2 2439.0 L968.1 2442.9 L971.0 2446.9 L973.9 2450.8 L976.9 2454.7 L979.9 2458.6 L983.0 2462.4 L986.0 2466.2 L989.2 2469.9 L992.4 2473.6 L995.6 2477.3 L998.9 2480.9 L1002.2 2484.4 L1005.5 2487.9 L1008.9 2491.4 L1012.4 2494.7 L1015.9 2498.1 L1019.5 2501.3 L1023.1 2504.5 L1026.7 2507.6 L1030.4 2510.7 L1034.2 2513.6 L1038.0 2516.5 L1041.9 2519.4 L1045.8 2522.1 L1049.8 2524.8 L1053.8 2527.3 L1057.9 2529.8 L1062.1 2532.2 L1066.3 2534.5 L1070.5 2536.7 L1074.8 2538.8 L1079.2 2540.9 L1083.6 2542.8 L1088.1 2544.7 L1092.6 2546.5 L1097.1 2548.2 L1101.7 2549.8 L1106.3 2551.4 L1111.0 2552.8 L1115.7 2554.2 L1120.4 2555.6 L1125.1 2556.8 L1129.9 2558.0 L1134.7 2559.1 L1139.5 2560.2 L1144.4 2561.2 L1149.2 2562.1 L1154.1 2563.0 L1159.0 2563.8 L1163.9 2564.6 L1168.8 2565.3 L1173.7 2566.0 L1178.6 2566.6 L1183.6 2567.1 L1188.5 2567.6 L1193.4 2568.1 L1198.3 2568.5 L1203.2 2568.9 L1208.1 2569.2 L1213.0 2569.5 L1217.8 2569.8 L1222.7 2570.0 L1227.5 2570.2 L1232.3 2570.4 L1237.1 2570.5 L1241.9 2570.6 L1246.6 2570.7 L1251.3 2570.8 L1256.0 2570.8 L1260.7 2570.8 L1265.3 2570.8 L1269.9 2570.8 L1274.4 2570.7" fill="none" stroke="#fa3535" stroke-width="3.50" stroke-linejoin="round" stroke-linecap="round"/>
<path d="M128.6 2544.9 L131.4 2544.7 L134.3 2544.5 L137.2 2544.3 L140.1 2544.2 L143.1 2544.1 L146.0 2544.0 L148.9 2543.9 L151.9 2543.9 L154.8 2543.8 L157.8 2543.8 L160.8 2543.8 L163.7 2543.8 L166.7 2543.8 L169.7 2543.8 L172.7 2543.9 L175.7 2543.9 L178.7 2543.9 L181.7 2544.0 L184.7 2544.0 L187.7 2544.1 L190.7 2544.1 L193.7 2544.2 L196.7 2544.2 L199.7 2544.2 L202.7 2544.2 L205.7 2544.2 L208.7 2544.2 L211.7 2544.2 L214.7 2544.2 L217.7 2544.1 L220.7 2544.0 L223.7 2544.0 L226.7 2543.8 L229.7 2543.7 L232.7 2543.5 L235.6 2543.4 L238.6 2543.1 L241.6 2542.9 L244.5 2542.6 L247.4 2542.3 L250.4 2542.0 L253.3 2541.6 L256.2 2541.2 L259.1 2540.7 L262.0 2540.3 L264.9 2539.7 L267.8 2539.1 L270.6 2538.5 L273.5 2537.9 L276.3 2537.1 L279.1 2536.4 L281.9 2535.6 L284.7 2534.7 L287.5 2533.8 L290.3 2532.9 L293.0 2531.9 L295.8 2530.9 L298.5 2529.8 L301.2 2528.7 L304.0 2527.6 L306.7 2526.4 L309.4 2525.3 L312.1 2524.0 L314.8 2522.8 L317.5 2521.5 L320.2 2520.2 L322.9 2518.9 L325.5 2517.6 L328.2 2516.2 L330.9 2514.9 L333.6 2513.5 L336.2 2512.1 L338.9 2510.7 L341.6 2509.2 L344.2 2507.8 L346.9 2506.4 L349.6 2504.9 L352.3 2503.4 L354.9 2502.0 L357.6 2500.5 L360.3 2499.1 L363.0 2497.6 L365.7 2496.2 L368.4 2494.7 L371.1 2493.3 L373.8 2491.9 L376.5 2490.5 L379.2 2489.1 L381.9 2487.7 L384.6 2486.4 L387.3 2485.2 L390.0 2483.9 L392.7 2482.7 L395.5 2481.6 L398.2 2480.5 L400.9 2479.5 L403.6 2478.5 L406.3 2477.6 L409.0 2476.8 L411.8 2476.1 L414.5 2475.4 L417.2 2474.8 L419.9 2474.3 L422.6 2473.9 L425.3 2473.6 L428.0 2473.4 L430.7 2473.3 L433.4 2473.3 L436.1 2473.4 L438.8 2473.6 L441.5 2474.0 L444.2 2474.4 L446.9 2474.9 L449.5 2475.5 L452.2 2476.2 L454.9 2477.0 L457.5 2477.9 L460.2 2478.8 L462.8 2479.8 L465.5 2480.9 L468.1 2482.1 L470.8 2483.3 L473.4 2484.6 L476.0 2485.9 L478.6 2487.3 L481.3 2488.7 L483.9 2490.1 L486.5 2491.6 L489.1 2493.2 L491.7 2494.7 L494.3 2496.3 L496.9 2497.9 L499.4 2499.5 L502.0 2501.2 L504.6 2502.8 L507.1 2504.5 L509.7 2506.1 L512.3 2507.8 L514.8 2509.5 L517.4 2511.1 L519.9 2512.8 L522.5 2514.4 L525.1 2516.1 L527.6 2517.7 L530.2 2519.3 L532.8 2520.9 L535.4 2522.5 L537.9 2524.0 L540.5 2525.5 L543.2 2527.0 L545.8 2528.5 L548.4 2529.9 L551.0 2531.3 L553.7 2532.6 L556.4 2533.9 L559.0 2535.1 L561.7 2536.3 L564.4 2537.5 L567.2 2538.6 L569.9 2539.6 L572.7 2540.6 L575.5 2541.5 L578.3 2542.4 L581.1 2543.2 L583.9 2544.0 L586.7 2544.8 L589.6 2545.5 L592.4 2546.2 L595.3 2546.8 L598.2 2547.4 L601.1 2548.0 L603.9 2548.6 L606.8 2549.1 L609.8 2549.6 L612.7 2550.1 L615.6 2550.5 L618.5 2551.0 L621.4 2551.4 L624.4 2551.8 L627.3 2552.2 L630.2 2552.6 L633.2 2553.0 L636.1 2553.4 L639.0 2553.8 L642.0 2554.2 L644.9 2554.6 L647.9 2554.9 L650.8 2555.3 L653.7 2555.7 L656.7 2556.0 L659.6 2556.4 L662.5 2556.7 L665.5 2557.0 L668.4 2557.4 L671.4 2557.7 L674.3 2558.0 L677.3 2558.4 L680.2 2558.7 L683.1 2559.0 L686.1 2559.3 L689.0 2559.6 L692.0 2559.9 L694.9 2560.2 L697.9 2560.5 L700.8 2560.8 L703.8 2561.0 L706.7 2561.3 L709.7 2561.6 L712.6 2561.9 L715.5 2562.1 L718.5 2562.4 L721.4 2562.6 L724.4 2562.9 L727.3 2563.1 L730.3 2563.4 L733.2 2563.6 L736.2 2563.9 L739.1 2564.1 L742.1 2564.3 L745.0 2564.5 L748.0 2564.8 L751.0 2565.0 L753.9 2565.2 L756.9 2565.4 L759.8 2565.6 L762.8 2565.8 L765.7 2566.0 L768.7 2566.2 L771.6 2566.4 L774.6 2566.6 L777.5 2566.7 L780.5 2566.9 L783.5 2567.1 L786.4 2567.3 L789.4 2567.4 L792.3 2567.6 L795.3 2567.8 L798.2 2567.9 L801.2 2568.1 L804.2 2568.2 L807.1 2568.4 L810.1 2568.5 L813.0 2568.7 L816.0 2568.8 L819.0 2568.9 L821.9 2569.1 L824.9 2569.2 L827.8 2569.3 L830.8 2569.4 L833.8 2569.6 L836.7 2569.7 L839.7 2569.8 L842.6 2569.9 L845.6 2570.0 L848.6 2570.1 L851.5 2570.2 L854.5 2570.3 L857.4 2570.4 L860.4 2570.5 L863.4 2570.6 L866.3 2570.7 L869.3 2570.8 L872.3 2570.9 L875.2 2571.0 L878.2 2571.0 L881.2 2571.1 L884.1 2571.2 L887.1 2571.3 L890.0 2571.3 L893.0 2571.4 L896.0 2571.5 L898.9 2571.5 L901.9 2571.6 L904.9 2571.6 L907.8 2571.7 L910.8 2571.7 L913.8 2571.8 L916.7 2571.8 L919.7 2571.9 L922.7 2571.9 L925.6 2572.0 L928.6 2572.0 L931.6 2572.1 L934.5 2572.1 L937.5 2572.1 L940.5 2572.2 L943.4 2572.2 L946.4 2572.2 L949.4 2572.3 L952.3 2572.3 L955.3 2572.3 L958.3 2572.3 L961.2 2572.4 L964.2 2572.4 L967.2 2572.4 L970.1 2572.4 L973.1 2572.4 L976.1 2572.4 L979.0 2572.5 L982.0 2572.5 L985.0 2572.5 L987.9 2572.5 L990.9 2572.5 L993.9 2572.5 L996.8 2572.5 L999.8 2572.5 L1002.8 2572.5 L1005.7 2572.5 L1008.7 2572.5 L1011.7 2572.5 L1014.6 2572.5 L1017.6 2572.5 L1020.6 2572.5 L1023.5 2572.5 L1026.5 2572.5 L1029.5 2572.5 L1032.4 2572.5 L1035.4 2572.5 L1038.4 2572.4 L1041.3 2572.4 L1044.3 2572.4 L1047.3 2572.4 L1050.2 2572.4 L1053.2 2572.4 L1056.2 2572.4 L1059.1 2572.4 L1062.1 2572.3 L1065.1 2572.3 L1068.0 2572.3 L1071.0 2572.3 L1074.0 2572.3 L1076.9 2572.3 L1079.9 2572.2 L1082.9 2572.2 L1085.8 2572.2 L1088.8 2572.2 L1091.8 2572.2 L1094.7 2572.1 L1097.7 2572.1 L1100.7 2572.1 L1103.6 2572.1 L1106.6 2572.1 L1109.6 2572.0 L1112.5 2572.0 L1115.5 2572.0 L1118.4 2572.0 L1121.4 2572.0 L1124.4 2571.9 L1127.3 2571.9 L1130.3 2571.9 L1133.3 2571.9 L1136.2 2571.9 L1139.2 2571.8 L1142.1 2571.8 L1145.1 2571.8 L1148.1 2571.8 L1151.0 2571.8 L1154.0 2571.7 L1157.0 2571.7 L1159.9 2571.7 L1162.9 2571.7 L1165.8 2571.7 L1168.8 2571.7 L1171.8 2571.7 L1174.7 2571.6 L1177.7 2571.6 L1180.6 2571.6 L1183.6 2571.6 L1186.5 2571.6 L1189.5 2571.6 L1192.5 2571.6 L1195.4 2571.6 L1198.4 2571.5 L1201.3 2571.5 L1204.3 2571.5 L1207.2 2571.5 L1210.2 2571.5 L1213.2 2571.5 L1216.1 2571.5 L1219.1 2571.5 L1222.0 2571.5 L1225.0 2571.5 L1227.9 2571.5 L1230.9 2571.5 L1233.8 2571.5 L1236.8 2571.5 L1239.7 2571.5 L1242.7 2571.6 L1245.7 2571.6 L1248.6 2571.6 L1251.6 2571.6 L1254.5 2571.6 L1257.5 2571.6 L1260.4 2571.6 L1263.4 2571.7 L1266.3 2571.7 L1269.3 2571.7 L1272.2 2571.7 L1275.1 2571.7" fill="none" stroke="#0a6ee0" stroke-width="3.50" stroke-linejoin="round" stroke-linecap="round"/>
</g>
<g clip-path="url(#c8)">
<path d="M109.0 3102.9 L112.0 3102.7 L115.0 3102.5 L118.0 3102.2 L121.0 3101.9 L124.0 3101.6 L127.0 3101.3 L130.0 3101.0 L133.0 3100.7 L136.0 3100.4 L139.0 3100.1 L142.0 3099.8 L145.0 3099.5 L148.0 3099.1 L151.0 3098.7 L154.0 3098.3 L157.0 3097.8 L160.0 3097.3 L163.0 3096.8 L166.0 3096.3 L169.0 3095.8 L172.0 3095.3 L175.0 3094.8 L178.0 3094.3 L181.0 3093.8 L184.0 3093.3 L187.0 3092.8 L190.0 3092.3 L193.0 3091.8 L196.0 3091.3 L199.0 3090.8 L202.0 3090.4 L205.0 3090.0 L208.0 3089.6 L211.0 3089.2 L214.0 3088.8 L217.0 3088.4 L220.0 3088.0 L223.0 3087.6 L226.0 3087.2 L229.0 3086.8 L232.0 3086.5 L235.0 3086.1 L238.0 3085.7 L241.0 3085.3 L244.0 3084.9 L247.0 3084.5 L250.0 3084.1 L253.0 3083.7 L256.0 3083.3 L259.0 3082.8 L262.0 3082.4 L265.0 3082.0 L268.0 3081.6 L271.0 3081.1 L274.0 3080.7 L277.0 3080.3 L280.0 3079.9 L283.0 3079.4 L286.0 3079.0 L289.0 3078.6 L292.0 3078.2 L295.0 3077.8 L298.0 3077.4 L301.0 3077.1 L304.0 3076.7 L307.0 3076.4 L310.0 3076.1 L313.0 3075.8 L316.0 3075.5 L319.0 3075.2 L322.0 3074.9 L325.0 3074.7 L328.0 3074.4 L331.0 3074.1 L334.0 3073.8 L337.0 3073.5 L340.0 3073.2 L343.0 3072.9 L346.0 3072.6 L349.0 3072.4 L352.0 3072.2 L355.0 3071.9 L358.0 3071.7 L361.0 3071.5 L364.0 3071.3 L367.0 3071.1 L370.0 3070.9 L373.0 3070.7 L376.0 3070.5 L379.0 3070.2 L382.0 3069.8 L385.0 3069.4 L388.0 3068.9 L391.0 3068.5 L394.0 3068.0 L397.0 3067.5 L400.0 3067.0 L403.0 3066.5 L406.0 3066.0 L409.0 3065.5 L412.0 3065.0 L415.0 3064.5 L418.0 3064.0 L421.0 3063.5 L424.0 3063.0 L427.0 3062.5 L430.0 3062.0 L433.0 3061.4 L436.0 3060.7 L439.0 3060.0 L442.0 3059.2 L445.0 3058.3 L448.0 3057.3 L451.0 3056.4 L454.0 3055.4 L457.0 3054.4 L460.0 3053.4 L463.0 3052.3 L466.0 3051.0 L469.0 3049.6 L472.0 3048.1 L475.0 3046.6 L478.0 3044.9 L481.0 3043.3 L484.0 3041.7 L487.0 3040.0 L490.0 3038.3 L493.0 3036.6 L496.0 3034.9 L499.0 3033.2 L502.0 3031.4 L505.0 3029.6 L508.0 3027.8 L511.0 3026.0 L514.0 3024.2 L517.0 3022.3 L520.0 3020.4 L523.0 3018.3 L526.0 3016.2 L529.0 3013.9 L532.0 3011.5 L535.0 3009.2 L538.0 3006.9 L541.0 3004.9 L544.0 3003.0 L547.0 3001.5 L550.0 3000.2 L553.0 2999.0 L556.0 2998.1 L559.0 2997.2 L562.0 2996.5 L565.0 2995.9 L568.0 2995.3 L571.0 2994.7 L574.0 2994.3 L577.0 2993.9 L580.0 2993.8 L583.0 2993.8 L586.0 2994.0 L589.0 2994.4 L592.0 2994.9 L595.0 2995.5 L598.0 2996.1 L601.0 2996.7 L604.0 2997.4 L607.0 2998.1 L610.0 2998.7 L613.0 2999.2 L616.0 2999.5 L619.0 2999.7 L622.0 2999.8 L625.0 2999.7 L628.0 2999.7 L631.0 2999.6 L634.0 2999.4 L637.0 2999.2 L640.0 2998.9 L643.0 2998.4 L646.0 2997.8 L649.0 2997.1 L652.0 2996.2 L655.0 2995.1 L658.0 2993.8 L661.0 2992.3 L664.0 2990.7 L667.0 2988.8 L670.0 2986.7 L673.0 2984.5 L676.0 2982.1 L679.0 2979.6 L682.0 2977.1 L685.0 2974.4 L688.0 2971.7 L691.0 2968.8 L694.0 2965.8 L697.0 2962.7 L700.0 2959.5 L703.0 2956.3 L706.0 2953.0 L709.0 2949.7 L712.0 2946.4 L715.0 2943.2 L718.0 2940.1 L721.0 2937.1 L724.0 2934.3 L727.0 2931.7 L730.0 2929.2 L733.0 2927.0 L736.0 2925.1 L739.0 2923.5 L742.0 2922.1 L745.0 2921.0 L748.0 2920.2 L751.0 2919.6 L754.0 2919.2 L757.0 2919.0 L760.0 2919.0 L763.0 2919.1 L766.0 2919.4 L769.0 2920.0 L772.0 2920.7 L775.0 2921.7 L778.0 2923.1 L781.0 2924.7 L784.0 2926.6 L787.0 2928.9 L790.0 2931.5 L793.0 2934.3 L796.0 2937.4 L799.0 2940.6 L802.0 2944.0 L805.0 2947.6 L808.0 2951.3 L811.0 2955.2 L814.0 2959.2 L817.0 2963.5 L820.0 2967.9 L823.0 2972.3 L826.0 2976.8 L829.0 2981.3 L832.0 2985.8 L835.0 2990.3 L838.0 2994.8 L841.0 2999.2 L844.0 3003.7 L847.0 3008.2 L850.0 3012.6 L853.0 3017.0 L856.0 3021.3 L859.0 3025.6 L862.0 3029.7 L865.0 3033.7 L868.0 3037.7 L871.0 3041.6 L874.0 3045.3 L877.0 3049.1 L880.0 3052.7 L883.0 3056.1 L886.0 3059.3 L889.0 3062.2 L892.0 3064.8 L895.0 3067.2 L898.0 3069.3 L901.0 3071.4 L904.0 3073.4 L907.0 3075.4 L910.0 3077.3 L913.0 3079.2 L916.0 3080.9 L919.0 3082.5 L922.0 3083.9 L925.0 3085.2 L928.0 3086.4 L931.0 3087.5 L934.0 3088.7 L937.0 3089.8 L940.0 3090.9 L943.0 3091.9 L946.0 3092.8 L949.0 3093.6 L952.0 3094.3 L955.0 3095.0 L958.0 3095.6 L961.0 3096.2 L964.0 3096.8 L967.0 3097.4 L970.0 3097.9 L973.0 3098.4 L976.0 3098.9 L979.0 3099.3 L982.0 3099.6 L985.0 3100.0 L988.0 3100.3 L991.0 3100.6 L994.0 3100.9 L997.0 3101.2 L1000.0 3101.4 L1003.0 3101.7 L1006.0 3101.9 L1009.0 3102.1 L1012.0 3102.3 L1015.0 3102.5 L1018.0 3102.7 L1021.0 3102.9 L1024.0 3103.0 L1027.0 3103.2 L1030.0 3103.4 L1033.0 3103.5 L1036.0 3103.6 L1039.0 3103.8 L1042.0 3103.9 L1045.0 3104.0 L1048.0 3104.1 L1051.0 3104.2 L1054.0 3104.3 L1057.0 3104.4 L1060.0 3104.5 L1063.0 3104.6 L1066.0 3104.7 L1069.0 3104.8 L1072.0 3104.8 L1075.0 3104.9 L1078.0 3105.0 L1081.0 3105.0 L1084.0 3105.1 L1087.0 3105.1 L1090.0 3105.2 L1093.0 3105.2 L1096.0 3105.3 L1099.0 3105.3 L1102.0 3105.3 L1105.0 3105.4 L1108.0 3105.4 L1111.0 3105.4 L1114.0 3105.4 L1117.0 3105.5 L1120.0 3105.5 L1123.0 3105.5 L1126.0 3105.6 L1129.0 3105.6 L1132.0 3105.7 L1135.0 3105.7 L1138.0 3105.7 L1141.0 3105.8 L1144.0 3105.8 L1147.0 3105.8 L1150.0 3105.9 L1153.0 3105.9 L1156.0 3105.9 L1159.0 3106.0 L1162.0 3106.0 L1165.0 3106.1 L1168.0 3106.1 L1171.0 3106.1 L1174.0 3106.2 L1177.0 3106.2 L1180.0 3106.2 L1183.0 3106.3 L1186.0 3106.3 L1189.0 3106.4 L1192.0 3106.4 L1195.0 3106.4 L1198.0 3106.5 L1201.0 3106.5 L1204.0 3106.5 L1207.0 3106.6 L1210.0 3106.6 L1213.0 3106.6 L1216.0 3106.7 L1219.0 3106.7 L1222.0 3106.7 L1225.0 3106.7 L1228.0 3106.8 L1231.0 3106.8 L1234.0 3106.8 L1237.0 3106.9 L1240.0 3106.9 L1243.0 3106.9 L1246.0 3106.9 L1249.0 3107.0 L1252.0 3107.0 L1255.0 3107.0 L1258.0 3107.1 L1261.0 3107.1 L1264.0 3107.1 L1267.0 3107.1 L1270.0 3107.2 L1273.0 3107.2 L1276.0 3107.2 L1279.0 3107.3 L1282.0 3107.3 L1282.8 3107.3" fill="none" stroke="#474747" stroke-width="3.50" stroke-linejoin="round" stroke-linecap="round"/>
<path d="M109.0 3102.7 L113.0 3102.7 L117.0 3102.7 L121.0 3102.7 L125.0 3102.7 L129.0 3102.7 L133.0 3102.8 L137.0 3102.8 L141.0 3102.8 L145.0 3102.8 L149.0 3102.8 L153.0 3102.8 L157.0 3102.8 L161.0 3102.9 L165.0 3102.9 L169.0 3102.9 L173.0 3102.9 L177.0 3102.9 L181.0 3102.9 L185.0 3103.0 L189.0 3103.0 L193.0 3103.0 L197.0 3103.0 L201.0 3103.0 L205.0 3103.0 L209.0 3103.0 L213.0 3103.1 L217.0 3103.1 L221.0 3103.1 L225.0 3103.1 L229.0 3103.1 L233.0 3103.1 L237.0 3103.1 L241.0 3103.2 L245.0 3103.2 L249.0 3103.2 L253.0 3103.2 L257.0 3103.2 L261.0 3103.2 L265.0 3103.2 L269.0 3103.2 L273.0 3103.3 L277.0 3103.3 L281.0 3103.3 L285.0 3103.3 L289.0 3103.3 L293.0 3103.3 L297.0 3103.3 L301.0 3103.4 L305.0 3103.4 L309.0 3103.4 L313.0 3103.4 L317.0 3103.4 L321.0 3103.4 L325.0 3103.4 L329.0 3103.4 L333.0 3103.4 L337.0 3103.5 L341.0 3103.5 L345.0 3103.5 L349.0 3103.5 L353.0 3103.5 L357.0 3103.5 L361.0 3103.5 L365.0 3103.5 L369.0 3103.5 L373.0 3103.5 L377.0 3103.5 L381.0 3103.6 L385.0 3103.6 L389.0 3103.6 L393.0 3103.6 L397.0 3103.6 L401.0 3103.6 L405.0 3103.6 L409.0 3103.6 L413.0 3103.6 L417.0 3103.6 L421.0 3103.6 L425.0 3103.6 L429.0 3103.6 L433.0 3103.6 L437.0 3103.6 L441.0 3103.6 L445.0 3103.6 L449.0 3103.5 L453.0 3103.5 L457.0 3103.5 L461.0 3103.5 L465.0 3103.4 L469.0 3103.4 L473.0 3103.4 L477.0 3103.3 L481.0 3103.2 L485.0 3103.2 L489.0 3103.1 L493.0 3103.0 L497.0 3102.8 L501.0 3102.7 L505.0 3102.5 L509.0 3102.3 L513.0 3102.1 L517.0 3101.8 L521.0 3101.6 L525.0 3101.2 L529.0 3100.8 L533.0 3100.4 L537.0 3099.9 L541.0 3099.4 L545.0 3098.8 L549.0 3098.1 L553.0 3097.3 L557.0 3096.4 L561.0 3095.4 L565.0 3094.4 L569.0 3093.2 L573.0 3091.9 L577.0 3090.4 L581.0 3088.8 L585.0 3087.1 L589.0 3085.2 L593.0 3083.2 L597.0 3080.9 L601.0 3078.5 L605.0 3075.9 L609.0 3073.2 L613.0 3070.2 L617.0 3067.0 L621.0 3063.6 L625.0 3060.0 L629.0 3056.2 L633.0 3052.2 L637.0 3048.0 L641.0 3043.6 L645.0 3039.0 L649.0 3034.2 L653.0 3029.3 L657.0 3024.2 L661.0 3019.0 L665.0 3013.7 L669.0 3008.2 L673.0 3002.7 L677.0 2997.1 L681.0 2991.6 L685.0 2986.0 L689.0 2980.4 L693.0 2974.9 L697.0 2969.5 L701.0 2964.2 L705.0 2959.0 L709.0 2954.1 L713.0 2949.4 L717.0 2944.9 L721.0 2940.7 L725.0 2936.8 L729.0 2933.3 L733.0 2930.2 L737.0 2927.4 L741.0 2925.1 L745.0 2923.2 L749.0 2921.7 L753.0 2920.8 L757.0 2920.3 L761.0 2920.2 L765.0 2920.7 L769.0 2921.6 L773.0 2923.0 L777.0 2924.9 L781.0 2927.2 L785.0 2929.9 L789.0 2933.1 L793.0 2936.6 L797.0 2940.4 L801.0 2944.6 L805.0 2949.1 L809.0 2953.8 L813.0 2958.7 L817.0 2963.9 L821.0 2969.2 L825.0 2974.6 L829.0 2980.1 L833.0 2985.7 L837.0 2991.4 L841.0 2997.0 L845.0 3002.6 L849.0 3008.2 L853.0 3013.6 L857.0 3019.0 L861.0 3024.3 L865.0 3029.4 L869.0 3034.4 L873.0 3039.3 L877.0 3043.9 L881.0 3048.4 L885.0 3052.7 L889.0 3056.7 L893.0 3060.6 L897.0 3064.3 L901.0 3067.7 L905.0 3071.0 L909.0 3074.0 L913.0 3076.9 L917.0 3079.6 L921.0 3082.0 L925.0 3084.3 L929.0 3086.4 L933.0 3088.4 L937.0 3090.2 L941.0 3091.8 L945.0 3093.3 L949.0 3094.7 L953.0 3095.9 L957.0 3097.1 L961.0 3098.1 L965.0 3099.0 L969.0 3099.8 L973.0 3100.6 L977.0 3101.2 L981.0 3101.8 L985.0 3102.4 L989.0 3102.9 L993.0 3103.3 L997.0 3103.7 L1001.0 3104.0 L1005.0 3104.3 L1009.0 3104.6 L1013.0 3104.8 L1017.0 3105.0 L1021.0 3105.2 L1025.0 3105.3 L1029.0 3105.5 L1033.0 3105.6 L1037.0 3105.7 L1041.0 3105.8 L1045.0 3105.9 L1049.0 3106.0 L1053.0 3106.1 L1057.0 3106.2 L1061.0 3106.2 L1065.0 3106.3 L1069.0 3106.4 L1073.0 3106.4 L1077.0 3106.4 L1081.0 3106.5 L1085.0 3106.5 L1089.0 3106.6 L1093.0 3106.6 L1097.0 3106.7 L1101.0 3106.7 L1105.0 3106.7 L1109.0 3106.8 L1113.0 3106.8 L1117.0 3106.8 L1121.0 3106.9 L1125.0 3106.9 L1129.0 3106.9 L1133.0 3106.9 L1137.0 3107.0 L1141.0 3107.0 L1145.0 3107.0 L1149.0 3107.1 L1153.0 3107.1 L1157.0 3107.1 L1161.0 3107.1 L1165.0 3107.2 L1169.0 3107.2 L1173.0 3107.2 L1177.0 3107.2 L1181.0 3107.3 L1185.0 3107.3 L1189.0 3107.3 L1193.0 3107.3 L1197.0 3107.4 L1201.0 3107.4 L1205.0 3107.4 L1209.0 3107.4 L1213.0 3107.5 L1217.0 3107.5 L1221.0 3107.5 L1225.0 3107.5 L1229.0 3107.6 L1233.0 3107.6 L1237.0 3107.6 L1241.0 3107.6 L1245.0 3107.7 L1249.0 3107.7 L1253.0 3107.7 L1257.0 3107.7 L1261.0 3107.8 L1265.0 3107.8 L1269.0 3107.8 L1273.0 3107.8 L1277.0 3107.8 L1281.0 3107.9 L1282.8 3107.9" fill="none" stroke="#fa3535" stroke-width="3.50" stroke-linejoin="round" stroke-linecap="round"/>
<path d="M109.0 3103.5 L113.0 3103.5 L117.0 3103.5 L121.0 3103.5 L125.0 3103.5 L129.0 3103.5 L133.0 3103.6 L137.0 3103.6 L141.0 3103.6 L145.0 3103.6 L149.0 3103.6 L153.0 3103.6 L157.0 3103.6 L161.0 3103.6 L165.0 3103.6 L169.0 3103.6 L173.0 3103.6 L177.0 3103.6 L181.0 3103.7 L185.0 3103.7 L189.0 3103.7 L193.0 3103.7 L197.0 3103.7 L201.0 3103.7 L205.0 3103.7 L209.0 3103.7 L213.0 3103.7 L217.0 3103.7 L221.0 3103.7 L225.0 3103.7 L229.0 3103.7 L233.0 3103.7 L237.0 3103.7 L241.0 3103.7 L245.0 3103.7 L249.0 3103.7 L253.0 3103.7 L257.0 3103.7 L261.0 3103.7 L265.0 3103.7 L269.0 3103.7 L273.0 3103.7 L277.0 3103.7 L281.0 3103.7 L285.0 3103.7 L289.0 3103.7 L293.0 3103.7 L297.0 3103.7 L301.0 3103.7 L305.0 3103.7 L309.0 3103.7 L313.0 3103.7 L317.0 3103.7 L321.0 3103.6 L325.0 3103.6 L329.0 3103.6 L333.0 3103.6 L337.0 3103.6 L341.0 3103.5 L345.0 3103.5 L349.0 3103.4 L353.0 3103.4 L357.0 3103.3 L361.0 3103.3 L365.0 3103.2 L369.0 3103.1 L373.0 3103.0 L377.0 3102.9 L381.0 3102.7 L385.0 3102.5 L389.0 3102.4 L393.0 3102.1 L397.0 3101.9 L401.0 3101.6 L405.0 3101.2 L409.0 3100.8 L413.0 3100.3 L417.0 3099.8 L421.0 3099.2 L425.0 3098.5 L429.0 3097.7 L433.0 3096.8 L437.0 3095.9 L441.0 3094.8 L445.0 3093.6 L449.0 3092.2 L453.0 3090.8 L457.0 3089.1 L461.0 3087.4 L465.0 3085.5 L469.0 3083.4 L473.0 3081.2 L477.0 3078.8 L481.0 3076.3 L485.0 3073.7 L489.0 3070.9 L493.0 3068.0 L497.0 3065.0 L501.0 3061.9 L505.0 3058.7 L509.0 3055.5 L513.0 3052.2 L517.0 3048.9 L521.0 3045.6 L525.0 3042.4 L529.0 3039.3 L533.0 3036.3 L537.0 3033.4 L541.0 3030.7 L545.0 3028.3 L549.0 3026.1 L553.0 3024.1 L557.0 3022.5 L561.0 3021.2 L565.0 3020.3 L569.0 3019.7 L573.0 3019.5 L577.0 3019.7 L581.0 3020.3 L585.0 3021.2 L589.0 3022.5 L593.0 3024.2 L597.0 3026.1 L601.0 3028.4 L605.0 3030.9 L609.0 3033.6 L613.0 3036.5 L617.0 3039.5 L621.0 3042.6 L625.0 3045.9 L629.0 3049.2 L633.0 3052.5 L637.0 3055.8 L641.0 3059.1 L645.0 3062.3 L649.0 3065.4 L653.0 3068.5 L657.0 3071.4 L661.0 3074.2 L665.0 3076.9 L669.0 3079.5 L673.0 3081.9 L677.0 3084.1 L681.0 3086.2 L685.0 3088.2 L689.0 3089.9 L693.0 3091.6 L697.0 3093.1 L701.0 3094.5 L705.0 3095.7 L709.0 3096.9 L713.0 3097.9 L717.0 3098.8 L721.0 3099.6 L725.0 3100.3 L729.0 3101.0 L733.0 3101.5 L737.0 3102.0 L741.0 3102.5 L745.0 3102.9 L749.0 3103.2 L753.0 3103.5 L757.0 3103.8 L761.0 3104.0 L765.0 3104.2 L769.0 3104.4 L773.0 3104.5 L777.0 3104.7 L781.0 3104.8 L785.0 3104.9 L789.0 3105.0 L793.0 3105.1 L797.0 3105.2 L801.0 3105.2 L805.0 3105.3 L809.0 3105.4 L813.0 3105.4 L817.0 3105.5 L821.0 3105.5 L825.0 3105.6 L829.0 3105.6 L833.0 3105.7 L837.0 3105.7 L841.0 3105.8 L845.0 3105.8 L849.0 3105.8 L853.0 3105.9 L857.0 3105.9 L861.0 3106.0 L865.0 3106.0 L869.0 3106.0 L873.0 3106.1 L877.0 3106.1 L881.0 3106.1 L885.0 3106.1 L889.0 3106.2 L893.0 3106.2 L897.0 3106.2 L901.0 3106.3 L905.0 3106.3 L909.0 3106.3 L913.0 3106.4 L917.0 3106.4 L921.0 3106.4 L925.0 3106.4 L929.0 3106.5 L933.0 3106.5 L937.0 3106.5 L941.0 3106.5 L945.0 3106.6 L949.0 3106.6 L953.0 3106.6 L957.0 3106.6 L961.0 3106.7 L965.0 3106.7 L969.0 3106.7 L973.0 3106.7 L977.0 3106.8 L981.0 3106.8 L985.0 3106.8 L989.0 3106.8 L993.0 3106.8 L997.0 3106.9 L1001.0 3106.9 L1005.0 3106.9 L1009.0 3106.9 L1013.0 3107.0 L1017.0 3107.0 L1021.0 3107.0 L1025.0 3107.0 L1029.0 3107.0 L1033.0 3107.1 L1037.0 3107.1 L1041.0 3107.1 L1045.0 3107.1 L1049.0 3107.1 L1053.0 3107.2 L1057.0 3107.2 L1061.0 3107.2 L1065.0 3107.2 L1069.0 3107.2 L1073.0 3107.3 L1077.0 3107.3 L1081.0 3107.3 L1085.0 3107.3 L1089.0 3107.3 L1093.0 3107.4 L1097.0 3107.4 L1101.0 3107.4 L1105.0 3107.4 L1109.0 3107.4 L1113.0 3107.4 L1117.0 3107.5 L1121.0 3107.5 L1125.0 3107.5 L1129.0 3107.5 L1133.0 3107.5 L1137.0 3107.6 L1141.0 3107.6 L1145.0 3107.6 L1149.0 3107.6 L1153.0 3107.6 L1157.0 3107.6 L1161.0 3107.7 L1165.0 3107.7 L1169.0 3107.7 L1173.0 3107.7 L1177.0 3107.7 L1181.0 3107.8 L1185.0 3107.8 L1189.0 3107.8 L1193.0 3107.8 L1197.0 3107.8 L1201.0 3107.8 L1205.0 3107.9 L1209.0 3107.9 L1213.0 3107.9 L1217.0 3107.9 L1221.0 3107.9 L1225.0 3107.9 L1229.0 3108.0 L1233.0 3108.0 L1237.0 3108.0 L1241.0 3108.0 L1245.0 3108.0 L1249.0 3108.0 L1253.0 3108.1 L1257.0 3108.1 L1261.0 3108.1 L1265.0 3108.1 L1269.0 3108.1 L1273.0 3108.2 L1277.0 3108.2 L1281.0 3108.2 L1282.8 3108.2" fill="none" stroke="#0a6ee0" stroke-width="3.50" stroke-linejoin="round" stroke-linecap="round"/>
<path d="M109.0 3101.6 L113.0 3101.6 L117.0 3101.5 L121.0 3101.5 L125.0 3101.5 L129.0 3101.4 L133.0 3101.4 L137.0 3101.3 L141.0 3101.3 L145.0 3101.2 L149.0 3101.2 L153.0 3101.1 L157.0 3101.1 L161.0 3101.0 L165.0 3100.9 L169.0 3100.9 L173.0 3100.8 L177.0 3100.7 L181.0 3100.6 L185.0 3100.5 L189.0 3100.4 L193.0 3100.3 L197.0 3100.2 L201.0 3100.1 L205.0 3099.9 L209.0 3099.8 L213.0 3099.6 L217.0 3099.5 L221.0 3099.3 L225.0 3099.1 L229.0 3098.9 L233.0 3098.7 L237.0 3098.5 L241.0 3098.3 L245.0 3098.1 L249.0 3097.8 L253.0 3097.5 L257.0 3097.3 L261.0 3097.0 L265.0 3096.7 L269.0 3096.3 L273.0 3096.0 L277.0 3095.6 L281.0 3095.2 L285.0 3094.9 L289.0 3094.4 L293.0 3094.0 L297.0 3093.6 L301.0 3093.1 L305.0 3092.6 L309.0 3092.1 L313.0 3091.6 L317.0 3091.1 L321.0 3090.5 L325.0 3090.0 L329.0 3089.4 L333.0 3088.8 L337.0 3088.2 L341.0 3087.5 L345.0 3086.9 L349.0 3086.3 L353.0 3085.6 L357.0 3084.9 L361.0 3084.3 L365.0 3083.6 L369.0 3082.9 L373.0 3082.2 L377.0 3081.6 L381.0 3080.9 L385.0 3080.2 L389.0 3079.6 L393.0 3078.9 L397.0 3078.3 L401.0 3077.8 L405.0 3077.2 L409.0 3076.7 L413.0 3076.2 L417.0 3075.8 L421.0 3075.4 L425.0 3075.0 L429.0 3074.7 L433.0 3074.5 L437.0 3074.3 L441.0 3074.2 L445.0 3074.2 L449.0 3074.2 L453.0 3074.2 L457.0 3074.4 L461.0 3074.6 L465.0 3074.9 L469.0 3075.2 L473.0 3075.6 L477.0 3076.0 L481.0 3076.5 L485.0 3077.0 L489.0 3077.5 L493.0 3078.1 L497.0 3078.7 L501.0 3079.4 L505.0 3080.1 L509.0 3080.7 L513.0 3081.4 L517.0 3082.1 L521.0 3082.8 L525.0 3083.6 L529.0 3084.3 L533.0 3085.0 L537.0 3085.7 L541.0 3086.4 L545.0 3087.1 L549.0 3087.8 L553.0 3088.5 L557.0 3089.1 L561.0 3089.8 L565.0 3090.4 L569.0 3091.0 L573.0 3091.6 L577.0 3092.2 L581.0 3092.8 L585.0 3093.4 L589.0 3093.9 L593.0 3094.4 L597.0 3094.9 L601.0 3095.4 L605.0 3095.9 L609.0 3096.3 L613.0 3096.7 L617.0 3097.2 L621.0 3097.6 L625.0 3097.9 L629.0 3098.3 L633.0 3098.7 L637.0 3099.0 L641.0 3099.3 L645.0 3099.6 L649.0 3099.9 L653.0 3100.2 L657.0 3100.4 L661.0 3100.7 L665.0 3100.9 L669.0 3101.2 L673.0 3101.4 L677.0 3101.6 L681.0 3101.8 L685.0 3102.0 L689.0 3102.2 L693.0 3102.3 L697.0 3102.5 L701.0 3102.6 L705.0 3102.8 L709.0 3102.9 L713.0 3103.1 L717.0 3103.2 L721.0 3103.3 L725.0 3103.4 L729.0 3103.5 L733.0 3103.7 L737.0 3103.8 L741.0 3103.9 L745.0 3103.9 L749.0 3104.0 L753.0 3104.1 L757.0 3104.2 L761.0 3104.3 L765.0 3104.4 L769.0 3104.4 L773.0 3104.5 L777.0 3104.6 L781.0 3104.7 L785.0 3104.7 L789.0 3104.8 L793.0 3104.8 L797.0 3104.9 L801.0 3105.0 L805.0 3105.0 L809.0 3105.1 L813.0 3105.1 L817.0 3105.2 L821.0 3105.2 L825.0 3105.3 L829.0 3105.3 L833.0 3105.4 L837.0 3105.4 L841.0 3105.5 L845.0 3105.5 L849.0 3105.6 L853.0 3105.6 L857.0 3105.7 L861.0 3105.7 L865.0 3105.8 L869.0 3105.8 L873.0 3105.8 L877.0 3105.9 L881.0 3105.9 L885.0 3106.0 L889.0 3106.0 L893.0 3106.0 L897.0 3106.1 L901.0 3106.1 L905.0 3106.2 L909.0 3106.2 L913.0 3106.2 L917.0 3106.3 L921.0 3106.3 L925.0 3106.3 L929.0 3106.4 L933.0 3106.4 L937.0 3106.4 L941.0 3106.5 L945.0 3106.5 L949.0 3106.5 L953.0 3106.6 L957.0 3106.6 L961.0 3106.6 L965.0 3106.7 L969.0 3106.7 L973.0 3106.7 L977.0 3106.8 L981.0 3106.8 L985.0 3106.8 L989.0 3106.9 L993.0 3106.9 L997.0 3106.9 L1001.0 3106.9 L1005.0 3107.0 L1009.0 3107.0 L1013.0 3107.0 L1017.0 3107.1 L1021.0 3107.1 L1025.0 3107.1 L1029.0 3107.1 L1033.0 3107.2 L1037.0 3107.2 L1041.0 3107.2 L1045.0 3107.3 L1049.0 3107.3 L1053.0 3107.3 L1057.0 3107.3 L1061.0 3107.4 L1065.0 3107.4 L1069.0 3107.4 L1073.0 3107.4 L1077.0 3107.5 L1081.0 3107.5 L1085.0 3107.5 L1089.0 3107.5 L1093.0 3107.6 L1097.0 3107.6 L1101.0 3107.6 L1105.0 3107.6 L1109.0 3107.7 L1113.0 3107.7 L1117.0 3107.7 L1121.0 3107.7 L1125.0 3107.8 L1129.0 3107.8 L1133.0 3107.8 L1137.0 3107.8 L1141.0 3107.9 L1145.0 3107.9 L1149.0 3107.9 L1153.0 3107.9 L1157.0 3108.0 L1161.0 3108.0 L1165.0 3108.0 L1169.0 3108.0 L1173.0 3108.1 L1177.0 3108.1 L1181.0 3108.1 L1185.0 3108.1 L1189.0 3108.2 L1193.0 3108.2 L1197.0 3108.2 L1201.0 3108.2 L1205.0 3108.2 L1209.0 3108.3 L1213.0 3108.3 L1217.0 3108.3 L1221.0 3108.3 L1225.0 3108.4 L1229.0 3108.4 L1233.0 3108.4 L1237.0 3108.4 L1241.0 3108.4 L1245.0 3108.5 L1249.0 3108.5 L1253.0 3108.5 L1257.0 3108.5 L1261.0 3108.6 L1265.0 3108.6 L1269.0 3108.6 L1273.0 3108.6 L1277.0 3108.6 L1281.0 3108.7 L1282.8 3108.7" fill="none" stroke="#00aa5e" stroke-width="3.50" stroke-linejoin="round" stroke-linecap="round"/>
<path d="M109.0 3102.4 L113.0 3102.2 L117.0 3102.0 L121.0 3101.9 L125.0 3101.7 L129.0 3101.5 L133.0 3101.3 L137.0 3101.1 L141.0 3100.8 L145.0 3100.6 L149.0 3100.3 L153.0 3100.0 L157.0 3099.8 L161.0 3099.5 L165.0 3099.1 L169.0 3098.8 L173.0 3098.5 L177.0 3098.1 L181.0 3097.8 L185.0 3097.4 L189.0 3097.0 L193.0 3096.6 L197.0 3096.2 L201.0 3095.8 L205.0 3095.4 L209.0 3095.0 L213.0 3094.6 L217.0 3094.1 L221.0 3093.7 L225.0 3093.3 L229.0 3092.9 L233.0 3092.4 L237.0 3092.0 L241.0 3091.6 L245.0 3091.2 L249.0 3090.8 L253.0 3090.4 L257.0 3090.1 L261.0 3089.7 L265.0 3089.4 L269.0 3089.1 L273.0 3088.9 L277.0 3088.7 L281.0 3088.5 L285.0 3088.3 L289.0 3088.2 L293.0 3088.1 L297.0 3088.0 L301.0 3088.0 L305.0 3088.1 L309.0 3088.1 L313.0 3088.2 L317.0 3088.4 L321.0 3088.6 L325.0 3088.8 L329.0 3089.0 L333.0 3089.3 L337.0 3089.6 L341.0 3090.0 L345.0 3090.3 L349.0 3090.7 L353.0 3091.1 L357.0 3091.5 L361.0 3091.9 L365.0 3092.3 L369.0 3092.8 L373.0 3093.2 L377.0 3093.7 L381.0 3094.1 L385.0 3094.6 L389.0 3095.0 L393.0 3095.5 L397.0 3095.9 L401.0 3096.3 L405.0 3096.7 L409.0 3097.2 L413.0 3097.6 L417.0 3098.0 L421.0 3098.4 L425.0 3098.7 L429.0 3099.1 L433.0 3099.5 L437.0 3099.8 L441.0 3100.1 L445.0 3100.4 L449.0 3100.7 L453.0 3101.0 L457.0 3101.3 L461.0 3101.6 L465.0 3101.8 L469.0 3102.1 L473.0 3102.3 L477.0 3102.5 L481.0 3102.7 L485.0 3102.9 L489.0 3103.1 L493.0 3103.2 L497.0 3103.4 L501.0 3103.6 L505.0 3103.7 L509.0 3103.8 L513.0 3104.0 L517.0 3104.1 L521.0 3104.2 L525.0 3104.3 L529.0 3104.4 L533.0 3104.5 L537.0 3104.6 L541.0 3104.6 L545.0 3104.7 L549.0 3104.8 L553.0 3104.8 L557.0 3104.9 L561.0 3105.0 L565.0 3105.0 L569.0 3105.1 L573.0 3105.1 L577.0 3105.2 L581.0 3105.2 L585.0 3105.2 L589.0 3105.3 L593.0 3105.3 L597.0 3105.4 L601.0 3105.4 L605.0 3105.4 L609.0 3105.5 L613.0 3105.5 L617.0 3105.5 L621.0 3105.5 L625.0 3105.6 L629.0 3105.6 L633.0 3105.6 L637.0 3105.6 L641.0 3105.7 L645.0 3105.7 L649.0 3105.7 L653.0 3105.7 L657.0 3105.8 L661.0 3105.8 L665.0 3105.8 L669.0 3105.8 L673.0 3105.8 L677.0 3105.9 L681.0 3105.9 L685.0 3105.9 L689.0 3105.9 L693.0 3105.9 L697.0 3105.9 L701.0 3106.0 L705.0 3106.0 L709.0 3106.0 L713.0 3106.0 L717.0 3106.0 L721.0 3106.0 L725.0 3106.1 L729.0 3106.1 L733.0 3106.1 L737.0 3106.1 L741.0 3106.1 L745.0 3106.1 L749.0 3106.2 L753.0 3106.2 L757.0 3106.2 L761.0 3106.2 L765.0 3106.2 L769.0 3106.2 L773.0 3106.2 L777.0 3106.3 L781.0 3106.3 L785.0 3106.3 L789.0 3106.3 L793.0 3106.3 L797.0 3106.3 L801.0 3106.3 L805.0 3106.4 L809.0 3106.4 L813.0 3106.4 L817.0 3106.4 L821.0 3106.4 L825.0 3106.4 L829.0 3106.4 L833.0 3106.4 L837.0 3106.5 L841.0 3106.5 L845.0 3106.5 L849.0 3106.5 L853.0 3106.5 L857.0 3106.5 L861.0 3106.5 L865.0 3106.5 L869.0 3106.6 L873.0 3106.6 L877.0 3106.6 L881.0 3106.6 L885.0 3106.6 L889.0 3106.6 L893.0 3106.6 L897.0 3106.6 L901.0 3106.6 L905.0 3106.7 L909.0 3106.7 L913.0 3106.7 L917.0 3106.7 L921.0 3106.7 L925.0 3106.7 L929.0 3106.7 L933.0 3106.7 L937.0 3106.7 L941.0 3106.8 L945.0 3106.8 L949.0 3106.8 L953.0 3106.8 L957.0 3106.8 L961.0 3106.8 L965.0 3106.8 L969.0 3106.8 L973.0 3106.8 L977.0 3106.9 L981.0 3106.9 L985.0 3106.9 L989.0 3106.9 L993.0 3106.9 L997.0 3106.9 L1001.0 3106.9 L1005.0 3106.9 L1009.0 3106.9 L1013.0 3107.0 L1017.0 3107.0 L1021.0 3107.0 L1025.0 3107.0 L1029.0 3107.0 L1033.0 3107.0 L1037.0 3107.0 L1041.0 3107.0 L1045.0 3107.0 L1049.0 3107.0 L1053.0 3107.1 L1057.0 3107.1 L1061.0 3107.1 L1065.0 3107.1 L1069.0 3107.1 L1073.0 3107.1 L1077.0 3107.1 L1081.0 3107.1 L1085.0 3107.1 L1089.0 3107.2 L1093.0 3107.2 L1097.0 3107.2 L1101.0 3107.2 L1105.0 3107.2 L1109.0 3107.2 L1113.0 3107.2 L1117.0 3107.2 L1121.0 3107.2 L1125.0 3107.2 L1129.0 3107.3 L1133.0 3107.3 L1137.0 3107.3 L1141.0 3107.3 L1145.0 3107.3 L1149.0 3107.3 L1153.0 3107.3 L1157.0 3107.3 L1161.0 3107.3 L1165.0 3107.3 L1169.0 3107.4 L1173.0 3107.4 L1177.0 3107.4 L1181.0 3107.4 L1185.0 3107.4 L1189.0 3107.4 L1193.0 3107.4 L1197.0 3107.4 L1201.0 3107.4 L1205.0 3107.4 L1209.0 3107.5 L1213.0 3107.5 L1217.0 3107.5 L1221.0 3107.5 L1225.0 3107.5 L1229.0 3107.5 L1233.0 3107.5 L1237.0 3107.5 L1241.0 3107.5 L1245.0 3107.5 L1249.0 3107.5 L1253.0 3107.6 L1257.0 3107.6 L1261.0 3107.6 L1265.0 3107.6 L1269.0 3107.6 L1273.0 3107.6 L1277.0 3107.6 L1281.0 3107.6 L1282.8 3107.6" fill="none" stroke="#c278e0" stroke-width="3.50" stroke-linejoin="round" stroke-linecap="round"/>
</g>
<g clip-path="url(#c9)">
<path d="M109.0 3339.4 L112.0 3339.3 L115.0 3339.1 L118.0 3338.9 L121.0 3338.7 L124.0 3338.5 L127.0 3338.3 L130.0 3338.1 L133.0 3337.9 L136.0 3337.7 L139.0 3337.5 L142.0 3337.3 L145.0 3337.0 L148.0 3336.8 L151.0 3336.6 L154.0 3336.4 L157.0 3336.2 L160.0 3336.0 L163.0 3335.8 L166.0 3335.6 L169.0 3335.3 L172.0 3335.1 L175.0 3334.9 L178.0 3334.7 L181.0 3334.5 L184.0 3334.3 L187.0 3334.1 L190.0 3333.9 L193.0 3333.6 L196.0 3333.5 L199.0 3333.3 L202.0 3333.1 L205.0 3333.0 L208.0 3332.8 L211.0 3332.7 L214.0 3332.6 L217.0 3332.5 L220.0 3332.4 L223.0 3332.2 L226.0 3332.1 L229.0 3332.0 L232.0 3331.9 L235.0 3331.8 L238.0 3331.6 L241.0 3331.5 L244.0 3331.4 L247.0 3331.3 L250.0 3331.1 L253.0 3331.0 L256.0 3330.9 L259.0 3330.8 L262.0 3330.7 L265.0 3330.5 L268.0 3330.4 L271.0 3330.3 L274.0 3330.2 L277.0 3330.1 L280.0 3329.9 L283.0 3329.8 L286.0 3329.7 L289.0 3329.6 L292.0 3329.5 L295.0 3329.3 L298.0 3329.2 L301.0 3329.1 L304.0 3329.0 L307.0 3328.9 L310.0 3328.8 L313.0 3328.7 L316.0 3328.6 L319.0 3328.5 L322.0 3328.4 L325.0 3328.3 L328.0 3328.2 L331.0 3328.1 L334.0 3328.0 L337.0 3327.9 L340.0 3327.8 L343.0 3327.7 L346.0 3327.6 L349.0 3327.5 L352.0 3327.4 L355.0 3327.3 L358.0 3327.2 L361.0 3327.0 L364.0 3326.9 L367.0 3326.8 L370.0 3326.7 L373.0 3326.6 L376.0 3326.5 L379.0 3326.4 L382.0 3326.3 L385.0 3326.2 L388.0 3326.1 L391.0 3326.0 L394.0 3325.9 L397.0 3325.8 L400.0 3325.6 L403.0 3325.4 L406.0 3325.2 L409.0 3325.1 L412.0 3324.9 L415.0 3324.7 L418.0 3324.5 L421.0 3324.3 L424.0 3324.1 L427.0 3323.9 L430.0 3323.7 L433.0 3323.5 L436.0 3323.2 L439.0 3322.8 L442.0 3322.3 L445.0 3321.7 L448.0 3321.1 L451.0 3320.4 L454.0 3319.6 L457.0 3318.9 L460.0 3318.1 L463.0 3317.4 L466.0 3316.7 L469.0 3316.0 L472.0 3315.4 L475.0 3314.8 L478.0 3314.1 L481.0 3313.5 L484.0 3312.9 L487.0 3312.3 L490.0 3311.7 L493.0 3311.1 L496.0 3310.5 L499.0 3309.8 L502.0 3309.1 L505.0 3308.3 L508.0 3307.6 L511.0 3306.8 L514.0 3306.1 L517.0 3305.3 L520.0 3304.6 L523.0 3303.8 L526.0 3303.0 L529.0 3302.1 L532.0 3301.2 L535.0 3300.4 L538.0 3299.5 L541.0 3298.6 L544.0 3297.7 L547.0 3296.8 L550.0 3295.9 L553.0 3295.0 L556.0 3294.2 L559.0 3293.4 L562.0 3292.6 L565.0 3291.8 L568.0 3291.0 L571.0 3290.1 L574.0 3289.1 L577.0 3288.1 L580.0 3287.0 L583.0 3285.8 L586.0 3284.6 L589.0 3283.5 L592.0 3282.2 L595.0 3280.9 L598.0 3279.5 L601.0 3278.0 L604.0 3276.4 L607.0 3274.7 L610.0 3273.0 L613.0 3271.1 L616.0 3269.3 L619.0 3267.3 L622.0 3265.2 L625.0 3263.0 L628.0 3260.8 L631.0 3258.6 L634.0 3256.3 L637.0 3254.1 L640.0 3251.7 L643.0 3249.4 L646.0 3247.0 L649.0 3244.6 L652.0 3242.1 L655.0 3239.7 L658.0 3237.2 L661.0 3234.6 L664.0 3231.9 L667.0 3229.1 L670.0 3226.2 L673.0 3223.3 L676.0 3220.3 L679.0 3217.2 L682.0 3214.1 L685.0 3210.9 L688.0 3207.6 L691.0 3204.2 L694.0 3200.8 L697.0 3197.2 L700.0 3193.7 L703.0 3190.3 L706.0 3187.0 L709.0 3183.9 L712.0 3181.1 L715.0 3178.5 L718.0 3176.1 L721.0 3173.8 L724.0 3171.8 L727.0 3170.0 L730.0 3168.4 L733.0 3167.1 L736.0 3166.0 L739.0 3165.1 L742.0 3164.4 L745.0 3163.8 L748.0 3163.4 L751.0 3163.1 L754.0 3163.0 L757.0 3162.9 L760.0 3163.0 L763.0 3163.3 L766.0 3163.8 L769.0 3164.5 L772.0 3165.5 L775.0 3166.8 L778.0 3168.5 L781.0 3170.4 L784.0 3172.5 L787.0 3174.9 L790.0 3177.4 L793.0 3180.1 L796.0 3183.0 L799.0 3186.1 L802.0 3189.3 L805.0 3192.8 L808.0 3196.4 L811.0 3200.1 L814.0 3203.8 L817.0 3207.7 L820.0 3211.7 L823.0 3215.8 L826.0 3220.1 L829.0 3224.6 L832.0 3229.1 L835.0 3233.7 L838.0 3238.2 L841.0 3242.6 L844.0 3246.9 L847.0 3250.9 L850.0 3254.8 L853.0 3258.5 L856.0 3262.0 L859.0 3265.5 L862.0 3269.1 L865.0 3272.8 L868.0 3276.6 L871.0 3280.5 L874.0 3284.4 L877.0 3288.3 L880.0 3292.1 L883.0 3295.7 L886.0 3299.1 L889.0 3302.1 L892.0 3304.9 L895.0 3307.3 L898.0 3309.6 L901.0 3311.8 L904.0 3313.9 L907.0 3316.0 L910.0 3318.0 L913.0 3319.9 L916.0 3321.7 L919.0 3323.4 L922.0 3324.8 L925.0 3326.2 L928.0 3327.4 L931.0 3328.7 L934.0 3329.8 L937.0 3331.0 L940.0 3332.2 L943.0 3333.2 L946.0 3334.2 L949.0 3335.1 L952.0 3335.9 L955.0 3336.7 L958.0 3337.4 L961.0 3338.1 L964.0 3338.8 L967.0 3339.4 L970.0 3340.1 L973.0 3340.7 L976.0 3341.2 L979.0 3341.6 L982.0 3342.1 L985.0 3342.4 L988.0 3342.8 L991.0 3343.2 L994.0 3343.5 L997.0 3343.8 L1000.0 3344.1 L1003.0 3344.4 L1006.0 3344.7 L1009.0 3344.9 L1012.0 3345.0 L1015.0 3345.2 L1018.0 3345.4 L1021.0 3345.5 L1024.0 3345.7 L1027.0 3345.8 L1030.0 3346.0 L1033.0 3346.1 L1036.0 3346.2 L1039.0 3346.3 L1042.0 3346.4 L1045.0 3346.5 L1048.0 3346.6 L1051.0 3346.6 L1054.0 3346.7 L1057.0 3346.8 L1060.0 3346.9 L1063.0 3347.0 L1066.0 3347.0 L1069.0 3347.1 L1072.0 3347.2 L1075.0 3347.2 L1078.0 3347.3 L1081.0 3347.4 L1084.0 3347.4 L1087.0 3347.5 L1090.0 3347.6 L1093.0 3347.6 L1096.0 3347.7 L1099.0 3347.8 L1102.0 3347.8 L1105.0 3347.9 L1108.0 3347.9 L1111.0 3348.0 L1114.0 3348.0 L1117.0 3348.1 L1120.0 3348.1 L1123.0 3348.2 L1126.0 3348.2 L1129.0 3348.3 L1132.0 3348.3 L1135.0 3348.4 L1138.0 3348.4 L1141.0 3348.5 L1144.0 3348.5 L1147.0 3348.6 L1150.0 3348.7 L1153.0 3348.7 L1156.0 3348.8 L1159.0 3348.8 L1162.0 3348.9 L1165.0 3348.9 L1168.0 3349.0 L1171.0 3349.0 L1174.0 3349.1 L1177.0 3349.1 L1180.0 3349.2 L1183.0 3349.2 L1186.0 3349.3 L1189.0 3349.3 L1192.0 3349.4 L1195.0 3349.4 L1198.0 3349.5 L1201.0 3349.5 L1204.0 3349.5 L1207.0 3349.6 L1210.0 3349.6 L1213.0 3349.7 L1216.0 3349.7 L1219.0 3349.7 L1222.0 3349.8 L1225.0 3349.8 L1228.0 3349.8 L1231.0 3349.9 L1234.0 3349.9 L1237.0 3349.9 L1240.0 3350.0 L1243.0 3350.0 L1246.0 3350.1 L1249.0 3350.1 L1252.0 3350.1 L1255.0 3350.2 L1258.0 3350.2 L1261.0 3350.2 L1264.0 3350.3 L1267.0 3350.3 L1270.0 3350.3 L1273.0 3350.4 L1276.0 3350.4 L1279.0 3350.4 L1282.0 3350.5 L1282.8 3350.5" fill="none" stroke="#474747" stroke-width="3.50" stroke-linejoin="round" stroke-linecap="round"/>
<path d="M109.0 3340.0 L113.0 3340.0 L117.0 3340.1 L121.0 3340.1 L125.0 3340.2 L129.0 3340.2 L133.0 3340.2 L137.0 3340.3 L141.0 3340.3 L145.0 3340.3 L149.0 3340.4 L153.0 3340.4 L157.0 3340.5 L161.0 3340.5 L165.0 3340.5 L169.0 3340.6 L173.0 3340.6 L177.0 3340.7 L181.0 3340.7 L185.0 3340.7 L189.0 3340.8 L193.0 3340.8 L197.0 3340.9 L201.0 3340.9 L205.0 3340.9 L209.0 3341.0 L213.0 3341.0 L217.0 3341.1 L221.0 3341.1 L225.0 3341.1 L229.0 3341.2 L233.0 3341.2 L237.0 3341.2 L241.0 3341.3 L245.0 3341.3 L249.0 3341.4 L253.0 3341.4 L257.0 3341.4 L261.0 3341.5 L265.0 3341.5 L269.0 3341.6 L273.0 3341.6 L277.0 3341.6 L281.0 3341.7 L285.0 3341.7 L289.0 3341.8 L293.0 3341.8 L297.0 3341.8 L301.0 3341.9 L305.0 3341.9 L309.0 3342.0 L313.0 3342.0 L317.0 3342.0 L321.0 3342.1 L325.0 3342.1 L329.0 3342.1 L333.0 3342.2 L337.0 3342.2 L341.0 3342.3 L345.0 3342.3 L349.0 3342.3 L353.0 3342.4 L357.0 3342.4 L361.0 3342.5 L365.0 3342.5 L369.0 3342.5 L373.0 3342.6 L377.0 3342.6 L381.0 3342.7 L385.0 3342.7 L389.0 3342.7 L393.0 3342.8 L397.0 3342.8 L401.0 3342.8 L405.0 3342.9 L409.0 3342.9 L413.0 3343.0 L417.0 3343.0 L421.0 3343.0 L425.0 3343.1 L429.0 3343.1 L433.0 3343.1 L437.0 3343.1 L441.0 3343.2 L445.0 3343.2 L449.0 3343.2 L453.0 3343.2 L457.0 3343.2 L461.0 3343.3 L465.0 3343.3 L469.0 3343.3 L473.0 3343.2 L477.0 3343.2 L481.0 3343.2 L485.0 3343.1 L489.0 3343.1 L493.0 3343.0 L497.0 3342.9 L501.0 3342.8 L505.0 3342.6 L509.0 3342.5 L513.0 3342.3 L517.0 3342.0 L521.0 3341.8 L525.0 3341.4 L529.0 3341.1 L533.0 3340.6 L537.0 3340.1 L541.0 3339.6 L545.0 3339.0 L549.0 3338.3 L553.0 3337.5 L557.0 3336.6 L561.0 3335.6 L565.0 3334.4 L569.0 3333.2 L573.0 3331.9 L577.0 3330.4 L581.0 3328.7 L585.0 3326.9 L589.0 3324.9 L593.0 3322.8 L597.0 3320.5 L601.0 3318.0 L605.0 3315.3 L609.0 3312.4 L613.0 3309.3 L617.0 3306.1 L621.0 3302.6 L625.0 3298.9 L629.0 3295.0 L633.0 3290.9 L637.0 3286.6 L641.0 3282.2 L645.0 3277.5 L649.0 3272.7 L653.0 3267.8 L657.0 3262.7 L661.0 3257.5 L665.0 3252.2 L669.0 3246.9 L673.0 3241.5 L677.0 3236.0 L681.0 3230.6 L685.0 3225.2 L689.0 3219.9 L693.0 3214.6 L697.0 3209.5 L701.0 3204.5 L705.0 3199.8 L709.0 3195.2 L713.0 3190.9 L717.0 3186.9 L721.0 3183.1 L725.0 3179.7 L729.0 3176.7 L733.0 3174.0 L737.0 3171.8 L741.0 3169.9 L745.0 3168.5 L749.0 3167.6 L753.0 3167.0 L757.0 3167.0 L761.0 3167.4 L765.0 3168.2 L769.0 3169.5 L773.0 3171.2 L777.0 3173.3 L781.0 3175.9 L785.0 3178.8 L789.0 3182.1 L793.0 3185.8 L797.0 3189.8 L801.0 3194.0 L805.0 3198.5 L809.0 3203.3 L813.0 3208.2 L817.0 3213.4 L821.0 3218.6 L825.0 3224.0 L829.0 3229.5 L833.0 3235.0 L837.0 3240.5 L841.0 3246.0 L845.0 3251.4 L849.0 3256.8 L853.0 3262.2 L857.0 3267.4 L861.0 3272.5 L865.0 3277.4 L869.0 3282.2 L873.0 3286.8 L877.0 3291.3 L881.0 3295.5 L885.0 3299.6 L889.0 3303.4 L893.0 3307.1 L897.0 3310.6 L901.0 3313.8 L905.0 3316.9 L909.0 3319.7 L913.0 3322.4 L917.0 3324.9 L921.0 3327.2 L925.0 3329.3 L929.0 3331.3 L933.0 3333.1 L937.0 3334.7 L941.0 3336.2 L945.0 3337.6 L949.0 3338.8 L953.0 3340.0 L957.0 3341.0 L961.0 3341.9 L965.0 3342.7 L969.0 3343.5 L973.0 3344.1 L977.0 3344.7 L981.0 3345.3 L985.0 3345.7 L989.0 3346.2 L993.0 3346.5 L997.0 3346.9 L1001.0 3347.2 L1005.0 3347.4 L1009.0 3347.7 L1013.0 3347.9 L1017.0 3348.1 L1021.0 3348.2 L1025.0 3348.4 L1029.0 3348.5 L1033.0 3348.6 L1037.0 3348.7 L1041.0 3348.8 L1045.0 3348.9 L1049.0 3349.0 L1053.0 3349.1 L1057.0 3349.1 L1061.0 3349.2 L1065.0 3349.3 L1069.0 3349.3 L1073.0 3349.4 L1077.0 3349.4 L1081.0 3349.5 L1085.0 3349.5 L1089.0 3349.6 L1093.0 3349.6 L1097.0 3349.6 L1101.0 3349.7 L1105.0 3349.7 L1109.0 3349.8 L1113.0 3349.8 L1117.0 3349.9 L1121.0 3349.9 L1125.0 3349.9 L1129.0 3350.0 L1133.0 3350.0 L1137.0 3350.1 L1141.0 3350.1 L1145.0 3350.1 L1149.0 3350.2 L1153.0 3350.2 L1157.0 3350.3 L1161.0 3350.3 L1165.0 3350.3 L1169.0 3350.4 L1173.0 3350.4 L1177.0 3350.4 L1181.0 3350.5 L1185.0 3350.5 L1189.0 3350.6 L1193.0 3350.6 L1197.0 3350.6 L1201.0 3350.7 L1205.0 3350.7 L1209.0 3350.8 L1213.0 3350.8 L1217.0 3350.8 L1221.0 3350.9 L1225.0 3350.9 L1229.0 3351.0 L1233.0 3351.0 L1237.0 3351.0 L1241.0 3351.1 L1245.0 3351.1 L1249.0 3351.2 L1253.0 3351.2 L1257.0 3351.2 L1261.0 3351.3 L1265.0 3351.3 L1269.0 3351.3 L1273.0 3351.4 L1277.0 3351.4 L1281.0 3351.5 L1282.8 3351.5" fill="none" stroke="#fa3535" stroke-width="3.50" stroke-linejoin="round" stroke-linecap="round"/>
<path d="M109.0 3340.7 L113.0 3340.7 L117.0 3340.7 L121.0 3340.8 L125.0 3340.8 L129.0 3340.8 L133.0 3340.9 L137.0 3340.9 L141.0 3340.9 L145.0 3341.0 L149.0 3341.0 L153.0 3341.0 L157.0 3341.1 L161.0 3341.1 L165.0 3341.1 L169.0 3341.2 L173.0 3341.2 L177.0 3341.2 L181.0 3341.3 L185.0 3341.3 L189.0 3341.3 L193.0 3341.4 L197.0 3341.4 L201.0 3341.4 L205.0 3341.5 L209.0 3341.5 L213.0 3341.5 L217.0 3341.6 L221.0 3341.6 L225.0 3341.6 L229.0 3341.7 L233.0 3341.7 L237.0 3341.7 L241.0 3341.7 L245.0 3341.8 L249.0 3341.8 L253.0 3341.8 L257.0 3341.8 L261.0 3341.8 L265.0 3341.9 L269.0 3341.9 L273.0 3341.9 L277.0 3341.9 L281.0 3341.9 L285.0 3341.9 L289.0 3341.9 L293.0 3341.9 L297.0 3341.9 L301.0 3341.8 L305.0 3341.8 L309.0 3341.8 L313.0 3341.7 L317.0 3341.7 L321.0 3341.6 L325.0 3341.6 L329.0 3341.5 L333.0 3341.4 L337.0 3341.3 L341.0 3341.1 L345.0 3341.0 L349.0 3340.8 L353.0 3340.7 L357.0 3340.5 L361.0 3340.3 L365.0 3340.0 L369.0 3339.8 L373.0 3339.5 L377.0 3339.2 L381.0 3338.9 L385.0 3338.5 L389.0 3338.1 L393.0 3337.7 L397.0 3337.3 L401.0 3336.8 L405.0 3336.3 L409.0 3335.8 L413.0 3335.2 L417.0 3334.6 L421.0 3334.0 L425.0 3333.3 L429.0 3332.6 L433.0 3331.9 L437.0 3331.1 L441.0 3330.3 L445.0 3329.5 L449.0 3328.7 L453.0 3327.8 L457.0 3326.9 L461.0 3326.0 L465.0 3325.0 L469.0 3324.1 L473.0 3323.1 L477.0 3322.1 L481.0 3321.1 L485.0 3320.1 L489.0 3319.1 L493.0 3318.2 L497.0 3317.2 L501.0 3316.2 L505.0 3315.3 L509.0 3314.3 L513.0 3313.4 L517.0 3312.5 L521.0 3311.7 L525.0 3310.9 L529.0 3310.1 L533.0 3309.4 L537.0 3308.8 L541.0 3308.2 L545.0 3307.6 L549.0 3307.1 L553.0 3306.7 L557.0 3306.4 L561.0 3306.1 L565.0 3305.9 L569.0 3305.8 L573.0 3305.7 L577.0 3305.7 L581.0 3305.8 L585.0 3306.0 L589.0 3306.2 L593.0 3306.6 L597.0 3307.0 L601.0 3307.4 L605.0 3308.0 L609.0 3308.5 L613.0 3309.2 L617.0 3309.9 L621.0 3310.7 L625.0 3311.5 L629.0 3312.3 L633.0 3313.2 L637.0 3314.2 L641.0 3315.1 L645.0 3316.1 L649.0 3317.2 L653.0 3318.2 L657.0 3319.2 L661.0 3320.3 L665.0 3321.4 L669.0 3322.4 L673.0 3323.5 L677.0 3324.6 L681.0 3325.6 L685.0 3326.6 L689.0 3327.7 L693.0 3328.7 L697.0 3329.6 L701.0 3330.6 L705.0 3331.5 L709.0 3332.4 L713.0 3333.3 L717.0 3334.2 L721.0 3335.0 L725.0 3335.8 L729.0 3336.5 L733.0 3337.2 L737.0 3337.9 L741.0 3338.6 L745.0 3339.2 L749.0 3339.8 L753.0 3340.3 L757.0 3340.9 L761.0 3341.4 L765.0 3341.8 L769.0 3342.3 L773.0 3342.7 L777.0 3343.1 L781.0 3343.4 L785.0 3343.8 L789.0 3344.1 L793.0 3344.4 L797.0 3344.6 L801.0 3344.9 L805.0 3345.1 L809.0 3345.4 L813.0 3345.6 L817.0 3345.7 L821.0 3345.9 L825.0 3346.1 L829.0 3346.2 L833.0 3346.4 L837.0 3346.5 L841.0 3346.6 L845.0 3346.7 L849.0 3346.8 L853.0 3346.9 L857.0 3347.0 L861.0 3347.1 L865.0 3347.2 L869.0 3347.3 L873.0 3347.3 L877.0 3347.4 L881.0 3347.5 L885.0 3347.5 L889.0 3347.6 L893.0 3347.6 L897.0 3347.7 L901.0 3347.7 L905.0 3347.8 L909.0 3347.8 L913.0 3347.9 L917.0 3347.9 L921.0 3348.0 L925.0 3348.0 L929.0 3348.1 L933.0 3348.1 L937.0 3348.2 L941.0 3348.2 L945.0 3348.2 L949.0 3348.3 L953.0 3348.3 L957.0 3348.4 L961.0 3348.4 L965.0 3348.4 L969.0 3348.5 L973.0 3348.5 L977.0 3348.6 L981.0 3348.6 L985.0 3348.6 L989.0 3348.7 L993.0 3348.7 L997.0 3348.8 L1001.0 3348.8 L1005.0 3348.8 L1009.0 3348.9 L1013.0 3348.9 L1017.0 3348.9 L1021.0 3349.0 L1025.0 3349.0 L1029.0 3349.1 L1033.0 3349.1 L1037.0 3349.1 L1041.0 3349.2 L1045.0 3349.2 L1049.0 3349.2 L1053.0 3349.3 L1057.0 3349.3 L1061.0 3349.4 L1065.0 3349.4 L1069.0 3349.4 L1073.0 3349.5 L1077.0 3349.5 L1081.0 3349.5 L1085.0 3349.6 L1089.0 3349.6 L1093.0 3349.7 L1097.0 3349.7 L1101.0 3349.7 L1105.0 3349.8 L1109.0 3349.8 L1113.0 3349.9 L1117.0 3349.9 L1121.0 3349.9 L1125.0 3350.0 L1129.0 3350.0 L1133.0 3350.0 L1137.0 3350.1 L1141.0 3350.1 L1145.0 3350.1 L1149.0 3350.2 L1153.0 3350.2 L1157.0 3350.3 L1161.0 3350.3 L1165.0 3350.3 L1169.0 3350.4 L1173.0 3350.4 L1177.0 3350.4 L1181.0 3350.5 L1185.0 3350.5 L1189.0 3350.6 L1193.0 3350.6 L1197.0 3350.6 L1201.0 3350.7 L1205.0 3350.7 L1209.0 3350.7 L1213.0 3350.8 L1217.0 3350.8 L1221.0 3350.9 L1225.0 3350.9 L1229.0 3350.9 L1233.0 3351.0 L1237.0 3351.0 L1241.0 3351.0 L1245.0 3351.1 L1249.0 3351.1 L1253.0 3351.2 L1257.0 3351.2 L1261.0 3351.2 L1265.0 3351.3 L1269.0 3351.3 L1273.0 3351.3 L1277.0 3351.4 L1281.0 3351.4 L1282.8 3351.4" fill="none" stroke="#0a6ee0" stroke-width="3.50" stroke-linejoin="round" stroke-linecap="round"/>
<path d="M109.0 3343.1 C140.8 3343.1 229.8 3343.2 300.0 3343.0 C370.2 3342.8 416.7 3341.2 530.0 3342.1 C643.3 3342.9 856.7 3346.6 980.0 3348.1 C1103.3 3349.6 1221.7 3350.5 1270.0 3351.0" fill="none" stroke="#c278e0" stroke-width="3.50" stroke-linejoin="round" stroke-linecap="round"/>
<path d="M109.0 3340.6 C132.3 3339.8 208.9 3337.1 248.7 3335.7 C288.5 3334.3 315.9 3332.9 347.8 3332.2 C379.7 3331.4 415.1 3331.4 440.0 3331.2 C464.9 3331.0 478.2 3331.1 497.3 3331.2 C516.4 3331.3 535.4 3331.2 554.5 3331.7 C573.6 3332.2 592.7 3333.0 611.8 3334.0 C630.9 3335.0 654.4 3336.7 669.1 3337.5 C683.8 3338.3 681.9 3338.1 700.0 3338.9 C718.1 3339.7 731.1 3340.6 777.8 3342.1 C824.5 3343.6 898.0 3346.6 980.0 3348.1 C1062.0 3349.6 1221.7 3350.8 1270.0 3351.3" fill="none" stroke="#00aa5e" stroke-width="3.50" stroke-linejoin="round" stroke-linecap="round"/>
</g>
<g clip-path="url(#c10)">
<path d="M109.0 3571.1 L112.0 3571.0 L115.0 3571.0 L118.0 3570.8 L121.0 3570.7 L124.0 3570.6 L127.0 3570.5 L130.0 3570.4 L133.0 3570.3 L136.0 3570.2 L139.0 3570.1 L142.0 3569.9 L145.0 3569.8 L148.0 3569.7 L151.0 3569.6 L154.0 3569.5 L157.0 3569.4 L160.0 3569.2 L163.0 3569.1 L166.0 3569.0 L169.0 3568.9 L172.0 3568.7 L175.0 3568.5 L178.0 3568.2 L181.0 3567.9 L184.0 3567.6 L187.0 3567.3 L190.0 3566.9 L193.0 3566.6 L196.0 3566.3 L199.0 3565.9 L202.0 3565.6 L205.0 3565.2 L208.0 3564.9 L211.0 3564.6 L214.0 3564.2 L217.0 3563.9 L220.0 3563.5 L223.0 3563.2 L226.0 3562.9 L229.0 3562.5 L232.0 3562.2 L235.0 3561.8 L238.0 3561.5 L241.0 3561.2 L244.0 3560.8 L247.0 3560.5 L250.0 3560.2 L253.0 3559.9 L256.0 3559.6 L259.0 3559.3 L262.0 3559.0 L265.0 3558.7 L268.0 3558.4 L271.0 3558.0 L274.0 3557.7 L277.0 3557.5 L280.0 3557.2 L283.0 3556.9 L286.0 3556.7 L289.0 3556.6 L292.0 3556.6 L295.0 3556.6 L298.0 3556.7 L301.0 3556.9 L304.0 3557.0 L307.0 3557.1 L310.0 3557.2 L313.0 3557.4 L316.0 3557.5 L319.0 3557.6 L322.0 3557.7 L325.0 3557.9 L328.0 3558.0 L331.0 3558.1 L334.0 3558.2 L337.0 3558.3 L340.0 3558.5 L343.0 3558.6 L346.0 3558.7 L349.0 3558.8 L352.0 3558.9 L355.0 3559.0 L358.0 3559.2 L361.0 3559.3 L364.0 3559.4 L367.0 3559.5 L370.0 3559.6 L373.0 3559.7 L376.0 3559.9 L379.0 3560.0 L382.0 3560.0 L385.0 3560.1 L388.0 3560.1 L391.0 3560.1 L394.0 3560.0 L397.0 3559.9 L400.0 3559.8 L403.0 3559.7 L406.0 3559.6 L409.0 3559.4 L412.0 3559.3 L415.0 3559.2 L418.0 3559.0 L421.0 3558.8 L424.0 3558.5 L427.0 3558.2 L430.0 3557.9 L433.0 3557.5 L436.0 3557.1 L439.0 3556.6 L442.0 3556.0 L445.0 3555.3 L448.0 3554.5 L451.0 3553.7 L454.0 3552.9 L457.0 3552.0 L460.0 3551.2 L463.0 3550.4 L466.0 3549.6 L469.0 3548.8 L472.0 3548.0 L475.0 3547.2 L478.0 3546.5 L481.0 3545.7 L484.0 3545.0 L487.0 3544.2 L490.0 3543.5 L493.0 3542.7 L496.0 3541.9 L499.0 3541.1 L502.0 3540.2 L505.0 3539.4 L508.0 3538.5 L511.0 3537.6 L514.0 3536.7 L517.0 3535.8 L520.0 3534.9 L523.0 3534.0 L526.0 3533.1 L529.0 3532.2 L532.0 3531.3 L535.0 3530.4 L538.0 3529.5 L541.0 3528.6 L544.0 3527.7 L547.0 3526.8 L550.0 3525.9 L553.0 3525.0 L556.0 3524.1 L559.0 3523.2 L562.0 3522.3 L565.0 3521.4 L568.0 3520.5 L571.0 3519.6 L574.0 3518.6 L577.0 3517.7 L580.0 3516.8 L583.0 3515.8 L586.0 3514.9 L589.0 3513.8 L592.0 3512.8 L595.0 3511.8 L598.0 3510.7 L601.0 3509.7 L604.0 3508.6 L607.0 3507.5 L610.0 3506.4 L613.0 3505.3 L616.0 3504.1 L619.0 3502.9 L622.0 3501.5 L625.0 3500.0 L628.0 3498.3 L631.0 3496.5 L634.0 3494.5 L637.0 3492.4 L640.0 3490.2 L643.0 3488.0 L646.0 3485.6 L649.0 3483.2 L652.0 3480.7 L655.0 3478.0 L658.0 3475.2 L661.0 3472.4 L664.0 3469.4 L667.0 3466.4 L670.0 3463.4 L673.0 3460.4 L676.0 3457.3 L679.0 3454.3 L682.0 3451.1 L685.0 3447.8 L688.0 3444.3 L691.0 3440.6 L694.0 3436.8 L697.0 3432.8 L700.0 3428.7 L703.0 3424.7 L706.0 3420.9 L709.0 3417.2 L712.0 3413.7 L715.0 3410.5 L718.0 3407.4 L721.0 3404.6 L724.0 3401.9 L727.0 3399.5 L730.0 3397.2 L733.0 3395.2 L736.0 3393.4 L739.0 3391.8 L742.0 3390.4 L745.0 3389.3 L748.0 3388.3 L751.0 3387.7 L754.0 3387.2 L757.0 3386.9 L760.0 3386.8 L763.0 3386.9 L766.0 3387.2 L769.0 3387.8 L772.0 3388.6 L775.0 3389.8 L778.0 3391.2 L781.0 3392.8 L784.0 3394.7 L787.0 3396.9 L790.0 3399.3 L793.0 3401.9 L796.0 3404.8 L799.0 3407.9 L802.0 3411.1 L805.0 3414.6 L808.0 3418.3 L811.0 3422.0 L814.0 3426.0 L817.0 3430.0 L820.0 3434.2 L823.0 3438.4 L826.0 3442.8 L829.0 3447.1 L832.0 3451.6 L835.0 3456.0 L838.0 3460.5 L841.0 3464.9 L844.0 3469.3 L847.0 3473.7 L850.0 3477.8 L853.0 3481.9 L856.0 3485.8 L859.0 3489.8 L862.0 3493.8 L865.0 3498.1 L868.0 3502.5 L871.0 3506.9 L874.0 3511.4 L877.0 3515.9 L880.0 3520.3 L883.0 3524.5 L886.0 3528.4 L889.0 3532.0 L892.0 3535.2 L895.0 3538.1 L898.0 3540.8 L901.0 3543.4 L904.0 3545.9 L907.0 3548.3 L910.0 3550.7 L913.0 3553.0 L916.0 3555.1 L919.0 3557.0 L922.0 3558.7 L925.0 3560.2 L928.0 3561.6 L931.0 3562.9 L934.0 3564.2 L937.0 3565.5 L940.0 3566.8 L943.0 3567.9 L946.0 3568.9 L949.0 3569.8 L952.0 3570.5 L955.0 3571.1 L958.0 3571.6 L961.0 3572.2 L964.0 3572.7 L967.0 3573.2 L970.0 3573.8 L973.0 3574.3 L976.0 3574.7 L979.0 3575.2 L982.0 3575.6 L985.0 3576.0 L988.0 3576.4 L991.0 3576.8 L994.0 3577.2 L997.0 3577.6 L1000.0 3577.9 L1003.0 3578.2 L1006.0 3578.5 L1009.0 3578.8 L1012.0 3579.0 L1015.0 3579.2 L1018.0 3579.4 L1021.0 3579.6 L1024.0 3579.8 L1027.0 3580.0 L1030.0 3580.2 L1033.0 3580.4 L1036.0 3580.6 L1039.0 3580.7 L1042.0 3580.9 L1045.0 3581.0 L1048.0 3581.2 L1051.0 3581.3 L1054.0 3581.5 L1057.0 3581.6 L1060.0 3581.7 L1063.0 3581.8 L1066.0 3581.9 L1069.0 3582.0 L1072.0 3582.0 L1075.0 3582.1 L1078.0 3582.2 L1081.0 3582.2 L1084.0 3582.3 L1087.0 3582.4 L1090.0 3582.4 L1093.0 3582.5 L1096.0 3582.5 L1099.0 3582.6 L1102.0 3582.6 L1105.0 3582.7 L1108.0 3582.7 L1111.0 3582.8 L1114.0 3582.8 L1117.0 3582.9 L1120.0 3583.0 L1123.0 3583.0 L1126.0 3583.1 L1129.0 3583.1 L1132.0 3583.2 L1135.0 3583.2 L1138.0 3583.3 L1141.0 3583.3 L1144.0 3583.4 L1147.0 3583.4 L1150.0 3583.5 L1153.0 3583.5 L1156.0 3583.5 L1159.0 3583.6 L1162.0 3583.6 L1165.0 3583.6 L1168.0 3583.6 L1171.0 3583.6 L1174.0 3583.6 L1177.0 3583.7 L1180.0 3583.7 L1183.0 3583.7 L1186.0 3583.7 L1189.0 3583.7 L1192.0 3583.8 L1195.0 3583.8 L1198.0 3583.8 L1201.0 3583.8 L1204.0 3583.8 L1207.0 3583.8 L1210.0 3583.9 L1213.0 3583.9 L1216.0 3583.9 L1219.0 3583.9 L1222.0 3583.9 L1225.0 3584.0 L1228.0 3584.0 L1231.0 3584.0 L1234.0 3584.0 L1237.0 3584.0 L1240.0 3584.0 L1243.0 3584.1 L1246.0 3584.1 L1249.0 3584.1 L1252.0 3584.1 L1255.0 3584.1 L1258.0 3584.2 L1261.0 3584.2 L1264.0 3584.2 L1267.0 3584.2 L1270.0 3584.2 L1273.0 3584.2 L1276.0 3584.3 L1279.0 3584.3 L1282.0 3584.3 L1282.8 3584.3" fill="none" stroke="#474747" stroke-width="3.50" stroke-linejoin="round" stroke-linecap="round"/>
<path d="M109.0 3574.0 L113.0 3574.1 L117.0 3574.1 L121.0 3574.1 L125.0 3574.2 L129.0 3574.2 L133.0 3574.3 L137.0 3574.3 L141.0 3574.4 L145.0 3574.4 L149.0 3574.4 L153.0 3574.5 L157.0 3574.5 L161.0 3574.6 L165.0 3574.6 L169.0 3574.6 L173.0 3574.7 L177.0 3574.7 L181.0 3574.8 L185.0 3574.8 L189.0 3574.8 L193.0 3574.9 L197.0 3574.9 L201.0 3575.0 L205.0 3575.0 L209.0 3575.0 L213.0 3575.1 L217.0 3575.1 L221.0 3575.2 L225.0 3575.2 L229.0 3575.2 L233.0 3575.3 L237.0 3575.3 L241.0 3575.4 L245.0 3575.4 L249.0 3575.5 L253.0 3575.5 L257.0 3575.5 L261.0 3575.6 L265.0 3575.6 L269.0 3575.7 L273.0 3575.7 L277.0 3575.7 L281.0 3575.8 L285.0 3575.8 L289.0 3575.9 L293.0 3575.9 L297.0 3575.9 L301.0 3576.0 L305.0 3576.0 L309.0 3576.1 L313.0 3576.1 L317.0 3576.1 L321.0 3576.2 L325.0 3576.2 L329.0 3576.3 L333.0 3576.3 L337.0 3576.3 L341.0 3576.4 L345.0 3576.4 L349.0 3576.5 L353.0 3576.5 L357.0 3576.5 L361.0 3576.6 L365.0 3576.6 L369.0 3576.7 L373.0 3576.7 L377.0 3576.7 L381.0 3576.8 L385.0 3576.8 L389.0 3576.9 L393.0 3576.9 L397.0 3576.9 L401.0 3577.0 L405.0 3577.0 L409.0 3577.0 L413.0 3577.1 L417.0 3577.1 L421.0 3577.1 L425.0 3577.2 L429.0 3577.2 L433.0 3577.2 L437.0 3577.2 L441.0 3577.2 L445.0 3577.3 L449.0 3577.3 L453.0 3577.3 L457.0 3577.2 L461.0 3577.2 L465.0 3577.2 L469.0 3577.2 L473.0 3577.1 L477.0 3577.0 L481.0 3577.0 L485.0 3576.9 L489.0 3576.7 L493.0 3576.6 L497.0 3576.4 L501.0 3576.2 L505.0 3576.0 L509.0 3575.7 L513.0 3575.4 L517.0 3575.0 L521.0 3574.6 L525.0 3574.1 L529.0 3573.5 L533.0 3572.9 L537.0 3572.2 L541.0 3571.4 L545.0 3570.6 L549.0 3569.6 L553.0 3568.6 L557.0 3567.4 L561.0 3566.1 L565.0 3564.6 L569.0 3563.1 L573.0 3561.4 L577.0 3559.5 L581.0 3557.5 L585.0 3555.3 L589.0 3552.9 L593.0 3550.4 L597.0 3547.7 L601.0 3544.8 L605.0 3541.7 L609.0 3538.4 L613.0 3534.9 L617.0 3531.2 L621.0 3527.3 L625.0 3523.2 L629.0 3518.9 L633.0 3514.5 L637.0 3509.9 L641.0 3505.1 L645.0 3500.2 L649.0 3495.1 L653.0 3489.9 L657.0 3484.6 L661.0 3479.2 L665.0 3473.7 L669.0 3468.2 L673.0 3462.7 L677.0 3457.2 L681.0 3451.7 L685.0 3446.3 L689.0 3441.0 L693.0 3435.7 L697.0 3430.7 L701.0 3425.8 L705.0 3421.1 L709.0 3416.6 L713.0 3412.4 L717.0 3408.5 L721.0 3404.8 L725.0 3401.6 L729.0 3398.6 L733.0 3396.1 L737.0 3393.9 L741.0 3392.2 L745.0 3390.9 L749.0 3390.0 L753.0 3389.5 L757.0 3389.5 L761.0 3389.9 L765.0 3390.8 L769.0 3392.1 L773.0 3393.8 L777.0 3395.9 L781.0 3398.4 L785.0 3401.3 L789.0 3404.6 L793.0 3408.2 L797.0 3412.1 L801.0 3416.3 L805.0 3420.8 L809.0 3425.5 L813.0 3430.5 L817.0 3435.6 L821.0 3440.8 L825.0 3446.2 L829.0 3451.7 L833.0 3457.3 L837.0 3462.9 L841.0 3468.5 L845.0 3474.1 L849.0 3479.6 L853.0 3485.1 L857.0 3490.5 L861.0 3495.8 L865.0 3501.0 L869.0 3506.1 L873.0 3511.0 L877.0 3515.7 L881.0 3520.3 L885.0 3524.7 L889.0 3528.9 L893.0 3532.9 L897.0 3536.8 L901.0 3540.4 L905.0 3543.8 L909.0 3547.1 L913.0 3550.1 L917.0 3553.0 L921.0 3555.6 L925.0 3558.1 L929.0 3560.4 L933.0 3562.6 L937.0 3564.6 L941.0 3566.4 L945.0 3568.1 L949.0 3569.6 L953.0 3571.0 L957.0 3572.3 L961.0 3573.5 L965.0 3574.6 L969.0 3575.6 L973.0 3576.4 L977.0 3577.2 L981.0 3578.0 L985.0 3578.6 L989.0 3579.2 L993.0 3579.7 L997.0 3580.2 L1001.0 3580.6 L1005.0 3581.0 L1009.0 3581.3 L1013.0 3581.6 L1017.0 3581.9 L1021.0 3582.1 L1025.0 3582.3 L1029.0 3582.5 L1033.0 3582.7 L1037.0 3582.8 L1041.0 3583.0 L1045.0 3583.1 L1049.0 3583.2 L1053.0 3583.3 L1057.0 3583.4 L1061.0 3583.5 L1065.0 3583.6 L1069.0 3583.6 L1073.0 3583.7 L1077.0 3583.8 L1081.0 3583.8 L1085.0 3583.9 L1089.0 3583.9 L1093.0 3584.0 L1097.0 3584.0 L1101.0 3584.1 L1105.0 3584.1 L1109.0 3584.2 L1113.0 3584.2 L1117.0 3584.3 L1121.0 3584.3 L1125.0 3584.4 L1129.0 3584.4 L1133.0 3584.4 L1137.0 3584.5 L1141.0 3584.5 L1145.0 3584.6 L1149.0 3584.6 L1153.0 3584.7 L1157.0 3584.7 L1161.0 3584.7 L1165.0 3584.8 L1169.0 3584.8 L1173.0 3584.9 L1177.0 3584.9 L1181.0 3584.9 L1185.0 3585.0 L1189.0 3585.0 L1193.0 3585.1 L1197.0 3585.1 L1201.0 3585.1 L1205.0 3585.2 L1209.0 3585.2 L1213.0 3585.3 L1217.0 3585.3 L1221.0 3585.3 L1225.0 3585.4 L1229.0 3585.4 L1233.0 3585.5 L1237.0 3585.5 L1241.0 3585.6 L1245.0 3585.6 L1249.0 3585.6 L1253.0 3585.7 L1257.0 3585.7 L1261.0 3585.8 L1265.0 3585.8 L1269.0 3585.8 L1273.0 3585.9 L1277.0 3585.9 L1281.0 3586.0 L1282.8 3586.0" fill="none" stroke="#fa3535" stroke-width="3.50" stroke-linejoin="round" stroke-linecap="round"/>
<path d="M109.0 3575.3 L113.0 3575.4 L117.0 3575.4 L121.0 3575.4 L125.0 3575.4 L129.0 3575.5 L133.0 3575.5 L137.0 3575.5 L141.0 3575.6 L145.0 3575.6 L149.0 3575.6 L153.0 3575.6 L157.0 3575.7 L161.0 3575.7 L165.0 3575.7 L169.0 3575.7 L173.0 3575.8 L177.0 3575.8 L181.0 3575.8 L185.0 3575.8 L189.0 3575.8 L193.0 3575.9 L197.0 3575.9 L201.0 3575.9 L205.0 3575.9 L209.0 3576.0 L213.0 3576.0 L217.0 3576.0 L221.0 3576.0 L225.0 3576.0 L229.0 3576.1 L233.0 3576.1 L237.0 3576.1 L241.0 3576.1 L245.0 3576.1 L249.0 3576.2 L253.0 3576.2 L257.0 3576.2 L261.0 3576.2 L265.0 3576.2 L269.0 3576.2 L273.0 3576.2 L277.0 3576.3 L281.0 3576.3 L285.0 3576.3 L289.0 3576.3 L293.0 3576.3 L297.0 3576.3 L301.0 3576.3 L305.0 3576.3 L309.0 3576.3 L313.0 3576.3 L317.0 3576.3 L321.0 3576.3 L325.0 3576.3 L329.0 3576.3 L333.0 3576.3 L337.0 3576.3 L341.0 3576.3 L345.0 3576.3 L349.0 3576.3 L353.0 3576.2 L357.0 3576.2 L361.0 3576.2 L365.0 3576.1 L369.0 3576.1 L373.0 3576.0 L377.0 3575.9 L381.0 3575.8 L385.0 3575.7 L389.0 3575.6 L393.0 3575.5 L397.0 3575.3 L401.0 3575.2 L405.0 3575.0 L409.0 3574.8 L413.0 3574.5 L417.0 3574.2 L421.0 3573.9 L425.0 3573.5 L429.0 3573.1 L433.0 3572.7 L437.0 3572.2 L441.0 3571.7 L445.0 3571.1 L449.0 3570.4 L453.0 3569.7 L457.0 3568.9 L461.0 3568.1 L465.0 3567.1 L469.0 3566.2 L473.0 3565.1 L477.0 3564.0 L481.0 3562.8 L485.0 3561.6 L489.0 3560.3 L493.0 3559.0 L497.0 3557.6 L501.0 3556.1 L505.0 3554.6 L509.0 3553.1 L513.0 3551.6 L517.0 3550.1 L521.0 3548.5 L525.0 3547.0 L529.0 3545.6 L533.0 3544.1 L537.0 3542.8 L541.0 3541.5 L545.0 3540.3 L549.0 3539.2 L553.0 3538.3 L557.0 3537.5 L561.0 3536.9 L565.0 3536.5 L569.0 3536.2 L573.0 3536.1 L577.0 3536.3 L581.0 3536.6 L585.0 3537.1 L589.0 3537.8 L593.0 3538.7 L597.0 3539.7 L601.0 3540.8 L605.0 3542.1 L609.0 3543.4 L613.0 3544.8 L617.0 3546.3 L621.0 3547.9 L625.0 3549.5 L629.0 3551.1 L633.0 3552.7 L637.0 3554.3 L641.0 3555.8 L645.0 3557.4 L649.0 3558.9 L653.0 3560.3 L657.0 3561.8 L661.0 3563.1 L665.0 3564.4 L669.0 3565.7 L673.0 3566.8 L677.0 3567.9 L681.0 3569.0 L685.0 3570.0 L689.0 3570.9 L693.0 3571.7 L697.0 3572.5 L701.0 3573.2 L705.0 3573.9 L709.0 3574.5 L713.0 3575.0 L717.0 3575.6 L721.0 3576.0 L725.0 3576.4 L729.0 3576.8 L733.0 3577.2 L737.0 3577.5 L741.0 3577.8 L745.0 3578.0 L749.0 3578.3 L753.0 3578.5 L757.0 3578.7 L761.0 3578.9 L765.0 3579.0 L769.0 3579.2 L773.0 3579.3 L777.0 3579.5 L781.0 3579.6 L785.0 3579.7 L789.0 3579.8 L793.0 3579.9 L797.0 3580.0 L801.0 3580.1 L805.0 3580.2 L809.0 3580.2 L813.0 3580.3 L817.0 3580.4 L821.0 3580.5 L825.0 3580.5 L829.0 3580.6 L833.0 3580.7 L837.0 3580.7 L841.0 3580.8 L845.0 3580.8 L849.0 3580.9 L853.0 3581.0 L857.0 3581.0 L861.0 3581.1 L865.0 3581.1 L869.0 3581.2 L873.0 3581.2 L877.0 3581.3 L881.0 3581.3 L885.0 3581.4 L889.0 3581.4 L893.0 3581.5 L897.0 3581.5 L901.0 3581.6 L905.0 3581.6 L909.0 3581.7 L913.0 3581.7 L917.0 3581.8 L921.0 3581.8 L925.0 3581.9 L929.0 3581.9 L933.0 3582.0 L937.0 3582.0 L941.0 3582.1 L945.0 3582.1 L949.0 3582.1 L953.0 3582.2 L957.0 3582.2 L961.0 3582.3 L965.0 3582.3 L969.0 3582.4 L973.0 3582.4 L977.0 3582.4 L981.0 3582.5 L985.0 3582.5 L989.0 3582.6 L993.0 3582.6 L997.0 3582.6 L1001.0 3582.7 L1005.0 3582.7 L1009.0 3582.8 L1013.0 3582.8 L1017.0 3582.9 L1021.0 3582.9 L1025.0 3582.9 L1029.0 3583.0 L1033.0 3583.0 L1037.0 3583.0 L1041.0 3583.1 L1045.0 3583.1 L1049.0 3583.2 L1053.0 3583.2 L1057.0 3583.2 L1061.0 3583.3 L1065.0 3583.3 L1069.0 3583.4 L1073.0 3583.4 L1077.0 3583.4 L1081.0 3583.5 L1085.0 3583.5 L1089.0 3583.5 L1093.0 3583.6 L1097.0 3583.6 L1101.0 3583.7 L1105.0 3583.7 L1109.0 3583.7 L1113.0 3583.8 L1117.0 3583.8 L1121.0 3583.8 L1125.0 3583.9 L1129.0 3583.9 L1133.0 3583.9 L1137.0 3584.0 L1141.0 3584.0 L1145.0 3584.1 L1149.0 3584.1 L1153.0 3584.1 L1157.0 3584.2 L1161.0 3584.2 L1165.0 3584.2 L1169.0 3584.3 L1173.0 3584.3 L1177.0 3584.3 L1181.0 3584.4 L1185.0 3584.4 L1189.0 3584.5 L1193.0 3584.5 L1197.0 3584.5 L1201.0 3584.6 L1205.0 3584.6 L1209.0 3584.6 L1213.0 3584.7 L1217.0 3584.7 L1221.0 3584.7 L1225.0 3584.8 L1229.0 3584.8 L1233.0 3584.8 L1237.0 3584.9 L1241.0 3584.9 L1245.0 3585.0 L1249.0 3585.0 L1253.0 3585.0 L1257.0 3585.1 L1261.0 3585.1 L1265.0 3585.1 L1269.0 3585.2 L1273.0 3585.2 L1277.0 3585.2 L1281.0 3585.3 L1282.8 3585.3" fill="none" stroke="#0a6ee0" stroke-width="3.50" stroke-linejoin="round" stroke-linecap="round"/>
<path d="M109.0 3570.9 L113.0 3570.6 L117.0 3570.4 L121.0 3570.1 L125.0 3569.8 L129.0 3569.5 L133.0 3569.2 L137.0 3568.9 L141.0 3568.6 L145.0 3568.3 L149.0 3568.0 L153.0 3567.6 L157.0 3567.3 L161.0 3567.0 L165.0 3566.6 L169.0 3566.2 L173.0 3565.9 L177.0 3565.5 L181.0 3565.1 L185.0 3564.8 L189.0 3564.4 L193.0 3564.0 L197.0 3563.6 L201.0 3563.2 L205.0 3562.8 L209.0 3562.5 L213.0 3562.1 L217.0 3561.7 L221.0 3561.3 L225.0 3561.0 L229.0 3560.6 L233.0 3560.3 L237.0 3559.9 L241.0 3559.6 L245.0 3559.3 L249.0 3559.0 L253.0 3558.7 L257.0 3558.4 L261.0 3558.2 L265.0 3557.9 L269.0 3557.7 L273.0 3557.6 L277.0 3557.4 L281.0 3557.3 L285.0 3557.2 L289.0 3557.1 L293.0 3557.0 L297.0 3557.0 L301.0 3557.0 L305.0 3557.1 L309.0 3557.1 L313.0 3557.2 L317.0 3557.4 L321.0 3557.5 L325.0 3557.7 L329.0 3557.9 L333.0 3558.1 L337.0 3558.4 L341.0 3558.7 L345.0 3559.0 L349.0 3559.3 L353.0 3559.6 L357.0 3560.0 L361.0 3560.3 L365.0 3560.7 L369.0 3561.1 L373.0 3561.5 L377.0 3561.9 L381.0 3562.4 L385.0 3562.8 L389.0 3563.2 L393.0 3563.7 L397.0 3564.1 L401.0 3564.5 L405.0 3565.0 L409.0 3565.4 L413.0 3565.9 L417.0 3566.3 L421.0 3566.7 L425.0 3567.2 L429.0 3567.6 L433.0 3568.0 L437.0 3568.4 L441.0 3568.8 L445.0 3569.2 L449.0 3569.6 L453.0 3570.0 L457.0 3570.4 L461.0 3570.8 L465.0 3571.2 L469.0 3571.5 L473.0 3571.9 L477.0 3572.2 L481.0 3572.6 L485.0 3572.9 L489.0 3573.2 L493.0 3573.5 L497.0 3573.8 L501.0 3574.1 L505.0 3574.4 L509.0 3574.7 L513.0 3574.9 L517.0 3575.2 L521.0 3575.4 L525.0 3575.7 L529.0 3575.9 L533.0 3576.1 L537.0 3576.4 L541.0 3576.6 L545.0 3576.8 L549.0 3577.0 L553.0 3577.2 L557.0 3577.3 L561.0 3577.5 L565.0 3577.7 L569.0 3577.8 L573.0 3578.0 L577.0 3578.1 L581.0 3578.3 L585.0 3578.4 L589.0 3578.6 L593.0 3578.7 L597.0 3578.8 L601.0 3578.9 L605.0 3579.0 L609.0 3579.1 L613.0 3579.3 L617.0 3579.4 L621.0 3579.5 L625.0 3579.5 L629.0 3579.6 L633.0 3579.7 L637.0 3579.8 L641.0 3579.9 L645.0 3580.0 L649.0 3580.1 L653.0 3580.1 L657.0 3580.2 L661.0 3580.3 L665.0 3580.3 L669.0 3580.4 L673.0 3580.5 L677.0 3580.5 L681.0 3580.6 L685.0 3580.7 L689.0 3580.7 L693.0 3580.8 L697.0 3580.8 L701.0 3580.9 L705.0 3580.9 L709.0 3581.0 L713.0 3581.1 L717.0 3581.1 L721.0 3581.2 L725.0 3581.2 L729.0 3581.3 L733.0 3581.3 L737.0 3581.3 L741.0 3581.4 L745.0 3581.4 L749.0 3581.5 L753.0 3581.5 L757.0 3581.6 L761.0 3581.6 L765.0 3581.7 L769.0 3581.7 L773.0 3581.8 L777.0 3581.8 L781.0 3581.8 L785.0 3581.9 L789.0 3581.9 L793.0 3582.0 L797.0 3582.0 L801.0 3582.0 L805.0 3582.1 L809.0 3582.1 L813.0 3582.2 L817.0 3582.2 L821.0 3582.2 L825.0 3582.3 L829.0 3582.3 L833.0 3582.4 L837.0 3582.4 L841.0 3582.4 L845.0 3582.5 L849.0 3582.5 L853.0 3582.5 L857.0 3582.6 L861.0 3582.6 L865.0 3582.7 L869.0 3582.7 L873.0 3582.7 L877.0 3582.8 L881.0 3582.8 L885.0 3582.8 L889.0 3582.9 L893.0 3582.9 L897.0 3582.9 L901.0 3583.0 L905.0 3583.0 L909.0 3583.1 L913.0 3583.1 L917.0 3583.1 L921.0 3583.2 L925.0 3583.2 L929.0 3583.2 L933.0 3583.3 L937.0 3583.3 L941.0 3583.3 L945.0 3583.4 L949.0 3583.4 L953.0 3583.4 L957.0 3583.5 L961.0 3583.5 L965.0 3583.5 L969.0 3583.6 L973.0 3583.6 L977.0 3583.6 L981.0 3583.7 L985.0 3583.7 L989.0 3583.7 L993.0 3583.8 L997.0 3583.8 L1001.0 3583.8 L1005.0 3583.9 L1009.0 3583.9 L1013.0 3583.9 L1017.0 3584.0 L1021.0 3584.0 L1025.0 3584.0 L1029.0 3584.1 L1033.0 3584.1 L1037.0 3584.1 L1041.0 3584.2 L1045.0 3584.2 L1049.0 3584.2 L1053.0 3584.3 L1057.0 3584.3 L1061.0 3584.3 L1065.0 3584.4 L1069.0 3584.4 L1073.0 3584.4 L1077.0 3584.5 L1081.0 3584.5 L1085.0 3584.5 L1089.0 3584.5 L1093.0 3584.6 L1097.0 3584.6 L1101.0 3584.6 L1105.0 3584.7 L1109.0 3584.7 L1113.0 3584.7 L1117.0 3584.8 L1121.0 3584.8 L1125.0 3584.8 L1129.0 3584.9 L1133.0 3584.9 L1137.0 3584.9 L1141.0 3585.0 L1145.0 3585.0 L1149.0 3585.0 L1153.0 3585.1 L1157.0 3585.1 L1161.0 3585.1 L1165.0 3585.1 L1169.0 3585.2 L1173.0 3585.2 L1177.0 3585.2 L1181.0 3585.3 L1185.0 3585.3 L1189.0 3585.3 L1193.0 3585.4 L1197.0 3585.4 L1201.0 3585.4 L1205.0 3585.5 L1209.0 3585.5 L1213.0 3585.5 L1217.0 3585.5 L1221.0 3585.6 L1225.0 3585.6 L1229.0 3585.6 L1233.0 3585.7 L1237.0 3585.7 L1241.0 3585.7 L1245.0 3585.8 L1249.0 3585.8 L1253.0 3585.8 L1257.0 3585.8 L1261.0 3585.9 L1265.0 3585.9 L1269.0 3585.9 L1273.0 3586.0 L1277.0 3586.0 L1281.0 3586.0 L1282.8 3586.0" fill="none" stroke="#c278e0" stroke-width="3.50" stroke-linejoin="round" stroke-linecap="round"/>
<path d="M109.0 3575.5 L113.0 3575.5 L117.0 3575.5 L121.0 3575.6 L125.0 3575.6 L129.0 3575.6 L133.0 3575.6 L137.0 3575.7 L141.0 3575.7 L145.0 3575.7 L149.0 3575.7 L153.0 3575.8 L157.0 3575.8 L161.0 3575.8 L165.0 3575.9 L169.0 3575.9 L173.0 3575.9 L177.0 3575.9 L181.0 3575.9 L185.0 3576.0 L189.0 3576.0 L193.0 3576.0 L197.0 3576.0 L201.0 3576.1 L205.0 3576.1 L209.0 3576.1 L213.0 3576.1 L217.0 3576.1 L221.0 3576.1 L225.0 3576.2 L229.0 3576.2 L233.0 3576.2 L237.0 3576.2 L241.0 3576.2 L245.0 3576.2 L249.0 3576.2 L253.0 3576.3 L257.0 3576.3 L261.0 3576.3 L265.0 3576.3 L269.0 3576.3 L273.0 3576.3 L277.0 3576.3 L281.0 3576.3 L285.0 3576.3 L289.0 3576.3 L293.0 3576.2 L297.0 3576.2 L301.0 3576.2 L305.0 3576.2 L309.0 3576.2 L313.0 3576.1 L317.0 3576.1 L321.0 3576.1 L325.0 3576.0 L329.0 3576.0 L333.0 3575.9 L337.0 3575.8 L341.0 3575.8 L345.0 3575.7 L349.0 3575.6 L353.0 3575.5 L357.0 3575.3 L361.0 3575.2 L365.0 3575.0 L369.0 3574.9 L373.0 3574.7 L377.0 3574.5 L381.0 3574.2 L385.0 3574.0 L389.0 3573.7 L393.0 3573.4 L397.0 3573.0 L401.0 3572.7 L405.0 3572.3 L409.0 3571.9 L413.0 3571.4 L417.0 3571.0 L421.0 3570.5 L425.0 3570.0 L429.0 3569.5 L433.0 3569.0 L437.0 3568.5 L441.0 3568.1 L445.0 3567.7 L449.0 3567.4 L453.0 3567.1 L457.0 3567.0 L461.0 3566.9 L465.0 3567.0 L469.0 3567.2 L473.0 3567.4 L477.0 3567.8 L481.0 3568.2 L485.0 3568.7 L489.0 3569.3 L493.0 3569.8 L497.0 3570.4 L501.0 3570.9 L505.0 3571.5 L509.0 3572.0 L513.0 3572.6 L517.0 3573.0 L521.0 3573.5 L525.0 3574.0 L529.0 3574.4 L533.0 3574.8 L537.0 3575.1 L541.0 3575.5 L545.0 3575.8 L549.0 3576.1 L553.0 3576.3 L557.0 3576.6 L561.0 3576.8 L565.0 3577.0 L569.0 3577.2 L573.0 3577.4 L577.0 3577.6 L581.0 3577.8 L585.0 3577.9 L589.0 3578.1 L593.0 3578.2 L597.0 3578.3 L601.0 3578.4 L605.0 3578.5 L609.0 3578.6 L613.0 3578.7 L617.0 3578.8 L621.0 3578.9 L625.0 3579.0 L629.0 3579.1 L633.0 3579.2 L637.0 3579.3 L641.0 3579.3 L645.0 3579.4 L649.0 3579.5 L653.0 3579.6 L657.0 3579.6 L661.0 3579.7 L665.0 3579.7 L669.0 3579.8 L673.0 3579.9 L677.0 3579.9 L681.0 3580.0 L685.0 3580.0 L689.0 3580.1 L693.0 3580.2 L697.0 3580.2 L701.0 3580.3 L705.0 3580.3 L709.0 3580.4 L713.0 3580.4 L717.0 3580.5 L721.0 3580.5 L725.0 3580.6 L729.0 3580.6 L733.0 3580.7 L737.0 3580.7 L741.0 3580.7 L745.0 3580.8 L749.0 3580.8 L753.0 3580.9 L757.0 3580.9 L761.0 3581.0 L765.0 3581.0 L769.0 3581.1 L773.0 3581.1 L777.0 3581.1 L781.0 3581.2 L785.0 3581.2 L789.0 3581.3 L793.0 3581.3 L797.0 3581.4 L801.0 3581.4 L805.0 3581.4 L809.0 3581.5 L813.0 3581.5 L817.0 3581.6 L821.0 3581.6 L825.0 3581.6 L829.0 3581.7 L833.0 3581.7 L837.0 3581.8 L841.0 3581.8 L845.0 3581.8 L849.0 3581.9 L853.0 3581.9 L857.0 3582.0 L861.0 3582.0 L865.0 3582.0 L869.0 3582.1 L873.0 3582.1 L877.0 3582.1 L881.0 3582.2 L885.0 3582.2 L889.0 3582.3 L893.0 3582.3 L897.0 3582.3 L901.0 3582.4 L905.0 3582.4 L909.0 3582.4 L913.0 3582.5 L917.0 3582.5 L921.0 3582.6 L925.0 3582.6 L929.0 3582.6 L933.0 3582.7 L937.0 3582.7 L941.0 3582.7 L945.0 3582.8 L949.0 3582.8 L953.0 3582.9 L957.0 3582.9 L961.0 3582.9 L965.0 3583.0 L969.0 3583.0 L973.0 3583.0 L977.0 3583.1 L981.0 3583.1 L985.0 3583.1 L989.0 3583.2 L993.0 3583.2 L997.0 3583.3 L1001.0 3583.3 L1005.0 3583.3 L1009.0 3583.4 L1013.0 3583.4 L1017.0 3583.4 L1021.0 3583.5 L1025.0 3583.5 L1029.0 3583.5 L1033.0 3583.6 L1037.0 3583.6 L1041.0 3583.6 L1045.0 3583.7 L1049.0 3583.7 L1053.0 3583.8 L1057.0 3583.8 L1061.0 3583.8 L1065.0 3583.9 L1069.0 3583.9 L1073.0 3583.9 L1077.0 3584.0 L1081.0 3584.0 L1085.0 3584.0 L1089.0 3584.1 L1093.0 3584.1 L1097.0 3584.1 L1101.0 3584.2 L1105.0 3584.2 L1109.0 3584.3 L1113.0 3584.3 L1117.0 3584.3 L1121.0 3584.4 L1125.0 3584.4 L1129.0 3584.4 L1133.0 3584.5 L1137.0 3584.5 L1141.0 3584.5 L1145.0 3584.6 L1149.0 3584.6 L1153.0 3584.6 L1157.0 3584.7 L1161.0 3584.7 L1165.0 3584.7 L1169.0 3584.8 L1173.0 3584.8 L1177.0 3584.8 L1181.0 3584.9 L1185.0 3584.9 L1189.0 3585.0 L1193.0 3585.0 L1197.0 3585.0 L1201.0 3585.1 L1205.0 3585.1 L1209.0 3585.1 L1213.0 3585.2 L1217.0 3585.2 L1221.0 3585.2 L1225.0 3585.3 L1229.0 3585.3 L1233.0 3585.3 L1237.0 3585.4 L1241.0 3585.4 L1245.0 3585.4 L1249.0 3585.5 L1253.0 3585.5 L1257.0 3585.5 L1261.0 3585.6 L1265.0 3585.6 L1269.0 3585.7 L1273.0 3585.7 L1277.0 3585.7 L1281.0 3585.8 L1282.8 3585.8" fill="none" stroke="#00aa5e" stroke-width="3.50" stroke-linejoin="round" stroke-linecap="round"/>
</g></svg></body></html>
